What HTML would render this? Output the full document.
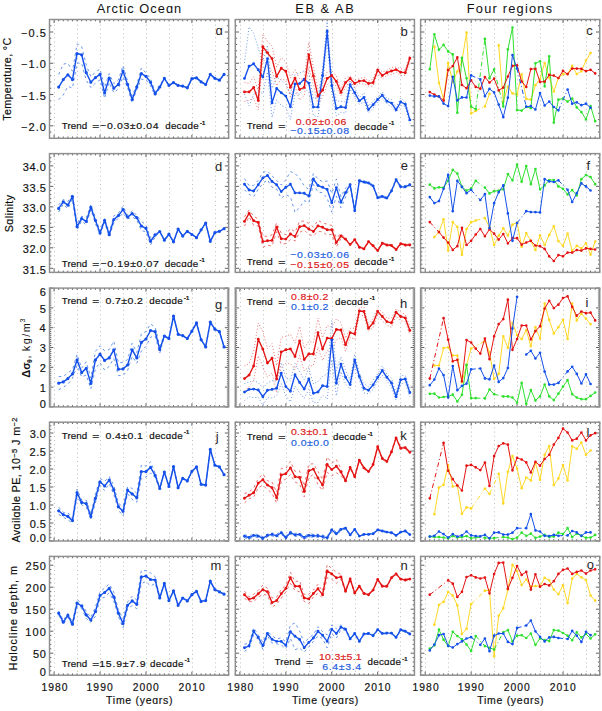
<!DOCTYPE html>
<html><head><meta charset="utf-8"><title>Figure</title>
<style>html,body{margin:0;padding:0;background:#fff;}svg{display:block;}text{font-family:"Liberation Sans",sans-serif;}.s{stroke:currentColor;stroke-width:0.18px;}</style>
</head><body>
<svg width="602" height="711" viewBox="0 0 602 711" font-family="Liberation Sans, sans-serif">
<rect width="602" height="711" fill="#fff"/>
<line x1="54.5" y1="20.5" x2="54.5" y2="137.3" stroke="#b4b4b4" stroke-width="0.9" stroke-dasharray="1 3.2"/>
<line x1="77.5" y1="20.5" x2="77.5" y2="137.3" stroke="#b4b4b4" stroke-width="0.9" stroke-dasharray="1 3.2"/>
<line x1="100.5" y1="20.5" x2="100.5" y2="137.3" stroke="#b4b4b4" stroke-width="0.9" stroke-dasharray="1 3.2"/>
<line x1="123.5" y1="20.5" x2="123.5" y2="137.3" stroke="#b4b4b4" stroke-width="0.9" stroke-dasharray="1 3.2"/>
<line x1="146.5" y1="20.5" x2="146.5" y2="137.3" stroke="#b4b4b4" stroke-width="0.9" stroke-dasharray="1 3.2"/>
<line x1="169.5" y1="20.5" x2="169.5" y2="137.3" stroke="#b4b4b4" stroke-width="0.9" stroke-dasharray="1 3.2"/>
<line x1="192.5" y1="20.5" x2="192.5" y2="137.3" stroke="#b4b4b4" stroke-width="0.9" stroke-dasharray="1 3.2"/>
<line x1="215.5" y1="20.5" x2="215.5" y2="137.3" stroke="#b4b4b4" stroke-width="0.9" stroke-dasharray="1 3.2"/>
<path d="M49.5 138.3v-1.8M49.5 19.5v1.8M54.09 138.3v-3.5M54.09 19.5v3.5M58.69 138.3v-1.8M58.69 19.5v1.8M63.28 138.3v-1.8M63.28 19.5v1.8M67.87 138.3v-1.8M67.87 19.5v1.8M72.47 138.3v-1.8M72.47 19.5v1.8M77.06 138.3v-1.8M77.06 19.5v1.8M81.66 138.3v-1.8M81.66 19.5v1.8M86.25 138.3v-1.8M86.25 19.5v1.8M90.84 138.3v-1.8M90.84 19.5v1.8M95.44 138.3v-1.8M95.44 19.5v1.8M100.03 138.3v-3.5M100.03 19.5v3.5M104.62 138.3v-1.8M104.62 19.5v1.8M109.22 138.3v-1.8M109.22 19.5v1.8M113.81 138.3v-1.8M113.81 19.5v1.8M118.4 138.3v-1.8M118.4 19.5v1.8M123 138.3v-1.8M123 19.5v1.8M127.59 138.3v-1.8M127.59 19.5v1.8M132.18 138.3v-1.8M132.18 19.5v1.8M136.78 138.3v-1.8M136.78 19.5v1.8M141.37 138.3v-1.8M141.37 19.5v1.8M145.97 138.3v-3.5M145.97 19.5v3.5M150.56 138.3v-1.8M150.56 19.5v1.8M155.15 138.3v-1.8M155.15 19.5v1.8M159.75 138.3v-1.8M159.75 19.5v1.8M164.34 138.3v-1.8M164.34 19.5v1.8M168.93 138.3v-1.8M168.93 19.5v1.8M173.53 138.3v-1.8M173.53 19.5v1.8M178.12 138.3v-1.8M178.12 19.5v1.8M182.71 138.3v-1.8M182.71 19.5v1.8M187.31 138.3v-1.8M187.31 19.5v1.8M191.9 138.3v-3.5M191.9 19.5v3.5M196.49 138.3v-1.8M196.49 19.5v1.8M201.09 138.3v-1.8M201.09 19.5v1.8M205.68 138.3v-1.8M205.68 19.5v1.8M210.28 138.3v-1.8M210.28 19.5v1.8M214.87 138.3v-1.8M214.87 19.5v1.8M219.46 138.3v-1.8M219.46 19.5v1.8M224.06 138.3v-1.8M224.06 19.5v1.8M228.65 138.3v-1.8M228.65 19.5v1.8M49.5 138.3h1.8M228.65 138.3h-1.8M49.5 132.05h1.8M228.65 132.05h-1.8M49.5 125.79h3.8M228.65 125.79h-3.8M49.5 119.54h1.8M228.65 119.54h-1.8M49.5 113.29h1.8M228.65 113.29h-1.8M49.5 107.04h1.8M228.65 107.04h-1.8M49.5 100.78h1.8M228.65 100.78h-1.8M49.5 94.53h3.8M228.65 94.53h-3.8M49.5 88.28h1.8M228.65 88.28h-1.8M49.5 82.03h1.8M228.65 82.03h-1.8M49.5 75.77h1.8M228.65 75.77h-1.8M49.5 69.52h1.8M228.65 69.52h-1.8M49.5 63.27h3.8M228.65 63.27h-3.8M49.5 57.02h1.8M228.65 57.02h-1.8M49.5 50.76h1.8M228.65 50.76h-1.8M49.5 44.51h1.8M228.65 44.51h-1.8M49.5 38.26h1.8M228.65 38.26h-1.8M49.5 32.01h3.8M228.65 32.01h-3.8M49.5 25.75h1.8M228.65 25.75h-1.8M49.5 19.5h1.8M228.65 19.5h-1.8" stroke="#505050" stroke-width="0.9" fill="none"/>
<rect x="49.5" y="19.5" width="179.15" height="118.8" fill="none" stroke="#8e8e8e" stroke-width="1.45"/>
<line x1="240.5" y1="20.5" x2="240.5" y2="137.3" stroke="#b4b4b4" stroke-width="0.9" stroke-dasharray="1 3.2"/>
<line x1="263.5" y1="20.5" x2="263.5" y2="137.3" stroke="#b4b4b4" stroke-width="0.9" stroke-dasharray="1 3.2"/>
<line x1="286.5" y1="20.5" x2="286.5" y2="137.3" stroke="#b4b4b4" stroke-width="0.9" stroke-dasharray="1 3.2"/>
<line x1="309.5" y1="20.5" x2="309.5" y2="137.3" stroke="#b4b4b4" stroke-width="0.9" stroke-dasharray="1 3.2"/>
<line x1="332.5" y1="20.5" x2="332.5" y2="137.3" stroke="#b4b4b4" stroke-width="0.9" stroke-dasharray="1 3.2"/>
<line x1="355.5" y1="20.5" x2="355.5" y2="137.3" stroke="#b4b4b4" stroke-width="0.9" stroke-dasharray="1 3.2"/>
<line x1="378.5" y1="20.5" x2="378.5" y2="137.3" stroke="#b4b4b4" stroke-width="0.9" stroke-dasharray="1 3.2"/>
<line x1="400.5" y1="20.5" x2="400.5" y2="137.3" stroke="#b4b4b4" stroke-width="0.9" stroke-dasharray="1 3.2"/>
<path d="M235.3 138.3v-1.8M235.3 19.5v1.8M239.89 138.3v-3.5M239.89 19.5v3.5M244.49 138.3v-1.8M244.49 19.5v1.8M249.08 138.3v-1.8M249.08 19.5v1.8M253.67 138.3v-1.8M253.67 19.5v1.8M258.27 138.3v-1.8M258.27 19.5v1.8M262.86 138.3v-1.8M262.86 19.5v1.8M267.46 138.3v-1.8M267.46 19.5v1.8M272.05 138.3v-1.8M272.05 19.5v1.8M276.64 138.3v-1.8M276.64 19.5v1.8M281.24 138.3v-1.8M281.24 19.5v1.8M285.83 138.3v-3.5M285.83 19.5v3.5M290.42 138.3v-1.8M290.42 19.5v1.8M295.02 138.3v-1.8M295.02 19.5v1.8M299.61 138.3v-1.8M299.61 19.5v1.8M304.2 138.3v-1.8M304.2 19.5v1.8M308.8 138.3v-1.8M308.8 19.5v1.8M313.39 138.3v-1.8M313.39 19.5v1.8M317.98 138.3v-1.8M317.98 19.5v1.8M322.58 138.3v-1.8M322.58 19.5v1.8M327.17 138.3v-1.8M327.17 19.5v1.8M331.77 138.3v-3.5M331.77 19.5v3.5M336.36 138.3v-1.8M336.36 19.5v1.8M340.95 138.3v-1.8M340.95 19.5v1.8M345.55 138.3v-1.8M345.55 19.5v1.8M350.14 138.3v-1.8M350.14 19.5v1.8M354.73 138.3v-1.8M354.73 19.5v1.8M359.33 138.3v-1.8M359.33 19.5v1.8M363.92 138.3v-1.8M363.92 19.5v1.8M368.51 138.3v-1.8M368.51 19.5v1.8M373.11 138.3v-1.8M373.11 19.5v1.8M377.7 138.3v-3.5M377.7 19.5v3.5M382.29 138.3v-1.8M382.29 19.5v1.8M386.89 138.3v-1.8M386.89 19.5v1.8M391.48 138.3v-1.8M391.48 19.5v1.8M396.08 138.3v-1.8M396.08 19.5v1.8M400.67 138.3v-1.8M400.67 19.5v1.8M405.26 138.3v-1.8M405.26 19.5v1.8M409.86 138.3v-1.8M409.86 19.5v1.8M414.45 138.3v-1.8M414.45 19.5v1.8M235.3 138.3h1.8M414.45 138.3h-1.8M235.3 132.05h1.8M414.45 132.05h-1.8M235.3 125.79h3.8M414.45 125.79h-3.8M235.3 119.54h1.8M414.45 119.54h-1.8M235.3 113.29h1.8M414.45 113.29h-1.8M235.3 107.04h1.8M414.45 107.04h-1.8M235.3 100.78h1.8M414.45 100.78h-1.8M235.3 94.53h3.8M414.45 94.53h-3.8M235.3 88.28h1.8M414.45 88.28h-1.8M235.3 82.03h1.8M414.45 82.03h-1.8M235.3 75.77h1.8M414.45 75.77h-1.8M235.3 69.52h1.8M414.45 69.52h-1.8M235.3 63.27h3.8M414.45 63.27h-3.8M235.3 57.02h1.8M414.45 57.02h-1.8M235.3 50.76h1.8M414.45 50.76h-1.8M235.3 44.51h1.8M414.45 44.51h-1.8M235.3 38.26h1.8M414.45 38.26h-1.8M235.3 32.01h3.8M414.45 32.01h-3.8M235.3 25.75h1.8M414.45 25.75h-1.8M235.3 19.5h1.8M414.45 19.5h-1.8" stroke="#505050" stroke-width="0.9" fill="none"/>
<rect x="235.3" y="19.5" width="179.15" height="118.8" fill="none" stroke="#8e8e8e" stroke-width="1.45"/>
<line x1="425.5" y1="20.5" x2="425.5" y2="137.3" stroke="#b4b4b4" stroke-width="0.9" stroke-dasharray="1 3.2"/>
<line x1="448.5" y1="20.5" x2="448.5" y2="137.3" stroke="#b4b4b4" stroke-width="0.9" stroke-dasharray="1 3.2"/>
<line x1="471.5" y1="20.5" x2="471.5" y2="137.3" stroke="#b4b4b4" stroke-width="0.9" stroke-dasharray="1 3.2"/>
<line x1="494.5" y1="20.5" x2="494.5" y2="137.3" stroke="#b4b4b4" stroke-width="0.9" stroke-dasharray="1 3.2"/>
<line x1="517.5" y1="20.5" x2="517.5" y2="137.3" stroke="#b4b4b4" stroke-width="0.9" stroke-dasharray="1 3.2"/>
<line x1="540.5" y1="20.5" x2="540.5" y2="137.3" stroke="#b4b4b4" stroke-width="0.9" stroke-dasharray="1 3.2"/>
<line x1="563.5" y1="20.5" x2="563.5" y2="137.3" stroke="#b4b4b4" stroke-width="0.9" stroke-dasharray="1 3.2"/>
<line x1="586.5" y1="20.5" x2="586.5" y2="137.3" stroke="#b4b4b4" stroke-width="0.9" stroke-dasharray="1 3.2"/>
<path d="M420.6 138.3v-1.8M420.6 19.5v1.8M425.19 138.3v-3.5M425.19 19.5v3.5M429.79 138.3v-1.8M429.79 19.5v1.8M434.38 138.3v-1.8M434.38 19.5v1.8M438.97 138.3v-1.8M438.97 19.5v1.8M443.57 138.3v-1.8M443.57 19.5v1.8M448.16 138.3v-1.8M448.16 19.5v1.8M452.76 138.3v-1.8M452.76 19.5v1.8M457.35 138.3v-1.8M457.35 19.5v1.8M461.94 138.3v-1.8M461.94 19.5v1.8M466.54 138.3v-1.8M466.54 19.5v1.8M471.13 138.3v-3.5M471.13 19.5v3.5M475.72 138.3v-1.8M475.72 19.5v1.8M480.32 138.3v-1.8M480.32 19.5v1.8M484.91 138.3v-1.8M484.91 19.5v1.8M489.5 138.3v-1.8M489.5 19.5v1.8M494.1 138.3v-1.8M494.1 19.5v1.8M498.69 138.3v-1.8M498.69 19.5v1.8M503.28 138.3v-1.8M503.28 19.5v1.8M507.88 138.3v-1.8M507.88 19.5v1.8M512.47 138.3v-1.8M512.47 19.5v1.8M517.07 138.3v-3.5M517.07 19.5v3.5M521.66 138.3v-1.8M521.66 19.5v1.8M526.25 138.3v-1.8M526.25 19.5v1.8M530.85 138.3v-1.8M530.85 19.5v1.8M535.44 138.3v-1.8M535.44 19.5v1.8M540.03 138.3v-1.8M540.03 19.5v1.8M544.63 138.3v-1.8M544.63 19.5v1.8M549.22 138.3v-1.8M549.22 19.5v1.8M553.81 138.3v-1.8M553.81 19.5v1.8M558.41 138.3v-1.8M558.41 19.5v1.8M563 138.3v-3.5M563 19.5v3.5M567.59 138.3v-1.8M567.59 19.5v1.8M572.19 138.3v-1.8M572.19 19.5v1.8M576.78 138.3v-1.8M576.78 19.5v1.8M581.38 138.3v-1.8M581.38 19.5v1.8M585.97 138.3v-1.8M585.97 19.5v1.8M590.56 138.3v-1.8M590.56 19.5v1.8M595.16 138.3v-1.8M595.16 19.5v1.8M599.75 138.3v-1.8M599.75 19.5v1.8M420.6 138.3h1.8M599.75 138.3h-1.8M420.6 132.05h1.8M599.75 132.05h-1.8M420.6 125.79h3.8M599.75 125.79h-3.8M420.6 119.54h1.8M599.75 119.54h-1.8M420.6 113.29h1.8M599.75 113.29h-1.8M420.6 107.04h1.8M599.75 107.04h-1.8M420.6 100.78h1.8M599.75 100.78h-1.8M420.6 94.53h3.8M599.75 94.53h-3.8M420.6 88.28h1.8M599.75 88.28h-1.8M420.6 82.03h1.8M599.75 82.03h-1.8M420.6 75.77h1.8M599.75 75.77h-1.8M420.6 69.52h1.8M599.75 69.52h-1.8M420.6 63.27h3.8M599.75 63.27h-3.8M420.6 57.02h1.8M599.75 57.02h-1.8M420.6 50.76h1.8M599.75 50.76h-1.8M420.6 44.51h1.8M599.75 44.51h-1.8M420.6 38.26h1.8M599.75 38.26h-1.8M420.6 32.01h3.8M599.75 32.01h-3.8M420.6 25.75h1.8M599.75 25.75h-1.8M420.6 19.5h1.8M599.75 19.5h-1.8" stroke="#505050" stroke-width="0.9" fill="none"/>
<rect x="420.6" y="19.5" width="179.15" height="118.8" fill="none" stroke="#8e8e8e" stroke-width="1.45"/>
<line x1="54.5" y1="154.6" x2="54.5" y2="271.4" stroke="#b4b4b4" stroke-width="0.9" stroke-dasharray="1 3.2"/>
<line x1="77.5" y1="154.6" x2="77.5" y2="271.4" stroke="#b4b4b4" stroke-width="0.9" stroke-dasharray="1 3.2"/>
<line x1="100.5" y1="154.6" x2="100.5" y2="271.4" stroke="#b4b4b4" stroke-width="0.9" stroke-dasharray="1 3.2"/>
<line x1="123.5" y1="154.6" x2="123.5" y2="271.4" stroke="#b4b4b4" stroke-width="0.9" stroke-dasharray="1 3.2"/>
<line x1="146.5" y1="154.6" x2="146.5" y2="271.4" stroke="#b4b4b4" stroke-width="0.9" stroke-dasharray="1 3.2"/>
<line x1="169.5" y1="154.6" x2="169.5" y2="271.4" stroke="#b4b4b4" stroke-width="0.9" stroke-dasharray="1 3.2"/>
<line x1="192.5" y1="154.6" x2="192.5" y2="271.4" stroke="#b4b4b4" stroke-width="0.9" stroke-dasharray="1 3.2"/>
<line x1="215.5" y1="154.6" x2="215.5" y2="271.4" stroke="#b4b4b4" stroke-width="0.9" stroke-dasharray="1 3.2"/>
<path d="M49.5 272.4v-1.8M49.5 153.6v1.8M54.09 272.4v-3.5M54.09 153.6v3.5M58.69 272.4v-1.8M58.69 153.6v1.8M63.28 272.4v-1.8M63.28 153.6v1.8M67.87 272.4v-1.8M67.87 153.6v1.8M72.47 272.4v-1.8M72.47 153.6v1.8M77.06 272.4v-1.8M77.06 153.6v1.8M81.66 272.4v-1.8M81.66 153.6v1.8M86.25 272.4v-1.8M86.25 153.6v1.8M90.84 272.4v-1.8M90.84 153.6v1.8M95.44 272.4v-1.8M95.44 153.6v1.8M100.03 272.4v-3.5M100.03 153.6v3.5M104.62 272.4v-1.8M104.62 153.6v1.8M109.22 272.4v-1.8M109.22 153.6v1.8M113.81 272.4v-1.8M113.81 153.6v1.8M118.4 272.4v-1.8M118.4 153.6v1.8M123 272.4v-1.8M123 153.6v1.8M127.59 272.4v-1.8M127.59 153.6v1.8M132.18 272.4v-1.8M132.18 153.6v1.8M136.78 272.4v-1.8M136.78 153.6v1.8M141.37 272.4v-1.8M141.37 153.6v1.8M145.97 272.4v-3.5M145.97 153.6v3.5M150.56 272.4v-1.8M150.56 153.6v1.8M155.15 272.4v-1.8M155.15 153.6v1.8M159.75 272.4v-1.8M159.75 153.6v1.8M164.34 272.4v-1.8M164.34 153.6v1.8M168.93 272.4v-1.8M168.93 153.6v1.8M173.53 272.4v-1.8M173.53 153.6v1.8M178.12 272.4v-1.8M178.12 153.6v1.8M182.71 272.4v-1.8M182.71 153.6v1.8M187.31 272.4v-1.8M187.31 153.6v1.8M191.9 272.4v-3.5M191.9 153.6v3.5M196.49 272.4v-1.8M196.49 153.6v1.8M201.09 272.4v-1.8M201.09 153.6v1.8M205.68 272.4v-1.8M205.68 153.6v1.8M210.28 272.4v-1.8M210.28 153.6v1.8M214.87 272.4v-1.8M214.87 153.6v1.8M219.46 272.4v-1.8M219.46 153.6v1.8M224.06 272.4v-1.8M224.06 153.6v1.8M228.65 272.4v-1.8M228.65 153.6v1.8M49.5 272.4h1.8M228.65 272.4h-1.8M49.5 268.3h3.8M228.65 268.3h-3.8M49.5 264.21h1.8M228.65 264.21h-1.8M49.5 260.11h1.8M228.65 260.11h-1.8M49.5 256.01h1.8M228.65 256.01h-1.8M49.5 251.92h1.8M228.65 251.92h-1.8M49.5 247.82h3.8M228.65 247.82h-3.8M49.5 243.72h1.8M228.65 243.72h-1.8M49.5 239.63h1.8M228.65 239.63h-1.8M49.5 235.53h1.8M228.65 235.53h-1.8M49.5 231.43h1.8M228.65 231.43h-1.8M49.5 227.34h3.8M228.65 227.34h-3.8M49.5 223.24h1.8M228.65 223.24h-1.8M49.5 219.14h1.8M228.65 219.14h-1.8M49.5 215.05h1.8M228.65 215.05h-1.8M49.5 210.95h1.8M228.65 210.95h-1.8M49.5 206.86h3.8M228.65 206.86h-3.8M49.5 202.76h1.8M228.65 202.76h-1.8M49.5 198.66h1.8M228.65 198.66h-1.8M49.5 194.57h1.8M228.65 194.57h-1.8M49.5 190.47h1.8M228.65 190.47h-1.8M49.5 186.37h3.8M228.65 186.37h-3.8M49.5 182.28h1.8M228.65 182.28h-1.8M49.5 178.18h1.8M228.65 178.18h-1.8M49.5 174.08h1.8M228.65 174.08h-1.8M49.5 169.99h1.8M228.65 169.99h-1.8M49.5 165.89h3.8M228.65 165.89h-3.8M49.5 161.79h1.8M228.65 161.79h-1.8M49.5 157.7h1.8M228.65 157.7h-1.8M49.5 153.6h1.8M228.65 153.6h-1.8" stroke="#505050" stroke-width="0.9" fill="none"/>
<rect x="49.5" y="153.6" width="179.15" height="118.8" fill="none" stroke="#8e8e8e" stroke-width="1.45"/>
<line x1="240.5" y1="154.6" x2="240.5" y2="271.4" stroke="#b4b4b4" stroke-width="0.9" stroke-dasharray="1 3.2"/>
<line x1="263.5" y1="154.6" x2="263.5" y2="271.4" stroke="#b4b4b4" stroke-width="0.9" stroke-dasharray="1 3.2"/>
<line x1="286.5" y1="154.6" x2="286.5" y2="271.4" stroke="#b4b4b4" stroke-width="0.9" stroke-dasharray="1 3.2"/>
<line x1="309.5" y1="154.6" x2="309.5" y2="271.4" stroke="#b4b4b4" stroke-width="0.9" stroke-dasharray="1 3.2"/>
<line x1="332.5" y1="154.6" x2="332.5" y2="271.4" stroke="#b4b4b4" stroke-width="0.9" stroke-dasharray="1 3.2"/>
<line x1="355.5" y1="154.6" x2="355.5" y2="271.4" stroke="#b4b4b4" stroke-width="0.9" stroke-dasharray="1 3.2"/>
<line x1="378.5" y1="154.6" x2="378.5" y2="271.4" stroke="#b4b4b4" stroke-width="0.9" stroke-dasharray="1 3.2"/>
<line x1="400.5" y1="154.6" x2="400.5" y2="271.4" stroke="#b4b4b4" stroke-width="0.9" stroke-dasharray="1 3.2"/>
<path d="M235.3 272.4v-1.8M235.3 153.6v1.8M239.89 272.4v-3.5M239.89 153.6v3.5M244.49 272.4v-1.8M244.49 153.6v1.8M249.08 272.4v-1.8M249.08 153.6v1.8M253.67 272.4v-1.8M253.67 153.6v1.8M258.27 272.4v-1.8M258.27 153.6v1.8M262.86 272.4v-1.8M262.86 153.6v1.8M267.46 272.4v-1.8M267.46 153.6v1.8M272.05 272.4v-1.8M272.05 153.6v1.8M276.64 272.4v-1.8M276.64 153.6v1.8M281.24 272.4v-1.8M281.24 153.6v1.8M285.83 272.4v-3.5M285.83 153.6v3.5M290.42 272.4v-1.8M290.42 153.6v1.8M295.02 272.4v-1.8M295.02 153.6v1.8M299.61 272.4v-1.8M299.61 153.6v1.8M304.2 272.4v-1.8M304.2 153.6v1.8M308.8 272.4v-1.8M308.8 153.6v1.8M313.39 272.4v-1.8M313.39 153.6v1.8M317.98 272.4v-1.8M317.98 153.6v1.8M322.58 272.4v-1.8M322.58 153.6v1.8M327.17 272.4v-1.8M327.17 153.6v1.8M331.77 272.4v-3.5M331.77 153.6v3.5M336.36 272.4v-1.8M336.36 153.6v1.8M340.95 272.4v-1.8M340.95 153.6v1.8M345.55 272.4v-1.8M345.55 153.6v1.8M350.14 272.4v-1.8M350.14 153.6v1.8M354.73 272.4v-1.8M354.73 153.6v1.8M359.33 272.4v-1.8M359.33 153.6v1.8M363.92 272.4v-1.8M363.92 153.6v1.8M368.51 272.4v-1.8M368.51 153.6v1.8M373.11 272.4v-1.8M373.11 153.6v1.8M377.7 272.4v-3.5M377.7 153.6v3.5M382.29 272.4v-1.8M382.29 153.6v1.8M386.89 272.4v-1.8M386.89 153.6v1.8M391.48 272.4v-1.8M391.48 153.6v1.8M396.08 272.4v-1.8M396.08 153.6v1.8M400.67 272.4v-1.8M400.67 153.6v1.8M405.26 272.4v-1.8M405.26 153.6v1.8M409.86 272.4v-1.8M409.86 153.6v1.8M414.45 272.4v-1.8M414.45 153.6v1.8M235.3 272.4h1.8M414.45 272.4h-1.8M235.3 268.3h3.8M414.45 268.3h-3.8M235.3 264.21h1.8M414.45 264.21h-1.8M235.3 260.11h1.8M414.45 260.11h-1.8M235.3 256.01h1.8M414.45 256.01h-1.8M235.3 251.92h1.8M414.45 251.92h-1.8M235.3 247.82h3.8M414.45 247.82h-3.8M235.3 243.72h1.8M414.45 243.72h-1.8M235.3 239.63h1.8M414.45 239.63h-1.8M235.3 235.53h1.8M414.45 235.53h-1.8M235.3 231.43h1.8M414.45 231.43h-1.8M235.3 227.34h3.8M414.45 227.34h-3.8M235.3 223.24h1.8M414.45 223.24h-1.8M235.3 219.14h1.8M414.45 219.14h-1.8M235.3 215.05h1.8M414.45 215.05h-1.8M235.3 210.95h1.8M414.45 210.95h-1.8M235.3 206.86h3.8M414.45 206.86h-3.8M235.3 202.76h1.8M414.45 202.76h-1.8M235.3 198.66h1.8M414.45 198.66h-1.8M235.3 194.57h1.8M414.45 194.57h-1.8M235.3 190.47h1.8M414.45 190.47h-1.8M235.3 186.37h3.8M414.45 186.37h-3.8M235.3 182.28h1.8M414.45 182.28h-1.8M235.3 178.18h1.8M414.45 178.18h-1.8M235.3 174.08h1.8M414.45 174.08h-1.8M235.3 169.99h1.8M414.45 169.99h-1.8M235.3 165.89h3.8M414.45 165.89h-3.8M235.3 161.79h1.8M414.45 161.79h-1.8M235.3 157.7h1.8M414.45 157.7h-1.8M235.3 153.6h1.8M414.45 153.6h-1.8" stroke="#505050" stroke-width="0.9" fill="none"/>
<rect x="235.3" y="153.6" width="179.15" height="118.8" fill="none" stroke="#8e8e8e" stroke-width="1.45"/>
<line x1="425.5" y1="154.6" x2="425.5" y2="271.4" stroke="#b4b4b4" stroke-width="0.9" stroke-dasharray="1 3.2"/>
<line x1="448.5" y1="154.6" x2="448.5" y2="271.4" stroke="#b4b4b4" stroke-width="0.9" stroke-dasharray="1 3.2"/>
<line x1="471.5" y1="154.6" x2="471.5" y2="271.4" stroke="#b4b4b4" stroke-width="0.9" stroke-dasharray="1 3.2"/>
<line x1="494.5" y1="154.6" x2="494.5" y2="271.4" stroke="#b4b4b4" stroke-width="0.9" stroke-dasharray="1 3.2"/>
<line x1="517.5" y1="154.6" x2="517.5" y2="271.4" stroke="#b4b4b4" stroke-width="0.9" stroke-dasharray="1 3.2"/>
<line x1="540.5" y1="154.6" x2="540.5" y2="271.4" stroke="#b4b4b4" stroke-width="0.9" stroke-dasharray="1 3.2"/>
<line x1="563.5" y1="154.6" x2="563.5" y2="271.4" stroke="#b4b4b4" stroke-width="0.9" stroke-dasharray="1 3.2"/>
<line x1="586.5" y1="154.6" x2="586.5" y2="271.4" stroke="#b4b4b4" stroke-width="0.9" stroke-dasharray="1 3.2"/>
<path d="M420.6 272.4v-1.8M420.6 153.6v1.8M425.19 272.4v-3.5M425.19 153.6v3.5M429.79 272.4v-1.8M429.79 153.6v1.8M434.38 272.4v-1.8M434.38 153.6v1.8M438.97 272.4v-1.8M438.97 153.6v1.8M443.57 272.4v-1.8M443.57 153.6v1.8M448.16 272.4v-1.8M448.16 153.6v1.8M452.76 272.4v-1.8M452.76 153.6v1.8M457.35 272.4v-1.8M457.35 153.6v1.8M461.94 272.4v-1.8M461.94 153.6v1.8M466.54 272.4v-1.8M466.54 153.6v1.8M471.13 272.4v-3.5M471.13 153.6v3.5M475.72 272.4v-1.8M475.72 153.6v1.8M480.32 272.4v-1.8M480.32 153.6v1.8M484.91 272.4v-1.8M484.91 153.6v1.8M489.5 272.4v-1.8M489.5 153.6v1.8M494.1 272.4v-1.8M494.1 153.6v1.8M498.69 272.4v-1.8M498.69 153.6v1.8M503.28 272.4v-1.8M503.28 153.6v1.8M507.88 272.4v-1.8M507.88 153.6v1.8M512.47 272.4v-1.8M512.47 153.6v1.8M517.07 272.4v-3.5M517.07 153.6v3.5M521.66 272.4v-1.8M521.66 153.6v1.8M526.25 272.4v-1.8M526.25 153.6v1.8M530.85 272.4v-1.8M530.85 153.6v1.8M535.44 272.4v-1.8M535.44 153.6v1.8M540.03 272.4v-1.8M540.03 153.6v1.8M544.63 272.4v-1.8M544.63 153.6v1.8M549.22 272.4v-1.8M549.22 153.6v1.8M553.81 272.4v-1.8M553.81 153.6v1.8M558.41 272.4v-1.8M558.41 153.6v1.8M563 272.4v-3.5M563 153.6v3.5M567.59 272.4v-1.8M567.59 153.6v1.8M572.19 272.4v-1.8M572.19 153.6v1.8M576.78 272.4v-1.8M576.78 153.6v1.8M581.38 272.4v-1.8M581.38 153.6v1.8M585.97 272.4v-1.8M585.97 153.6v1.8M590.56 272.4v-1.8M590.56 153.6v1.8M595.16 272.4v-1.8M595.16 153.6v1.8M599.75 272.4v-1.8M599.75 153.6v1.8M420.6 272.4h1.8M599.75 272.4h-1.8M420.6 268.3h3.8M599.75 268.3h-3.8M420.6 264.21h1.8M599.75 264.21h-1.8M420.6 260.11h1.8M599.75 260.11h-1.8M420.6 256.01h1.8M599.75 256.01h-1.8M420.6 251.92h1.8M599.75 251.92h-1.8M420.6 247.82h3.8M599.75 247.82h-3.8M420.6 243.72h1.8M599.75 243.72h-1.8M420.6 239.63h1.8M599.75 239.63h-1.8M420.6 235.53h1.8M599.75 235.53h-1.8M420.6 231.43h1.8M599.75 231.43h-1.8M420.6 227.34h3.8M599.75 227.34h-3.8M420.6 223.24h1.8M599.75 223.24h-1.8M420.6 219.14h1.8M599.75 219.14h-1.8M420.6 215.05h1.8M599.75 215.05h-1.8M420.6 210.95h1.8M599.75 210.95h-1.8M420.6 206.86h3.8M599.75 206.86h-3.8M420.6 202.76h1.8M599.75 202.76h-1.8M420.6 198.66h1.8M599.75 198.66h-1.8M420.6 194.57h1.8M599.75 194.57h-1.8M420.6 190.47h1.8M599.75 190.47h-1.8M420.6 186.37h3.8M599.75 186.37h-3.8M420.6 182.28h1.8M599.75 182.28h-1.8M420.6 178.18h1.8M599.75 178.18h-1.8M420.6 174.08h1.8M599.75 174.08h-1.8M420.6 169.99h1.8M599.75 169.99h-1.8M420.6 165.89h3.8M599.75 165.89h-3.8M420.6 161.79h1.8M599.75 161.79h-1.8M420.6 157.7h1.8M599.75 157.7h-1.8M420.6 153.6h1.8M599.75 153.6h-1.8" stroke="#505050" stroke-width="0.9" fill="none"/>
<rect x="420.6" y="153.6" width="179.15" height="118.8" fill="none" stroke="#8e8e8e" stroke-width="1.45"/>
<line x1="54.5" y1="289.1" x2="54.5" y2="405.9" stroke="#b4b4b4" stroke-width="0.9" stroke-dasharray="1 3.2"/>
<line x1="77.5" y1="289.1" x2="77.5" y2="405.9" stroke="#b4b4b4" stroke-width="0.9" stroke-dasharray="1 3.2"/>
<line x1="100.5" y1="289.1" x2="100.5" y2="405.9" stroke="#b4b4b4" stroke-width="0.9" stroke-dasharray="1 3.2"/>
<line x1="123.5" y1="289.1" x2="123.5" y2="405.9" stroke="#b4b4b4" stroke-width="0.9" stroke-dasharray="1 3.2"/>
<line x1="146.5" y1="289.1" x2="146.5" y2="405.9" stroke="#b4b4b4" stroke-width="0.9" stroke-dasharray="1 3.2"/>
<line x1="169.5" y1="289.1" x2="169.5" y2="405.9" stroke="#b4b4b4" stroke-width="0.9" stroke-dasharray="1 3.2"/>
<line x1="192.5" y1="289.1" x2="192.5" y2="405.9" stroke="#b4b4b4" stroke-width="0.9" stroke-dasharray="1 3.2"/>
<line x1="215.5" y1="289.1" x2="215.5" y2="405.9" stroke="#b4b4b4" stroke-width="0.9" stroke-dasharray="1 3.2"/>
<path d="M49.5 406.9v-1.8M49.5 288.1v1.8M54.09 406.9v-3.5M54.09 288.1v3.5M58.69 406.9v-1.8M58.69 288.1v1.8M63.28 406.9v-1.8M63.28 288.1v1.8M67.87 406.9v-1.8M67.87 288.1v1.8M72.47 406.9v-1.8M72.47 288.1v1.8M77.06 406.9v-1.8M77.06 288.1v1.8M81.66 406.9v-1.8M81.66 288.1v1.8M86.25 406.9v-1.8M86.25 288.1v1.8M90.84 406.9v-1.8M90.84 288.1v1.8M95.44 406.9v-1.8M95.44 288.1v1.8M100.03 406.9v-3.5M100.03 288.1v3.5M104.62 406.9v-1.8M104.62 288.1v1.8M109.22 406.9v-1.8M109.22 288.1v1.8M113.81 406.9v-1.8M113.81 288.1v1.8M118.4 406.9v-1.8M118.4 288.1v1.8M123 406.9v-1.8M123 288.1v1.8M127.59 406.9v-1.8M127.59 288.1v1.8M132.18 406.9v-1.8M132.18 288.1v1.8M136.78 406.9v-1.8M136.78 288.1v1.8M141.37 406.9v-1.8M141.37 288.1v1.8M145.97 406.9v-3.5M145.97 288.1v3.5M150.56 406.9v-1.8M150.56 288.1v1.8M155.15 406.9v-1.8M155.15 288.1v1.8M159.75 406.9v-1.8M159.75 288.1v1.8M164.34 406.9v-1.8M164.34 288.1v1.8M168.93 406.9v-1.8M168.93 288.1v1.8M173.53 406.9v-1.8M173.53 288.1v1.8M178.12 406.9v-1.8M178.12 288.1v1.8M182.71 406.9v-1.8M182.71 288.1v1.8M187.31 406.9v-1.8M187.31 288.1v1.8M191.9 406.9v-3.5M191.9 288.1v3.5M196.49 406.9v-1.8M196.49 288.1v1.8M201.09 406.9v-1.8M201.09 288.1v1.8M205.68 406.9v-1.8M205.68 288.1v1.8M210.28 406.9v-1.8M210.28 288.1v1.8M214.87 406.9v-1.8M214.87 288.1v1.8M219.46 406.9v-1.8M219.46 288.1v1.8M224.06 406.9v-1.8M224.06 288.1v1.8M228.65 406.9v-1.8M228.65 288.1v1.8M49.5 406.9h3.8M228.65 406.9h-3.8M49.5 404.92h1.8M228.65 404.92h-1.8M49.5 402.94h1.8M228.65 402.94h-1.8M49.5 400.96h1.8M228.65 400.96h-1.8M49.5 398.98h1.8M228.65 398.98h-1.8M49.5 397h1.8M228.65 397h-1.8M49.5 395.02h1.8M228.65 395.02h-1.8M49.5 393.04h1.8M228.65 393.04h-1.8M49.5 391.06h1.8M228.65 391.06h-1.8M49.5 389.08h1.8M228.65 389.08h-1.8M49.5 387.1h3.8M228.65 387.1h-3.8M49.5 385.12h1.8M228.65 385.12h-1.8M49.5 383.14h1.8M228.65 383.14h-1.8M49.5 381.16h1.8M228.65 381.16h-1.8M49.5 379.18h1.8M228.65 379.18h-1.8M49.5 377.2h1.8M228.65 377.2h-1.8M49.5 375.22h1.8M228.65 375.22h-1.8M49.5 373.24h1.8M228.65 373.24h-1.8M49.5 371.26h1.8M228.65 371.26h-1.8M49.5 369.28h1.8M228.65 369.28h-1.8M49.5 367.3h3.8M228.65 367.3h-3.8M49.5 365.32h1.8M228.65 365.32h-1.8M49.5 363.34h1.8M228.65 363.34h-1.8M49.5 361.36h1.8M228.65 361.36h-1.8M49.5 359.38h1.8M228.65 359.38h-1.8M49.5 357.4h1.8M228.65 357.4h-1.8M49.5 355.42h1.8M228.65 355.42h-1.8M49.5 353.44h1.8M228.65 353.44h-1.8M49.5 351.46h1.8M228.65 351.46h-1.8M49.5 349.48h1.8M228.65 349.48h-1.8M49.5 347.5h3.8M228.65 347.5h-3.8M49.5 345.52h1.8M228.65 345.52h-1.8M49.5 343.54h1.8M228.65 343.54h-1.8M49.5 341.56h1.8M228.65 341.56h-1.8M49.5 339.58h1.8M228.65 339.58h-1.8M49.5 337.6h1.8M228.65 337.6h-1.8M49.5 335.62h1.8M228.65 335.62h-1.8M49.5 333.64h1.8M228.65 333.64h-1.8M49.5 331.66h1.8M228.65 331.66h-1.8M49.5 329.68h1.8M228.65 329.68h-1.8M49.5 327.7h3.8M228.65 327.7h-3.8M49.5 325.72h1.8M228.65 325.72h-1.8M49.5 323.74h1.8M228.65 323.74h-1.8M49.5 321.76h1.8M228.65 321.76h-1.8M49.5 319.78h1.8M228.65 319.78h-1.8M49.5 317.8h1.8M228.65 317.8h-1.8M49.5 315.82h1.8M228.65 315.82h-1.8M49.5 313.84h1.8M228.65 313.84h-1.8M49.5 311.86h1.8M228.65 311.86h-1.8M49.5 309.88h1.8M228.65 309.88h-1.8M49.5 307.9h3.8M228.65 307.9h-3.8M49.5 305.92h1.8M228.65 305.92h-1.8M49.5 303.94h1.8M228.65 303.94h-1.8M49.5 301.96h1.8M228.65 301.96h-1.8M49.5 299.98h1.8M228.65 299.98h-1.8M49.5 298h1.8M228.65 298h-1.8M49.5 296.02h1.8M228.65 296.02h-1.8M49.5 294.04h1.8M228.65 294.04h-1.8M49.5 292.06h1.8M228.65 292.06h-1.8M49.5 290.08h1.8M228.65 290.08h-1.8M49.5 288.1h3.8M228.65 288.1h-3.8" stroke="#505050" stroke-width="0.9" fill="none"/>
<rect x="49.5" y="288.1" width="179.15" height="118.8" fill="none" stroke="#8e8e8e" stroke-width="1.45"/>
<line x1="240.5" y1="289.1" x2="240.5" y2="405.9" stroke="#b4b4b4" stroke-width="0.9" stroke-dasharray="1 3.2"/>
<line x1="263.5" y1="289.1" x2="263.5" y2="405.9" stroke="#b4b4b4" stroke-width="0.9" stroke-dasharray="1 3.2"/>
<line x1="286.5" y1="289.1" x2="286.5" y2="405.9" stroke="#b4b4b4" stroke-width="0.9" stroke-dasharray="1 3.2"/>
<line x1="309.5" y1="289.1" x2="309.5" y2="405.9" stroke="#b4b4b4" stroke-width="0.9" stroke-dasharray="1 3.2"/>
<line x1="332.5" y1="289.1" x2="332.5" y2="405.9" stroke="#b4b4b4" stroke-width="0.9" stroke-dasharray="1 3.2"/>
<line x1="355.5" y1="289.1" x2="355.5" y2="405.9" stroke="#b4b4b4" stroke-width="0.9" stroke-dasharray="1 3.2"/>
<line x1="378.5" y1="289.1" x2="378.5" y2="405.9" stroke="#b4b4b4" stroke-width="0.9" stroke-dasharray="1 3.2"/>
<line x1="400.5" y1="289.1" x2="400.5" y2="405.9" stroke="#b4b4b4" stroke-width="0.9" stroke-dasharray="1 3.2"/>
<path d="M235.3 406.9v-1.8M235.3 288.1v1.8M239.89 406.9v-3.5M239.89 288.1v3.5M244.49 406.9v-1.8M244.49 288.1v1.8M249.08 406.9v-1.8M249.08 288.1v1.8M253.67 406.9v-1.8M253.67 288.1v1.8M258.27 406.9v-1.8M258.27 288.1v1.8M262.86 406.9v-1.8M262.86 288.1v1.8M267.46 406.9v-1.8M267.46 288.1v1.8M272.05 406.9v-1.8M272.05 288.1v1.8M276.64 406.9v-1.8M276.64 288.1v1.8M281.24 406.9v-1.8M281.24 288.1v1.8M285.83 406.9v-3.5M285.83 288.1v3.5M290.42 406.9v-1.8M290.42 288.1v1.8M295.02 406.9v-1.8M295.02 288.1v1.8M299.61 406.9v-1.8M299.61 288.1v1.8M304.2 406.9v-1.8M304.2 288.1v1.8M308.8 406.9v-1.8M308.8 288.1v1.8M313.39 406.9v-1.8M313.39 288.1v1.8M317.98 406.9v-1.8M317.98 288.1v1.8M322.58 406.9v-1.8M322.58 288.1v1.8M327.17 406.9v-1.8M327.17 288.1v1.8M331.77 406.9v-3.5M331.77 288.1v3.5M336.36 406.9v-1.8M336.36 288.1v1.8M340.95 406.9v-1.8M340.95 288.1v1.8M345.55 406.9v-1.8M345.55 288.1v1.8M350.14 406.9v-1.8M350.14 288.1v1.8M354.73 406.9v-1.8M354.73 288.1v1.8M359.33 406.9v-1.8M359.33 288.1v1.8M363.92 406.9v-1.8M363.92 288.1v1.8M368.51 406.9v-1.8M368.51 288.1v1.8M373.11 406.9v-1.8M373.11 288.1v1.8M377.7 406.9v-3.5M377.7 288.1v3.5M382.29 406.9v-1.8M382.29 288.1v1.8M386.89 406.9v-1.8M386.89 288.1v1.8M391.48 406.9v-1.8M391.48 288.1v1.8M396.08 406.9v-1.8M396.08 288.1v1.8M400.67 406.9v-1.8M400.67 288.1v1.8M405.26 406.9v-1.8M405.26 288.1v1.8M409.86 406.9v-1.8M409.86 288.1v1.8M414.45 406.9v-1.8M414.45 288.1v1.8M235.3 406.9h3.8M414.45 406.9h-3.8M235.3 404.92h1.8M414.45 404.92h-1.8M235.3 402.94h1.8M414.45 402.94h-1.8M235.3 400.96h1.8M414.45 400.96h-1.8M235.3 398.98h1.8M414.45 398.98h-1.8M235.3 397h1.8M414.45 397h-1.8M235.3 395.02h1.8M414.45 395.02h-1.8M235.3 393.04h1.8M414.45 393.04h-1.8M235.3 391.06h1.8M414.45 391.06h-1.8M235.3 389.08h1.8M414.45 389.08h-1.8M235.3 387.1h3.8M414.45 387.1h-3.8M235.3 385.12h1.8M414.45 385.12h-1.8M235.3 383.14h1.8M414.45 383.14h-1.8M235.3 381.16h1.8M414.45 381.16h-1.8M235.3 379.18h1.8M414.45 379.18h-1.8M235.3 377.2h1.8M414.45 377.2h-1.8M235.3 375.22h1.8M414.45 375.22h-1.8M235.3 373.24h1.8M414.45 373.24h-1.8M235.3 371.26h1.8M414.45 371.26h-1.8M235.3 369.28h1.8M414.45 369.28h-1.8M235.3 367.3h3.8M414.45 367.3h-3.8M235.3 365.32h1.8M414.45 365.32h-1.8M235.3 363.34h1.8M414.45 363.34h-1.8M235.3 361.36h1.8M414.45 361.36h-1.8M235.3 359.38h1.8M414.45 359.38h-1.8M235.3 357.4h1.8M414.45 357.4h-1.8M235.3 355.42h1.8M414.45 355.42h-1.8M235.3 353.44h1.8M414.45 353.44h-1.8M235.3 351.46h1.8M414.45 351.46h-1.8M235.3 349.48h1.8M414.45 349.48h-1.8M235.3 347.5h3.8M414.45 347.5h-3.8M235.3 345.52h1.8M414.45 345.52h-1.8M235.3 343.54h1.8M414.45 343.54h-1.8M235.3 341.56h1.8M414.45 341.56h-1.8M235.3 339.58h1.8M414.45 339.58h-1.8M235.3 337.6h1.8M414.45 337.6h-1.8M235.3 335.62h1.8M414.45 335.62h-1.8M235.3 333.64h1.8M414.45 333.64h-1.8M235.3 331.66h1.8M414.45 331.66h-1.8M235.3 329.68h1.8M414.45 329.68h-1.8M235.3 327.7h3.8M414.45 327.7h-3.8M235.3 325.72h1.8M414.45 325.72h-1.8M235.3 323.74h1.8M414.45 323.74h-1.8M235.3 321.76h1.8M414.45 321.76h-1.8M235.3 319.78h1.8M414.45 319.78h-1.8M235.3 317.8h1.8M414.45 317.8h-1.8M235.3 315.82h1.8M414.45 315.82h-1.8M235.3 313.84h1.8M414.45 313.84h-1.8M235.3 311.86h1.8M414.45 311.86h-1.8M235.3 309.88h1.8M414.45 309.88h-1.8M235.3 307.9h3.8M414.45 307.9h-3.8M235.3 305.92h1.8M414.45 305.92h-1.8M235.3 303.94h1.8M414.45 303.94h-1.8M235.3 301.96h1.8M414.45 301.96h-1.8M235.3 299.98h1.8M414.45 299.98h-1.8M235.3 298h1.8M414.45 298h-1.8M235.3 296.02h1.8M414.45 296.02h-1.8M235.3 294.04h1.8M414.45 294.04h-1.8M235.3 292.06h1.8M414.45 292.06h-1.8M235.3 290.08h1.8M414.45 290.08h-1.8M235.3 288.1h3.8M414.45 288.1h-3.8" stroke="#505050" stroke-width="0.9" fill="none"/>
<rect x="235.3" y="288.1" width="179.15" height="118.8" fill="none" stroke="#8e8e8e" stroke-width="1.45"/>
<line x1="425.5" y1="289.1" x2="425.5" y2="405.9" stroke="#b4b4b4" stroke-width="0.9" stroke-dasharray="1 3.2"/>
<line x1="448.5" y1="289.1" x2="448.5" y2="405.9" stroke="#b4b4b4" stroke-width="0.9" stroke-dasharray="1 3.2"/>
<line x1="471.5" y1="289.1" x2="471.5" y2="405.9" stroke="#b4b4b4" stroke-width="0.9" stroke-dasharray="1 3.2"/>
<line x1="494.5" y1="289.1" x2="494.5" y2="405.9" stroke="#b4b4b4" stroke-width="0.9" stroke-dasharray="1 3.2"/>
<line x1="517.5" y1="289.1" x2="517.5" y2="405.9" stroke="#b4b4b4" stroke-width="0.9" stroke-dasharray="1 3.2"/>
<line x1="540.5" y1="289.1" x2="540.5" y2="405.9" stroke="#b4b4b4" stroke-width="0.9" stroke-dasharray="1 3.2"/>
<line x1="563.5" y1="289.1" x2="563.5" y2="405.9" stroke="#b4b4b4" stroke-width="0.9" stroke-dasharray="1 3.2"/>
<line x1="586.5" y1="289.1" x2="586.5" y2="405.9" stroke="#b4b4b4" stroke-width="0.9" stroke-dasharray="1 3.2"/>
<path d="M420.6 406.9v-1.8M420.6 288.1v1.8M425.19 406.9v-3.5M425.19 288.1v3.5M429.79 406.9v-1.8M429.79 288.1v1.8M434.38 406.9v-1.8M434.38 288.1v1.8M438.97 406.9v-1.8M438.97 288.1v1.8M443.57 406.9v-1.8M443.57 288.1v1.8M448.16 406.9v-1.8M448.16 288.1v1.8M452.76 406.9v-1.8M452.76 288.1v1.8M457.35 406.9v-1.8M457.35 288.1v1.8M461.94 406.9v-1.8M461.94 288.1v1.8M466.54 406.9v-1.8M466.54 288.1v1.8M471.13 406.9v-3.5M471.13 288.1v3.5M475.72 406.9v-1.8M475.72 288.1v1.8M480.32 406.9v-1.8M480.32 288.1v1.8M484.91 406.9v-1.8M484.91 288.1v1.8M489.5 406.9v-1.8M489.5 288.1v1.8M494.1 406.9v-1.8M494.1 288.1v1.8M498.69 406.9v-1.8M498.69 288.1v1.8M503.28 406.9v-1.8M503.28 288.1v1.8M507.88 406.9v-1.8M507.88 288.1v1.8M512.47 406.9v-1.8M512.47 288.1v1.8M517.07 406.9v-3.5M517.07 288.1v3.5M521.66 406.9v-1.8M521.66 288.1v1.8M526.25 406.9v-1.8M526.25 288.1v1.8M530.85 406.9v-1.8M530.85 288.1v1.8M535.44 406.9v-1.8M535.44 288.1v1.8M540.03 406.9v-1.8M540.03 288.1v1.8M544.63 406.9v-1.8M544.63 288.1v1.8M549.22 406.9v-1.8M549.22 288.1v1.8M553.81 406.9v-1.8M553.81 288.1v1.8M558.41 406.9v-1.8M558.41 288.1v1.8M563 406.9v-3.5M563 288.1v3.5M567.59 406.9v-1.8M567.59 288.1v1.8M572.19 406.9v-1.8M572.19 288.1v1.8M576.78 406.9v-1.8M576.78 288.1v1.8M581.38 406.9v-1.8M581.38 288.1v1.8M585.97 406.9v-1.8M585.97 288.1v1.8M590.56 406.9v-1.8M590.56 288.1v1.8M595.16 406.9v-1.8M595.16 288.1v1.8M599.75 406.9v-1.8M599.75 288.1v1.8M420.6 406.9h3.8M599.75 406.9h-3.8M420.6 404.92h1.8M599.75 404.92h-1.8M420.6 402.94h1.8M599.75 402.94h-1.8M420.6 400.96h1.8M599.75 400.96h-1.8M420.6 398.98h1.8M599.75 398.98h-1.8M420.6 397h1.8M599.75 397h-1.8M420.6 395.02h1.8M599.75 395.02h-1.8M420.6 393.04h1.8M599.75 393.04h-1.8M420.6 391.06h1.8M599.75 391.06h-1.8M420.6 389.08h1.8M599.75 389.08h-1.8M420.6 387.1h3.8M599.75 387.1h-3.8M420.6 385.12h1.8M599.75 385.12h-1.8M420.6 383.14h1.8M599.75 383.14h-1.8M420.6 381.16h1.8M599.75 381.16h-1.8M420.6 379.18h1.8M599.75 379.18h-1.8M420.6 377.2h1.8M599.75 377.2h-1.8M420.6 375.22h1.8M599.75 375.22h-1.8M420.6 373.24h1.8M599.75 373.24h-1.8M420.6 371.26h1.8M599.75 371.26h-1.8M420.6 369.28h1.8M599.75 369.28h-1.8M420.6 367.3h3.8M599.75 367.3h-3.8M420.6 365.32h1.8M599.75 365.32h-1.8M420.6 363.34h1.8M599.75 363.34h-1.8M420.6 361.36h1.8M599.75 361.36h-1.8M420.6 359.38h1.8M599.75 359.38h-1.8M420.6 357.4h1.8M599.75 357.4h-1.8M420.6 355.42h1.8M599.75 355.42h-1.8M420.6 353.44h1.8M599.75 353.44h-1.8M420.6 351.46h1.8M599.75 351.46h-1.8M420.6 349.48h1.8M599.75 349.48h-1.8M420.6 347.5h3.8M599.75 347.5h-3.8M420.6 345.52h1.8M599.75 345.52h-1.8M420.6 343.54h1.8M599.75 343.54h-1.8M420.6 341.56h1.8M599.75 341.56h-1.8M420.6 339.58h1.8M599.75 339.58h-1.8M420.6 337.6h1.8M599.75 337.6h-1.8M420.6 335.62h1.8M599.75 335.62h-1.8M420.6 333.64h1.8M599.75 333.64h-1.8M420.6 331.66h1.8M599.75 331.66h-1.8M420.6 329.68h1.8M599.75 329.68h-1.8M420.6 327.7h3.8M599.75 327.7h-3.8M420.6 325.72h1.8M599.75 325.72h-1.8M420.6 323.74h1.8M599.75 323.74h-1.8M420.6 321.76h1.8M599.75 321.76h-1.8M420.6 319.78h1.8M599.75 319.78h-1.8M420.6 317.8h1.8M599.75 317.8h-1.8M420.6 315.82h1.8M599.75 315.82h-1.8M420.6 313.84h1.8M599.75 313.84h-1.8M420.6 311.86h1.8M599.75 311.86h-1.8M420.6 309.88h1.8M599.75 309.88h-1.8M420.6 307.9h3.8M599.75 307.9h-3.8M420.6 305.92h1.8M599.75 305.92h-1.8M420.6 303.94h1.8M599.75 303.94h-1.8M420.6 301.96h1.8M599.75 301.96h-1.8M420.6 299.98h1.8M599.75 299.98h-1.8M420.6 298h1.8M599.75 298h-1.8M420.6 296.02h1.8M599.75 296.02h-1.8M420.6 294.04h1.8M599.75 294.04h-1.8M420.6 292.06h1.8M599.75 292.06h-1.8M420.6 290.08h1.8M599.75 290.08h-1.8M420.6 288.1h3.8M599.75 288.1h-3.8" stroke="#505050" stroke-width="0.9" fill="none"/>
<rect x="420.6" y="288.1" width="179.15" height="118.8" fill="none" stroke="#8e8e8e" stroke-width="1.45"/>
<line x1="54.5" y1="423.2" x2="54.5" y2="540" stroke="#b4b4b4" stroke-width="0.9" stroke-dasharray="1 3.2"/>
<line x1="77.5" y1="423.2" x2="77.5" y2="540" stroke="#b4b4b4" stroke-width="0.9" stroke-dasharray="1 3.2"/>
<line x1="100.5" y1="423.2" x2="100.5" y2="540" stroke="#b4b4b4" stroke-width="0.9" stroke-dasharray="1 3.2"/>
<line x1="123.5" y1="423.2" x2="123.5" y2="540" stroke="#b4b4b4" stroke-width="0.9" stroke-dasharray="1 3.2"/>
<line x1="146.5" y1="423.2" x2="146.5" y2="540" stroke="#b4b4b4" stroke-width="0.9" stroke-dasharray="1 3.2"/>
<line x1="169.5" y1="423.2" x2="169.5" y2="540" stroke="#b4b4b4" stroke-width="0.9" stroke-dasharray="1 3.2"/>
<line x1="192.5" y1="423.2" x2="192.5" y2="540" stroke="#b4b4b4" stroke-width="0.9" stroke-dasharray="1 3.2"/>
<line x1="215.5" y1="423.2" x2="215.5" y2="540" stroke="#b4b4b4" stroke-width="0.9" stroke-dasharray="1 3.2"/>
<path d="M49.5 541v-1.8M49.5 422.2v1.8M54.09 541v-3.5M54.09 422.2v3.5M58.69 541v-1.8M58.69 422.2v1.8M63.28 541v-1.8M63.28 422.2v1.8M67.87 541v-1.8M67.87 422.2v1.8M72.47 541v-1.8M72.47 422.2v1.8M77.06 541v-1.8M77.06 422.2v1.8M81.66 541v-1.8M81.66 422.2v1.8M86.25 541v-1.8M86.25 422.2v1.8M90.84 541v-1.8M90.84 422.2v1.8M95.44 541v-1.8M95.44 422.2v1.8M100.03 541v-3.5M100.03 422.2v3.5M104.62 541v-1.8M104.62 422.2v1.8M109.22 541v-1.8M109.22 422.2v1.8M113.81 541v-1.8M113.81 422.2v1.8M118.4 541v-1.8M118.4 422.2v1.8M123 541v-1.8M123 422.2v1.8M127.59 541v-1.8M127.59 422.2v1.8M132.18 541v-1.8M132.18 422.2v1.8M136.78 541v-1.8M136.78 422.2v1.8M141.37 541v-1.8M141.37 422.2v1.8M145.97 541v-3.5M145.97 422.2v3.5M150.56 541v-1.8M150.56 422.2v1.8M155.15 541v-1.8M155.15 422.2v1.8M159.75 541v-1.8M159.75 422.2v1.8M164.34 541v-1.8M164.34 422.2v1.8M168.93 541v-1.8M168.93 422.2v1.8M173.53 541v-1.8M173.53 422.2v1.8M178.12 541v-1.8M178.12 422.2v1.8M182.71 541v-1.8M182.71 422.2v1.8M187.31 541v-1.8M187.31 422.2v1.8M191.9 541v-3.5M191.9 422.2v3.5M196.49 541v-1.8M196.49 422.2v1.8M201.09 541v-1.8M201.09 422.2v1.8M205.68 541v-1.8M205.68 422.2v1.8M210.28 541v-1.8M210.28 422.2v1.8M214.87 541v-1.8M214.87 422.2v1.8M219.46 541v-1.8M219.46 422.2v1.8M224.06 541v-1.8M224.06 422.2v1.8M228.65 541v-1.8M228.65 422.2v1.8M49.5 541h3.8M228.65 541h-3.8M49.5 537.4h1.8M228.65 537.4h-1.8M49.5 533.8h1.8M228.65 533.8h-1.8M49.5 530.2h1.8M228.65 530.2h-1.8M49.5 526.6h1.8M228.65 526.6h-1.8M49.5 523h3.8M228.65 523h-3.8M49.5 519.4h1.8M228.65 519.4h-1.8M49.5 515.8h1.8M228.65 515.8h-1.8M49.5 512.2h1.8M228.65 512.2h-1.8M49.5 508.6h1.8M228.65 508.6h-1.8M49.5 505h3.8M228.65 505h-3.8M49.5 501.4h1.8M228.65 501.4h-1.8M49.5 497.8h1.8M228.65 497.8h-1.8M49.5 494.2h1.8M228.65 494.2h-1.8M49.5 490.6h1.8M228.65 490.6h-1.8M49.5 487h3.8M228.65 487h-3.8M49.5 483.4h1.8M228.65 483.4h-1.8M49.5 479.8h1.8M228.65 479.8h-1.8M49.5 476.2h1.8M228.65 476.2h-1.8M49.5 472.6h1.8M228.65 472.6h-1.8M49.5 469h3.8M228.65 469h-3.8M49.5 465.4h1.8M228.65 465.4h-1.8M49.5 461.8h1.8M228.65 461.8h-1.8M49.5 458.2h1.8M228.65 458.2h-1.8M49.5 454.6h1.8M228.65 454.6h-1.8M49.5 451h3.8M228.65 451h-3.8M49.5 447.4h1.8M228.65 447.4h-1.8M49.5 443.8h1.8M228.65 443.8h-1.8M49.5 440.2h1.8M228.65 440.2h-1.8M49.5 436.6h1.8M228.65 436.6h-1.8M49.5 433h3.8M228.65 433h-3.8M49.5 429.4h1.8M228.65 429.4h-1.8M49.5 425.8h1.8M228.65 425.8h-1.8M49.5 422.2h1.8M228.65 422.2h-1.8" stroke="#505050" stroke-width="0.9" fill="none"/>
<rect x="49.5" y="422.2" width="179.15" height="118.8" fill="none" stroke="#8e8e8e" stroke-width="1.45"/>
<line x1="240.5" y1="423.2" x2="240.5" y2="540" stroke="#b4b4b4" stroke-width="0.9" stroke-dasharray="1 3.2"/>
<line x1="263.5" y1="423.2" x2="263.5" y2="540" stroke="#b4b4b4" stroke-width="0.9" stroke-dasharray="1 3.2"/>
<line x1="286.5" y1="423.2" x2="286.5" y2="540" stroke="#b4b4b4" stroke-width="0.9" stroke-dasharray="1 3.2"/>
<line x1="309.5" y1="423.2" x2="309.5" y2="540" stroke="#b4b4b4" stroke-width="0.9" stroke-dasharray="1 3.2"/>
<line x1="332.5" y1="423.2" x2="332.5" y2="540" stroke="#b4b4b4" stroke-width="0.9" stroke-dasharray="1 3.2"/>
<line x1="355.5" y1="423.2" x2="355.5" y2="540" stroke="#b4b4b4" stroke-width="0.9" stroke-dasharray="1 3.2"/>
<line x1="378.5" y1="423.2" x2="378.5" y2="540" stroke="#b4b4b4" stroke-width="0.9" stroke-dasharray="1 3.2"/>
<line x1="400.5" y1="423.2" x2="400.5" y2="540" stroke="#b4b4b4" stroke-width="0.9" stroke-dasharray="1 3.2"/>
<path d="M235.3 541v-1.8M235.3 422.2v1.8M239.89 541v-3.5M239.89 422.2v3.5M244.49 541v-1.8M244.49 422.2v1.8M249.08 541v-1.8M249.08 422.2v1.8M253.67 541v-1.8M253.67 422.2v1.8M258.27 541v-1.8M258.27 422.2v1.8M262.86 541v-1.8M262.86 422.2v1.8M267.46 541v-1.8M267.46 422.2v1.8M272.05 541v-1.8M272.05 422.2v1.8M276.64 541v-1.8M276.64 422.2v1.8M281.24 541v-1.8M281.24 422.2v1.8M285.83 541v-3.5M285.83 422.2v3.5M290.42 541v-1.8M290.42 422.2v1.8M295.02 541v-1.8M295.02 422.2v1.8M299.61 541v-1.8M299.61 422.2v1.8M304.2 541v-1.8M304.2 422.2v1.8M308.8 541v-1.8M308.8 422.2v1.8M313.39 541v-1.8M313.39 422.2v1.8M317.98 541v-1.8M317.98 422.2v1.8M322.58 541v-1.8M322.58 422.2v1.8M327.17 541v-1.8M327.17 422.2v1.8M331.77 541v-3.5M331.77 422.2v3.5M336.36 541v-1.8M336.36 422.2v1.8M340.95 541v-1.8M340.95 422.2v1.8M345.55 541v-1.8M345.55 422.2v1.8M350.14 541v-1.8M350.14 422.2v1.8M354.73 541v-1.8M354.73 422.2v1.8M359.33 541v-1.8M359.33 422.2v1.8M363.92 541v-1.8M363.92 422.2v1.8M368.51 541v-1.8M368.51 422.2v1.8M373.11 541v-1.8M373.11 422.2v1.8M377.7 541v-3.5M377.7 422.2v3.5M382.29 541v-1.8M382.29 422.2v1.8M386.89 541v-1.8M386.89 422.2v1.8M391.48 541v-1.8M391.48 422.2v1.8M396.08 541v-1.8M396.08 422.2v1.8M400.67 541v-1.8M400.67 422.2v1.8M405.26 541v-1.8M405.26 422.2v1.8M409.86 541v-1.8M409.86 422.2v1.8M414.45 541v-1.8M414.45 422.2v1.8M235.3 541h3.8M414.45 541h-3.8M235.3 537.4h1.8M414.45 537.4h-1.8M235.3 533.8h1.8M414.45 533.8h-1.8M235.3 530.2h1.8M414.45 530.2h-1.8M235.3 526.6h1.8M414.45 526.6h-1.8M235.3 523h3.8M414.45 523h-3.8M235.3 519.4h1.8M414.45 519.4h-1.8M235.3 515.8h1.8M414.45 515.8h-1.8M235.3 512.2h1.8M414.45 512.2h-1.8M235.3 508.6h1.8M414.45 508.6h-1.8M235.3 505h3.8M414.45 505h-3.8M235.3 501.4h1.8M414.45 501.4h-1.8M235.3 497.8h1.8M414.45 497.8h-1.8M235.3 494.2h1.8M414.45 494.2h-1.8M235.3 490.6h1.8M414.45 490.6h-1.8M235.3 487h3.8M414.45 487h-3.8M235.3 483.4h1.8M414.45 483.4h-1.8M235.3 479.8h1.8M414.45 479.8h-1.8M235.3 476.2h1.8M414.45 476.2h-1.8M235.3 472.6h1.8M414.45 472.6h-1.8M235.3 469h3.8M414.45 469h-3.8M235.3 465.4h1.8M414.45 465.4h-1.8M235.3 461.8h1.8M414.45 461.8h-1.8M235.3 458.2h1.8M414.45 458.2h-1.8M235.3 454.6h1.8M414.45 454.6h-1.8M235.3 451h3.8M414.45 451h-3.8M235.3 447.4h1.8M414.45 447.4h-1.8M235.3 443.8h1.8M414.45 443.8h-1.8M235.3 440.2h1.8M414.45 440.2h-1.8M235.3 436.6h1.8M414.45 436.6h-1.8M235.3 433h3.8M414.45 433h-3.8M235.3 429.4h1.8M414.45 429.4h-1.8M235.3 425.8h1.8M414.45 425.8h-1.8M235.3 422.2h1.8M414.45 422.2h-1.8" stroke="#505050" stroke-width="0.9" fill="none"/>
<rect x="235.3" y="422.2" width="179.15" height="118.8" fill="none" stroke="#8e8e8e" stroke-width="1.45"/>
<line x1="425.5" y1="423.2" x2="425.5" y2="540" stroke="#b4b4b4" stroke-width="0.9" stroke-dasharray="1 3.2"/>
<line x1="448.5" y1="423.2" x2="448.5" y2="540" stroke="#b4b4b4" stroke-width="0.9" stroke-dasharray="1 3.2"/>
<line x1="471.5" y1="423.2" x2="471.5" y2="540" stroke="#b4b4b4" stroke-width="0.9" stroke-dasharray="1 3.2"/>
<line x1="494.5" y1="423.2" x2="494.5" y2="540" stroke="#b4b4b4" stroke-width="0.9" stroke-dasharray="1 3.2"/>
<line x1="517.5" y1="423.2" x2="517.5" y2="540" stroke="#b4b4b4" stroke-width="0.9" stroke-dasharray="1 3.2"/>
<line x1="540.5" y1="423.2" x2="540.5" y2="540" stroke="#b4b4b4" stroke-width="0.9" stroke-dasharray="1 3.2"/>
<line x1="563.5" y1="423.2" x2="563.5" y2="540" stroke="#b4b4b4" stroke-width="0.9" stroke-dasharray="1 3.2"/>
<line x1="586.5" y1="423.2" x2="586.5" y2="540" stroke="#b4b4b4" stroke-width="0.9" stroke-dasharray="1 3.2"/>
<path d="M420.6 541v-1.8M420.6 422.2v1.8M425.19 541v-3.5M425.19 422.2v3.5M429.79 541v-1.8M429.79 422.2v1.8M434.38 541v-1.8M434.38 422.2v1.8M438.97 541v-1.8M438.97 422.2v1.8M443.57 541v-1.8M443.57 422.2v1.8M448.16 541v-1.8M448.16 422.2v1.8M452.76 541v-1.8M452.76 422.2v1.8M457.35 541v-1.8M457.35 422.2v1.8M461.94 541v-1.8M461.94 422.2v1.8M466.54 541v-1.8M466.54 422.2v1.8M471.13 541v-3.5M471.13 422.2v3.5M475.72 541v-1.8M475.72 422.2v1.8M480.32 541v-1.8M480.32 422.2v1.8M484.91 541v-1.8M484.91 422.2v1.8M489.5 541v-1.8M489.5 422.2v1.8M494.1 541v-1.8M494.1 422.2v1.8M498.69 541v-1.8M498.69 422.2v1.8M503.28 541v-1.8M503.28 422.2v1.8M507.88 541v-1.8M507.88 422.2v1.8M512.47 541v-1.8M512.47 422.2v1.8M517.07 541v-3.5M517.07 422.2v3.5M521.66 541v-1.8M521.66 422.2v1.8M526.25 541v-1.8M526.25 422.2v1.8M530.85 541v-1.8M530.85 422.2v1.8M535.44 541v-1.8M535.44 422.2v1.8M540.03 541v-1.8M540.03 422.2v1.8M544.63 541v-1.8M544.63 422.2v1.8M549.22 541v-1.8M549.22 422.2v1.8M553.81 541v-1.8M553.81 422.2v1.8M558.41 541v-1.8M558.41 422.2v1.8M563 541v-3.5M563 422.2v3.5M567.59 541v-1.8M567.59 422.2v1.8M572.19 541v-1.8M572.19 422.2v1.8M576.78 541v-1.8M576.78 422.2v1.8M581.38 541v-1.8M581.38 422.2v1.8M585.97 541v-1.8M585.97 422.2v1.8M590.56 541v-1.8M590.56 422.2v1.8M595.16 541v-1.8M595.16 422.2v1.8M599.75 541v-1.8M599.75 422.2v1.8M420.6 541h3.8M599.75 541h-3.8M420.6 537.4h1.8M599.75 537.4h-1.8M420.6 533.8h1.8M599.75 533.8h-1.8M420.6 530.2h1.8M599.75 530.2h-1.8M420.6 526.6h1.8M599.75 526.6h-1.8M420.6 523h3.8M599.75 523h-3.8M420.6 519.4h1.8M599.75 519.4h-1.8M420.6 515.8h1.8M599.75 515.8h-1.8M420.6 512.2h1.8M599.75 512.2h-1.8M420.6 508.6h1.8M599.75 508.6h-1.8M420.6 505h3.8M599.75 505h-3.8M420.6 501.4h1.8M599.75 501.4h-1.8M420.6 497.8h1.8M599.75 497.8h-1.8M420.6 494.2h1.8M599.75 494.2h-1.8M420.6 490.6h1.8M599.75 490.6h-1.8M420.6 487h3.8M599.75 487h-3.8M420.6 483.4h1.8M599.75 483.4h-1.8M420.6 479.8h1.8M599.75 479.8h-1.8M420.6 476.2h1.8M599.75 476.2h-1.8M420.6 472.6h1.8M599.75 472.6h-1.8M420.6 469h3.8M599.75 469h-3.8M420.6 465.4h1.8M599.75 465.4h-1.8M420.6 461.8h1.8M599.75 461.8h-1.8M420.6 458.2h1.8M599.75 458.2h-1.8M420.6 454.6h1.8M599.75 454.6h-1.8M420.6 451h3.8M599.75 451h-3.8M420.6 447.4h1.8M599.75 447.4h-1.8M420.6 443.8h1.8M599.75 443.8h-1.8M420.6 440.2h1.8M599.75 440.2h-1.8M420.6 436.6h1.8M599.75 436.6h-1.8M420.6 433h3.8M599.75 433h-3.8M420.6 429.4h1.8M599.75 429.4h-1.8M420.6 425.8h1.8M599.75 425.8h-1.8M420.6 422.2h1.8M599.75 422.2h-1.8" stroke="#505050" stroke-width="0.9" fill="none"/>
<rect x="420.6" y="422.2" width="179.15" height="118.8" fill="none" stroke="#8e8e8e" stroke-width="1.45"/>
<line x1="54.5" y1="557.4" x2="54.5" y2="674.2" stroke="#b4b4b4" stroke-width="0.9" stroke-dasharray="1 3.2"/>
<line x1="77.5" y1="557.4" x2="77.5" y2="674.2" stroke="#b4b4b4" stroke-width="0.9" stroke-dasharray="1 3.2"/>
<line x1="100.5" y1="557.4" x2="100.5" y2="674.2" stroke="#b4b4b4" stroke-width="0.9" stroke-dasharray="1 3.2"/>
<line x1="123.5" y1="557.4" x2="123.5" y2="674.2" stroke="#b4b4b4" stroke-width="0.9" stroke-dasharray="1 3.2"/>
<line x1="146.5" y1="557.4" x2="146.5" y2="674.2" stroke="#b4b4b4" stroke-width="0.9" stroke-dasharray="1 3.2"/>
<line x1="169.5" y1="557.4" x2="169.5" y2="674.2" stroke="#b4b4b4" stroke-width="0.9" stroke-dasharray="1 3.2"/>
<line x1="192.5" y1="557.4" x2="192.5" y2="674.2" stroke="#b4b4b4" stroke-width="0.9" stroke-dasharray="1 3.2"/>
<line x1="215.5" y1="557.4" x2="215.5" y2="674.2" stroke="#b4b4b4" stroke-width="0.9" stroke-dasharray="1 3.2"/>
<path d="M49.5 675.2v-1.8M49.5 556.4v1.8M54.09 675.2v-3.5M54.09 556.4v3.5M58.69 675.2v-1.8M58.69 556.4v1.8M63.28 675.2v-1.8M63.28 556.4v1.8M67.87 675.2v-1.8M67.87 556.4v1.8M72.47 675.2v-1.8M72.47 556.4v1.8M77.06 675.2v-1.8M77.06 556.4v1.8M81.66 675.2v-1.8M81.66 556.4v1.8M86.25 675.2v-1.8M86.25 556.4v1.8M90.84 675.2v-1.8M90.84 556.4v1.8M95.44 675.2v-1.8M95.44 556.4v1.8M100.03 675.2v-3.5M100.03 556.4v3.5M104.62 675.2v-1.8M104.62 556.4v1.8M109.22 675.2v-1.8M109.22 556.4v1.8M113.81 675.2v-1.8M113.81 556.4v1.8M118.4 675.2v-1.8M118.4 556.4v1.8M123 675.2v-1.8M123 556.4v1.8M127.59 675.2v-1.8M127.59 556.4v1.8M132.18 675.2v-1.8M132.18 556.4v1.8M136.78 675.2v-1.8M136.78 556.4v1.8M141.37 675.2v-1.8M141.37 556.4v1.8M145.97 675.2v-3.5M145.97 556.4v3.5M150.56 675.2v-1.8M150.56 556.4v1.8M155.15 675.2v-1.8M155.15 556.4v1.8M159.75 675.2v-1.8M159.75 556.4v1.8M164.34 675.2v-1.8M164.34 556.4v1.8M168.93 675.2v-1.8M168.93 556.4v1.8M173.53 675.2v-1.8M173.53 556.4v1.8M178.12 675.2v-1.8M178.12 556.4v1.8M182.71 675.2v-1.8M182.71 556.4v1.8M187.31 675.2v-1.8M187.31 556.4v1.8M191.9 675.2v-3.5M191.9 556.4v3.5M196.49 675.2v-1.8M196.49 556.4v1.8M201.09 675.2v-1.8M201.09 556.4v1.8M205.68 675.2v-1.8M205.68 556.4v1.8M210.28 675.2v-1.8M210.28 556.4v1.8M214.87 675.2v-1.8M214.87 556.4v1.8M219.46 675.2v-1.8M219.46 556.4v1.8M224.06 675.2v-1.8M224.06 556.4v1.8M228.65 675.2v-1.8M228.65 556.4v1.8M49.5 675.2h3.8M228.65 675.2h-3.8M49.5 670.8h1.8M228.65 670.8h-1.8M49.5 666.4h1.8M228.65 666.4h-1.8M49.5 662h1.8M228.65 662h-1.8M49.5 657.6h1.8M228.65 657.6h-1.8M49.5 653.2h3.8M228.65 653.2h-3.8M49.5 648.8h1.8M228.65 648.8h-1.8M49.5 644.4h1.8M228.65 644.4h-1.8M49.5 640h1.8M228.65 640h-1.8M49.5 635.6h1.8M228.65 635.6h-1.8M49.5 631.2h3.8M228.65 631.2h-3.8M49.5 626.8h1.8M228.65 626.8h-1.8M49.5 622.4h1.8M228.65 622.4h-1.8M49.5 618h1.8M228.65 618h-1.8M49.5 613.6h1.8M228.65 613.6h-1.8M49.5 609.2h3.8M228.65 609.2h-3.8M49.5 604.8h1.8M228.65 604.8h-1.8M49.5 600.4h1.8M228.65 600.4h-1.8M49.5 596h1.8M228.65 596h-1.8M49.5 591.6h1.8M228.65 591.6h-1.8M49.5 587.2h3.8M228.65 587.2h-3.8M49.5 582.8h1.8M228.65 582.8h-1.8M49.5 578.4h1.8M228.65 578.4h-1.8M49.5 574h1.8M228.65 574h-1.8M49.5 569.6h1.8M228.65 569.6h-1.8M49.5 565.2h3.8M228.65 565.2h-3.8M49.5 560.8h1.8M228.65 560.8h-1.8M49.5 556.4h1.8M228.65 556.4h-1.8" stroke="#505050" stroke-width="0.9" fill="none"/>
<rect x="49.5" y="556.4" width="179.15" height="118.8" fill="none" stroke="#8e8e8e" stroke-width="1.45"/>
<line x1="240.5" y1="557.4" x2="240.5" y2="674.2" stroke="#b4b4b4" stroke-width="0.9" stroke-dasharray="1 3.2"/>
<line x1="263.5" y1="557.4" x2="263.5" y2="674.2" stroke="#b4b4b4" stroke-width="0.9" stroke-dasharray="1 3.2"/>
<line x1="286.5" y1="557.4" x2="286.5" y2="674.2" stroke="#b4b4b4" stroke-width="0.9" stroke-dasharray="1 3.2"/>
<line x1="309.5" y1="557.4" x2="309.5" y2="674.2" stroke="#b4b4b4" stroke-width="0.9" stroke-dasharray="1 3.2"/>
<line x1="332.5" y1="557.4" x2="332.5" y2="674.2" stroke="#b4b4b4" stroke-width="0.9" stroke-dasharray="1 3.2"/>
<line x1="355.5" y1="557.4" x2="355.5" y2="674.2" stroke="#b4b4b4" stroke-width="0.9" stroke-dasharray="1 3.2"/>
<line x1="378.5" y1="557.4" x2="378.5" y2="674.2" stroke="#b4b4b4" stroke-width="0.9" stroke-dasharray="1 3.2"/>
<line x1="400.5" y1="557.4" x2="400.5" y2="674.2" stroke="#b4b4b4" stroke-width="0.9" stroke-dasharray="1 3.2"/>
<path d="M235.3 675.2v-1.8M235.3 556.4v1.8M239.89 675.2v-3.5M239.89 556.4v3.5M244.49 675.2v-1.8M244.49 556.4v1.8M249.08 675.2v-1.8M249.08 556.4v1.8M253.67 675.2v-1.8M253.67 556.4v1.8M258.27 675.2v-1.8M258.27 556.4v1.8M262.86 675.2v-1.8M262.86 556.4v1.8M267.46 675.2v-1.8M267.46 556.4v1.8M272.05 675.2v-1.8M272.05 556.4v1.8M276.64 675.2v-1.8M276.64 556.4v1.8M281.24 675.2v-1.8M281.24 556.4v1.8M285.83 675.2v-3.5M285.83 556.4v3.5M290.42 675.2v-1.8M290.42 556.4v1.8M295.02 675.2v-1.8M295.02 556.4v1.8M299.61 675.2v-1.8M299.61 556.4v1.8M304.2 675.2v-1.8M304.2 556.4v1.8M308.8 675.2v-1.8M308.8 556.4v1.8M313.39 675.2v-1.8M313.39 556.4v1.8M317.98 675.2v-1.8M317.98 556.4v1.8M322.58 675.2v-1.8M322.58 556.4v1.8M327.17 675.2v-1.8M327.17 556.4v1.8M331.77 675.2v-3.5M331.77 556.4v3.5M336.36 675.2v-1.8M336.36 556.4v1.8M340.95 675.2v-1.8M340.95 556.4v1.8M345.55 675.2v-1.8M345.55 556.4v1.8M350.14 675.2v-1.8M350.14 556.4v1.8M354.73 675.2v-1.8M354.73 556.4v1.8M359.33 675.2v-1.8M359.33 556.4v1.8M363.92 675.2v-1.8M363.92 556.4v1.8M368.51 675.2v-1.8M368.51 556.4v1.8M373.11 675.2v-1.8M373.11 556.4v1.8M377.7 675.2v-3.5M377.7 556.4v3.5M382.29 675.2v-1.8M382.29 556.4v1.8M386.89 675.2v-1.8M386.89 556.4v1.8M391.48 675.2v-1.8M391.48 556.4v1.8M396.08 675.2v-1.8M396.08 556.4v1.8M400.67 675.2v-1.8M400.67 556.4v1.8M405.26 675.2v-1.8M405.26 556.4v1.8M409.86 675.2v-1.8M409.86 556.4v1.8M414.45 675.2v-1.8M414.45 556.4v1.8M235.3 675.2h3.8M414.45 675.2h-3.8M235.3 670.8h1.8M414.45 670.8h-1.8M235.3 666.4h1.8M414.45 666.4h-1.8M235.3 662h1.8M414.45 662h-1.8M235.3 657.6h1.8M414.45 657.6h-1.8M235.3 653.2h3.8M414.45 653.2h-3.8M235.3 648.8h1.8M414.45 648.8h-1.8M235.3 644.4h1.8M414.45 644.4h-1.8M235.3 640h1.8M414.45 640h-1.8M235.3 635.6h1.8M414.45 635.6h-1.8M235.3 631.2h3.8M414.45 631.2h-3.8M235.3 626.8h1.8M414.45 626.8h-1.8M235.3 622.4h1.8M414.45 622.4h-1.8M235.3 618h1.8M414.45 618h-1.8M235.3 613.6h1.8M414.45 613.6h-1.8M235.3 609.2h3.8M414.45 609.2h-3.8M235.3 604.8h1.8M414.45 604.8h-1.8M235.3 600.4h1.8M414.45 600.4h-1.8M235.3 596h1.8M414.45 596h-1.8M235.3 591.6h1.8M414.45 591.6h-1.8M235.3 587.2h3.8M414.45 587.2h-3.8M235.3 582.8h1.8M414.45 582.8h-1.8M235.3 578.4h1.8M414.45 578.4h-1.8M235.3 574h1.8M414.45 574h-1.8M235.3 569.6h1.8M414.45 569.6h-1.8M235.3 565.2h3.8M414.45 565.2h-3.8M235.3 560.8h1.8M414.45 560.8h-1.8M235.3 556.4h1.8M414.45 556.4h-1.8" stroke="#505050" stroke-width="0.9" fill="none"/>
<rect x="235.3" y="556.4" width="179.15" height="118.8" fill="none" stroke="#8e8e8e" stroke-width="1.45"/>
<line x1="425.5" y1="557.4" x2="425.5" y2="674.2" stroke="#b4b4b4" stroke-width="0.9" stroke-dasharray="1 3.2"/>
<line x1="448.5" y1="557.4" x2="448.5" y2="674.2" stroke="#b4b4b4" stroke-width="0.9" stroke-dasharray="1 3.2"/>
<line x1="471.5" y1="557.4" x2="471.5" y2="674.2" stroke="#b4b4b4" stroke-width="0.9" stroke-dasharray="1 3.2"/>
<line x1="494.5" y1="557.4" x2="494.5" y2="674.2" stroke="#b4b4b4" stroke-width="0.9" stroke-dasharray="1 3.2"/>
<line x1="517.5" y1="557.4" x2="517.5" y2="674.2" stroke="#b4b4b4" stroke-width="0.9" stroke-dasharray="1 3.2"/>
<line x1="540.5" y1="557.4" x2="540.5" y2="674.2" stroke="#b4b4b4" stroke-width="0.9" stroke-dasharray="1 3.2"/>
<line x1="563.5" y1="557.4" x2="563.5" y2="674.2" stroke="#b4b4b4" stroke-width="0.9" stroke-dasharray="1 3.2"/>
<line x1="586.5" y1="557.4" x2="586.5" y2="674.2" stroke="#b4b4b4" stroke-width="0.9" stroke-dasharray="1 3.2"/>
<path d="M420.6 675.2v-1.8M420.6 556.4v1.8M425.19 675.2v-3.5M425.19 556.4v3.5M429.79 675.2v-1.8M429.79 556.4v1.8M434.38 675.2v-1.8M434.38 556.4v1.8M438.97 675.2v-1.8M438.97 556.4v1.8M443.57 675.2v-1.8M443.57 556.4v1.8M448.16 675.2v-1.8M448.16 556.4v1.8M452.76 675.2v-1.8M452.76 556.4v1.8M457.35 675.2v-1.8M457.35 556.4v1.8M461.94 675.2v-1.8M461.94 556.4v1.8M466.54 675.2v-1.8M466.54 556.4v1.8M471.13 675.2v-3.5M471.13 556.4v3.5M475.72 675.2v-1.8M475.72 556.4v1.8M480.32 675.2v-1.8M480.32 556.4v1.8M484.91 675.2v-1.8M484.91 556.4v1.8M489.5 675.2v-1.8M489.5 556.4v1.8M494.1 675.2v-1.8M494.1 556.4v1.8M498.69 675.2v-1.8M498.69 556.4v1.8M503.28 675.2v-1.8M503.28 556.4v1.8M507.88 675.2v-1.8M507.88 556.4v1.8M512.47 675.2v-1.8M512.47 556.4v1.8M517.07 675.2v-3.5M517.07 556.4v3.5M521.66 675.2v-1.8M521.66 556.4v1.8M526.25 675.2v-1.8M526.25 556.4v1.8M530.85 675.2v-1.8M530.85 556.4v1.8M535.44 675.2v-1.8M535.44 556.4v1.8M540.03 675.2v-1.8M540.03 556.4v1.8M544.63 675.2v-1.8M544.63 556.4v1.8M549.22 675.2v-1.8M549.22 556.4v1.8M553.81 675.2v-1.8M553.81 556.4v1.8M558.41 675.2v-1.8M558.41 556.4v1.8M563 675.2v-3.5M563 556.4v3.5M567.59 675.2v-1.8M567.59 556.4v1.8M572.19 675.2v-1.8M572.19 556.4v1.8M576.78 675.2v-1.8M576.78 556.4v1.8M581.38 675.2v-1.8M581.38 556.4v1.8M585.97 675.2v-1.8M585.97 556.4v1.8M590.56 675.2v-1.8M590.56 556.4v1.8M595.16 675.2v-1.8M595.16 556.4v1.8M599.75 675.2v-1.8M599.75 556.4v1.8M420.6 675.2h3.8M599.75 675.2h-3.8M420.6 670.8h1.8M599.75 670.8h-1.8M420.6 666.4h1.8M599.75 666.4h-1.8M420.6 662h1.8M599.75 662h-1.8M420.6 657.6h1.8M599.75 657.6h-1.8M420.6 653.2h3.8M599.75 653.2h-3.8M420.6 648.8h1.8M599.75 648.8h-1.8M420.6 644.4h1.8M599.75 644.4h-1.8M420.6 640h1.8M599.75 640h-1.8M420.6 635.6h1.8M599.75 635.6h-1.8M420.6 631.2h3.8M599.75 631.2h-3.8M420.6 626.8h1.8M599.75 626.8h-1.8M420.6 622.4h1.8M599.75 622.4h-1.8M420.6 618h1.8M599.75 618h-1.8M420.6 613.6h1.8M599.75 613.6h-1.8M420.6 609.2h3.8M599.75 609.2h-3.8M420.6 604.8h1.8M599.75 604.8h-1.8M420.6 600.4h1.8M599.75 600.4h-1.8M420.6 596h1.8M599.75 596h-1.8M420.6 591.6h1.8M599.75 591.6h-1.8M420.6 587.2h3.8M599.75 587.2h-3.8M420.6 582.8h1.8M599.75 582.8h-1.8M420.6 578.4h1.8M599.75 578.4h-1.8M420.6 574h1.8M599.75 574h-1.8M420.6 569.6h1.8M599.75 569.6h-1.8M420.6 565.2h3.8M599.75 565.2h-3.8M420.6 560.8h1.8M599.75 560.8h-1.8M420.6 556.4h1.8M599.75 556.4h-1.8" stroke="#505050" stroke-width="0.9" fill="none"/>
<rect x="420.6" y="556.4" width="179.15" height="118.8" fill="none" stroke="#8e8e8e" stroke-width="1.45"/>
<polyline points="58.69,74.5 63.28,64.2 67.87,63.2 72.47,71.2 77.06,43.9 81.66,46.4 86.25,65.1 90.84,76.8 95.44,72 100.03,69 104.62,87.2 109.22,73.6 113.81,83.6 118.4,80 123,65.5 127.59,81.1 132.18,95.9 136.78,84.7 141.37,68 145.97,72.9 150.56,78.7 155.15,91.8 159.75,85.5 164.34,77.7 168.93,84.7 173.53,82 178.12,84.8 182.71,85.5 187.31,87.2 191.9,78.1 196.49,77.3 201.09,81.2 205.68,83.9 210.28,73.8 214.87,77.7 219.46,79.6 224.06,73.8" fill="none" stroke="#5f8fe6" stroke-width="0.95" stroke-dasharray="2.6 3.2"/>
<polyline points="58.69,99.7 63.28,95 67.87,86.4 72.47,88 77.06,63.1 81.66,63.2 86.25,80.3 90.84,87.6 95.44,83.2 100.03,79.8 104.62,98.4 109.22,82.4 113.81,92.8 118.4,88.8 123,76.7 127.59,87.9 132.18,103.1 136.78,89.5 141.37,79.2 145.97,79.7 150.56,85.9 155.15,95.6 159.75,88.5 164.34,78.9 168.93,85.9 173.53,83.2 178.12,86 182.71,86.7 187.31,88.4 191.9,79.3 196.49,78.5 201.09,82.4 205.68,85.1 210.28,75 214.87,78.9 219.46,80.8 224.06,75" fill="none" stroke="#5f8fe6" stroke-width="0.95" stroke-dasharray="2.6 3.2"/>
<polyline points="244.49,62.8 249.08,26.9 253.67,33.2 258.27,48.4 262.86,60.5 267.46,45.2 272.05,88.3 276.64,77.1 281.24,80.2 285.83,84.7 290.42,94.2 295.02,74.6 299.61,73 304.2,70.9 308.8,73.5 313.39,98.7 317.98,97.5 322.58,68.1 327.17,21.7 331.77,78.3 336.36,100.9 340.95,101.4 345.55,102 350.14,80.4 354.73,88.2 359.33,97.5 363.92,92.9 368.51,106.2 373.11,101.1 377.7,97.1 382.29,91.7 386.89,98.8 391.48,99.5 396.08,107.4 400.67,98.4 405.26,101.8 409.86,116.3" fill="none" stroke="#5f8fe6" stroke-width="1.0" stroke-dasharray="0.9 2.2"/>
<polyline points="244.49,94 249.08,105.7 253.67,94.4 258.27,91.2 262.86,93.7 267.46,72 272.05,117.5 276.64,99.9 281.24,105.4 285.83,107.5 290.42,119.4 295.02,93.4 299.61,94.2 304.2,87.7 308.8,92.7 313.39,115.5 317.98,116.7 322.58,82.9 327.17,40.9 331.77,93.1 336.36,116.1 340.95,112.2 345.55,113.2 350.14,89.2 354.73,97.4 359.33,104.3 363.92,102.1 368.51,113 373.11,108.3 377.7,101.9 382.29,98.9 386.89,103.6 391.48,106.7 396.08,112.2 400.67,105.6 405.26,106.6 409.86,123.5" fill="none" stroke="#5f8fe6" stroke-width="1.0" stroke-dasharray="0.9 2.2"/>
<polyline points="244.49,82.3 249.08,83.5 253.67,76.8 258.27,91.1 262.86,34 267.46,41.4 272.05,46 276.64,67 281.24,57.6 285.83,61.9 290.42,77.8 295.02,69.7 299.61,78.9 304.2,79 308.8,42.2 313.39,67.5 317.98,88.5 322.58,83.8 327.17,71.8 331.77,71.1 336.36,75.8 340.95,89 345.55,78 350.14,76 354.73,79.9 359.33,78.7 363.92,77 368.51,81.1 373.11,79 377.7,67.7 382.29,71.9 386.89,70.3 391.48,67.4 396.08,67.2 400.67,68.6 405.26,70.3 409.86,54.6" fill="none" stroke="#ea6a6a" stroke-width="1.0" stroke-dasharray="0.9 2.2"/>
<polyline points="244.49,101.5 249.08,100.3 253.67,98 258.27,109.9 262.86,59.2 267.46,64.2 272.05,71.2 276.64,85.8 281.24,78.8 285.83,80.7 290.42,97 295.02,86.5 299.61,100.1 304.2,95.8 308.8,67.4 313.39,84.3 317.98,103.7 322.58,96.6 327.17,85 331.77,79.9 336.36,87 340.95,95.8 345.55,87.2 350.14,80.8 354.73,87.1 359.33,83.5 363.92,84.2 368.51,85.9 373.11,86.2 377.7,72.5 382.29,79.1 386.89,75.1 391.48,74.6 396.08,72 400.67,75.8 405.26,75.1 409.86,61.8" fill="none" stroke="#ea6a6a" stroke-width="1.0" stroke-dasharray="0.9 2.2"/>
<polyline points="58.69,204.8 63.28,199.4 67.87,201.5 72.47,194.2 77.06,223.6 81.66,216.2 86.25,217.8 90.84,204.9 95.44,217.4 100.03,231 104.62,218.3 109.22,232.8 113.81,215.9 118.4,213.2 123,206 127.59,215.2 132.18,210.6 136.78,215.3 141.37,221.4 145.97,224.9 150.56,237.7 155.15,233 159.75,231 164.34,239.7 168.93,233.7 173.53,241.3 178.12,228.5 182.71,235.6 187.31,230.8 191.9,234 196.49,237.2 201.09,229.3 205.68,222.6 210.28,240.8 214.87,232.1 219.46,230.8 224.06,228.2" fill="none" stroke="#5f8fe6" stroke-width="0.95" stroke-dasharray="2.6 3.2"/>
<polyline points="58.69,212 63.28,204.2 67.87,208.7 72.47,199 77.06,229.8 81.66,221 86.25,225 90.84,209.7 95.44,223.6 100.03,234.8 104.62,222.3 109.22,236.6 113.81,223.1 118.4,218 123,213.2 127.59,219 132.18,216.8 136.78,220.1 141.37,230.6 145.97,231.7 150.56,244.9 155.15,237 159.75,232 164.34,240.7 168.93,234.7 173.53,242.3 178.12,229.5 182.71,236.6 187.31,231.8 191.9,235 196.49,238.2 201.09,230.3 205.68,223.6 210.28,241.8 214.87,233.1 219.46,231.8 224.06,229.2" fill="none" stroke="#5f8fe6" stroke-width="0.95" stroke-dasharray="2.6 3.2"/>
<polyline points="244.49,178.6 249.08,185.6 253.67,185.4 258.27,180.3 262.86,172.3 267.46,171.1 272.05,175.9 276.64,180.3 281.24,185 285.83,179.9 290.42,171.6 295.02,173.5 299.61,178.3 304.2,185.9 308.8,189.4 313.39,173.6 317.98,178.9 322.58,181.9 327.17,180.9 331.77,193.4 336.36,179 340.95,196.9 345.55,188.1 350.14,183.7 354.73,209.7 359.33,179.8 363.92,181 368.51,182 373.11,184.9 377.7,196.7 382.29,195.5 386.89,197.1 391.48,190 396.08,178.7 400.67,185.8 405.26,185.8 409.86,183.7" fill="none" stroke="#5f8fe6" stroke-width="0.95" stroke-dasharray="2.6 3.2"/>
<polyline points="244.49,189.8 249.08,194.4 253.67,196.6 258.27,189.1 262.86,183.5 267.46,179.9 272.05,187.1 276.64,189.1 281.24,198.2 285.83,194.7 290.42,196.8 295.02,212.3 299.61,207.5 304.2,200.7 308.8,202.6 313.39,184.4 317.98,192.1 322.58,192.7 327.17,198.1 331.77,212.2 336.36,196.2 340.95,207.7 345.55,197.3 350.14,185.7 354.73,211.7 359.33,181.8 363.92,183 368.51,184 373.11,186.9 377.7,198.7 382.29,197.5 386.89,199.1 391.48,192 396.08,180.7 400.67,187.8 405.26,187.8 409.86,185.7" fill="none" stroke="#5f8fe6" stroke-width="0.95" stroke-dasharray="2.6 3.2"/>
<polyline points="244.49,216.8 249.08,210 253.67,216.2 258.27,219.1 262.86,236 267.46,236.4 272.05,234.8 276.64,222.9 281.24,233.1 285.83,234.7 290.42,228.4 295.02,232.1 299.61,221.2 304.2,221.2 308.8,223.4 313.39,227.1 317.98,220.3 322.58,222.9 327.17,224.2 331.77,225.4 336.36,237.9 340.95,233.6 345.55,238.3 350.14,243.8 354.73,238.8 359.33,246.4 363.92,248.1 368.51,240.8 373.11,245 377.7,249.8 382.29,242.5 386.89,244.2 391.48,244.7 396.08,248.7 400.67,243 405.26,244.2 409.86,244.2" fill="none" stroke="#ea6a6a" stroke-width="0.95" stroke-dasharray="2.6 3.2"/>
<polyline points="244.49,226 249.08,216.8 253.67,225.4 258.27,225.9 262.86,247.2 267.46,245.2 272.05,246 276.64,231.7 281.24,244.3 285.83,243.5 290.42,239.6 295.02,240.9 299.61,232.4 304.2,230 308.8,234.6 313.39,235.9 317.98,231.5 322.58,231.7 327.17,235.4 331.77,234.2 336.36,247.1 340.95,238.4 345.55,239.9 350.14,245.4 354.73,240.4 359.33,248 363.92,249.7 368.51,242.4 373.11,246.6 377.7,251.4 382.29,244.1 386.89,245.8 391.48,246.3 396.08,250.3 400.67,244.6 405.26,245.8 409.86,245.8" fill="none" stroke="#ea6a6a" stroke-width="0.95" stroke-dasharray="2.6 3.2"/>
<polyline points="58.69,376.6 63.28,376.5 67.87,373 72.47,369.5 77.06,354.3 81.66,368.2 86.25,361.8 90.84,378.1 95.44,351.3 100.03,345.8 104.62,350.8 109.22,349.5 113.81,341.2 118.4,362.8 123,362.3 127.59,359.6 132.18,343.2 136.78,352.5 141.37,333.8 145.97,331.6 150.56,323.9 155.15,327.3 159.75,345.8 164.34,335.4 168.93,337.9 173.53,315.4 178.12,333.7 182.71,335 187.31,337.9 191.9,330.6 196.49,322.2 201.09,339.1 205.68,346.3 210.28,321.5 214.87,328.6 219.46,331.1 224.06,346.3" fill="none" stroke="#5f8fe6" stroke-width="0.95" stroke-dasharray="2.6 3.2"/>
<polyline points="58.69,389.8 63.28,387.3 67.87,384.2 72.47,378.3 77.06,365.5 81.66,377 86.25,375 90.84,388.9 95.44,368.5 100.03,362.6 104.62,370 109.22,366.3 113.81,358.4 118.4,375.6 123,375.5 127.59,370.4 132.18,356.4 136.78,363.3 141.37,351 145.97,346.4 150.56,337.1 155.15,336.1 159.75,353 164.34,336.6 168.93,339.1 173.53,316.6 178.12,334.9 182.71,336.2 187.31,339.1 191.9,331.8 196.49,323.4 201.09,340.3 205.68,347.5 210.28,322.7 214.87,329.8 219.46,332.3 224.06,347.5" fill="none" stroke="#5f8fe6" stroke-width="0.95" stroke-dasharray="2.6 3.2"/>
<polyline points="244.49,366 249.08,363.7 253.67,351.4 258.27,322.9 262.86,331.5 267.46,348.6 272.05,343.6 276.64,365.6 281.24,337.4 285.83,336.4 290.42,334.3 295.02,343.1 299.61,326.4 304.2,348.2 308.8,341.4 313.39,342.6 317.98,318 322.58,337.7 327.17,325.5 331.77,327.1 336.36,318.9 340.95,322.6 345.55,338.1 350.14,328.2 354.73,328.3 359.33,307.6 363.92,306.9 368.51,324.9 373.11,318.4 377.7,308.1 382.29,311.9 386.89,318.2 391.48,318.2 396.08,308.9 400.67,311.9 405.26,314.5 409.86,325.9" fill="none" stroke="#ea6a6a" stroke-width="1.0" stroke-dasharray="0.9 2.2"/>
<polyline points="244.49,391.2 249.08,386.5 253.67,380.6 258.27,355.7 262.86,366.7 267.46,377.4 272.05,372.8 276.64,392.4 281.24,366.6 285.83,363.2 290.42,363.5 295.02,369.9 299.61,355.6 304.2,371 308.8,366.6 313.39,365.4 317.98,347.2 322.58,360.5 327.17,350.7 331.77,349.9 336.36,340.1 340.95,337.4 345.55,351.3 350.14,337 354.73,339.5 359.33,314.4 363.92,316.1 368.51,331.7 373.11,327.6 377.7,314.9 382.29,321.1 386.89,325 391.48,327.4 396.08,315.7 400.67,321.1 405.26,321.3 409.86,335.1" fill="none" stroke="#ea6a6a" stroke-width="1.0" stroke-dasharray="0.9 2.2"/>
<polyline points="244.49,383.5 249.08,382 253.67,380.5 258.27,382.6 262.86,388.1 267.46,382.9 272.05,380.8 276.64,380.9 281.24,362.5 285.83,377.2 290.42,380.7 295.02,363.4 299.61,371.8 304.2,379.7 308.8,368.4 313.39,383.9 317.98,381.4 322.58,376.3 327.17,374 331.77,320.8 336.36,370.6 340.95,356.9 345.55,370.7 350.14,380.2 354.73,354.3 359.33,373.1 363.92,383.7 368.51,386.9 373.11,380.3 377.7,373.9 382.29,365.9 386.89,373.9 391.48,378.3 396.08,393.3 400.67,375.2 405.26,375.6 409.86,387.9" fill="none" stroke="#5f8fe6" stroke-width="1.0" stroke-dasharray="0.9 2.2"/>
<polyline points="244.49,400.7 249.08,396.8 253.67,397.7 258.27,397.4 262.86,405.3 267.46,397.7 272.05,398 276.64,395.7 281.24,383.7 285.83,396 290.42,401.9 295.02,386.2 299.61,393 304.2,398.5 308.8,389.6 313.39,402.7 317.98,402.6 322.58,395.1 327.17,399.2 331.77,359.6 336.36,395.8 340.95,371.7 345.55,383.9 350.14,389 354.73,365.5 359.33,379.9 363.92,392.9 368.51,393.7 373.11,389.5 377.7,380.7 382.29,375.1 386.89,380.7 391.48,387.5 396.08,400.1 400.67,384.4 405.26,382.4 409.86,397.1" fill="none" stroke="#5f8fe6" stroke-width="1.0" stroke-dasharray="0.9 2.2"/>
<polyline points="58.69,507.2 63.28,512.3 67.87,512.8 72.47,518.2 77.06,489.1 81.66,500 86.25,500.1 90.84,514 95.44,493.7 100.03,478.4 104.62,481.4 109.22,476.7 113.81,485.3 118.4,503.3 123,506.7 127.59,486.8 132.18,488.3 136.78,493.4 141.37,465 145.97,466.2 150.56,461.8 155.15,472.9 159.75,488 164.34,471.5 168.93,486 173.53,466.1 178.12,487.2 182.71,477.9 187.31,480.4 191.9,470.8 196.49,466.4 201.09,483.8 205.68,484.6 210.28,448.9 214.87,464.7 219.46,466.4 224.06,474.2" fill="none" stroke="#5f8fe6" stroke-width="0.95" stroke-dasharray="2.6 3.2"/>
<polyline points="58.69,514.4 63.28,517.1 67.87,520 72.47,523 77.06,496.3 81.66,504.8 86.25,507.3 90.84,518.8 95.44,502.9 100.03,485.2 104.62,490.6 109.22,483.5 113.81,494.5 118.4,510.1 123,515.9 127.59,493.6 132.18,499.5 136.78,502.2 141.37,478.2 145.97,477 150.56,473 155.15,477.7 159.75,489 164.34,472.5 168.93,487 173.53,467.1 178.12,488.2 182.71,478.9 187.31,481.4 191.9,471.8 196.49,467.4 201.09,484.8 205.68,485.6 210.28,449.9 214.87,465.7 219.46,467.4 224.06,475.2" fill="none" stroke="#5f8fe6" stroke-width="0.95" stroke-dasharray="2.6 3.2"/>
<polyline points="244.49,493.7 249.08,491.9 253.67,488.1 258.27,478.7 262.86,474.1 267.46,480.7 272.05,482.1 276.64,492.4 281.24,468.4 285.83,468.3 290.42,461.3 295.02,471.3 299.61,470.9 304.2,486.1 308.8,464.2 313.39,463.7 317.98,471.4 322.58,479.7 327.17,456.9 331.77,463.2 336.36,459.6 340.95,468.6 345.55,480.1 350.14,466.6 354.73,475.9 359.33,459.4 363.92,467.1 368.51,470.8 373.11,463.7 377.7,445.9 382.29,457.7 386.89,460.7 391.48,451.1 396.08,437.1 400.67,447.5 405.26,446.9 409.86,451.4" fill="none" stroke="#ea6a6a" stroke-width="0.95" stroke-dasharray="2.6 3.2"/>
<polyline points="244.49,502.9 249.08,498.7 253.67,497.3 258.27,487.5 262.86,485.3 267.46,489.5 272.05,493.3 276.64,503.2 281.24,481.6 285.83,479.1 290.42,474.5 295.02,482.1 299.61,484.1 304.2,496.9 308.8,477.4 313.39,474.5 317.98,484.6 322.58,490.5 327.17,472.1 331.77,476 336.36,472.8 340.95,475.4 345.55,481.7 350.14,468.2 354.73,477.5 359.33,461 363.92,468.7 368.51,472.4 373.11,465.3 377.7,447.5 382.29,459.3 386.89,462.3 391.48,452.7 396.08,438.7 400.67,449.1 405.26,448.5 409.86,453" fill="none" stroke="#ea6a6a" stroke-width="0.95" stroke-dasharray="2.6 3.2"/>
<polyline points="244.49,534.8 249.08,536 253.67,533.9 258.27,534.6 262.86,536.8 267.46,533.9 272.05,532.9 276.64,534.3 281.24,531.2 285.83,536 290.42,531.2 295.02,533.4 299.61,532.9 304.2,536 308.8,533.9 313.39,534.3 317.98,534.3 322.58,535.1 327.17,536.3 331.77,528.4 336.36,532.2 340.95,527.9 345.55,527.7 350.14,534.4 354.73,528.9 359.33,535.6 363.92,533.9 368.51,533.9 373.11,533.2 377.7,529.4 382.29,530.5 386.89,531.6 391.48,532.2 396.08,534.9 400.67,531.6 405.26,530.5 409.86,534.1" fill="none" stroke="#5f8fe6" stroke-width="0.95" stroke-dasharray="2.6 3.2"/>
<polyline points="244.49,537.8 249.08,539 253.67,536.9 258.27,537.6 262.86,539.8 267.46,536.9 272.05,535.9 276.64,537.3 281.24,534.2 285.83,539 290.42,534.2 295.02,536.4 299.61,535.9 304.2,539 308.8,536.9 313.39,537.3 317.98,537.3 322.58,538.1 327.17,539.3 331.77,531.4 336.36,535.2 340.95,530.9 345.55,528.7 350.14,535.4 354.73,529.9 359.33,536.6 363.92,534.9 368.51,534.9 373.11,534.2 377.7,530.4 382.29,531.5 386.89,532.6 391.48,533.2 396.08,535.9 400.67,532.6 405.26,531.5 409.86,535.1" fill="none" stroke="#5f8fe6" stroke-width="0.95" stroke-dasharray="2.6 3.2"/>
<polyline points="58.69,611.2 63.28,620.2 67.87,613.4 72.47,622.2 77.06,599.5 81.66,603.6 86.25,611.3 90.84,617.6 95.44,606.9 100.03,592.1 104.62,587.9 109.22,584 113.81,592.3 118.4,609.8 123,618.8 127.59,601.9 132.18,596.3 136.78,599.9 141.37,570.3 145.97,570.7 150.56,572.9 155.15,576.6 159.75,597.5 164.34,582.9 168.93,600.1 173.53,590.3 178.12,604.8 182.71,597.5 187.31,600.4 191.9,594.2 196.49,590.8 201.09,600.9 205.68,600.1 210.28,580.7 214.87,589.1 219.46,591.3 224.06,593.7" fill="none" stroke="#5f8fe6" stroke-width="0.95" stroke-dasharray="2.6 3.2"/>
<polyline points="58.69,615.2 63.28,624.2 67.87,617.4 72.47,626.2 77.06,606.7 81.66,608.4 86.25,618.5 90.84,622.4 95.44,616.1 100.03,598.9 104.62,597.1 109.22,592.8 113.81,601.5 118.4,616.6 123,628 127.59,608.7 132.18,605.5 136.78,608.7 141.37,583.5 145.97,581.5 150.56,586.1 155.15,583.4 159.75,598.5 164.34,583.9 168.93,601.1 173.53,591.3 178.12,605.8 182.71,598.5 187.31,601.4 191.9,595.2 196.49,591.8 201.09,601.9 205.68,601.1 210.28,581.7 214.87,590.1 219.46,592.3 224.06,594.7" fill="none" stroke="#5f8fe6" stroke-width="0.95" stroke-dasharray="2.6 3.2"/>
<polyline points="244.49,591.1 249.08,596.8 253.67,594.4 258.27,590.4 262.86,585 267.46,588.4 272.05,598 276.64,597.2 281.24,589.2 285.83,585 290.42,572.2 295.02,581.8 299.61,580.6 304.2,594.6 308.8,594.3 313.39,590.1 317.98,584.2 322.58,591.3 327.17,564.4 331.77,568.5 336.36,572.2 340.95,574.5 345.55,590.5 350.14,578.2 354.73,592.2 359.33,585.4 363.92,592.7 368.51,593.9 373.11,589.3 377.7,578.7 382.29,585.4 386.89,585.4 391.48,577 396.08,573.1 400.67,578.3 405.26,579.2 409.86,578.3" fill="none" stroke="#ea6a6a" stroke-width="0.95" stroke-dasharray="2.6 3.2"/>
<polyline points="244.49,598.3 249.08,601.6 253.67,601.6 258.27,597.2 262.86,594.2 267.46,595.2 272.05,607.2 276.64,604 281.24,598.4 285.83,591.8 290.42,583.4 295.02,590.6 299.61,591.8 304.2,601.4 308.8,603.5 313.39,596.9 317.98,593.4 322.58,598.1 327.17,577.6 331.77,579.3 336.36,583.4 340.95,579.3 345.55,592.1 350.14,579.8 354.73,593.8 359.33,587 363.92,594.3 368.51,595.5 373.11,590.9 377.7,580.3 382.29,587 386.89,587 391.48,578.6 396.08,574.7 400.67,579.9 405.26,580.8 409.86,579.9" fill="none" stroke="#ea6a6a" stroke-width="0.95" stroke-dasharray="2.6 3.2"/>
<polyline points="244.49,644.2 249.08,643.4 253.67,627.7 258.27,635 262.86,642.2 267.46,631.1 272.05,635.8 276.64,639 281.24,637.8 285.83,641.9 290.42,625.2 295.02,622.9 299.61,630.8 304.2,643.4 308.8,637.8 313.39,634.6 317.98,626.7 322.58,631.8 327.17,634.8 331.77,624.9 336.36,628.9 340.95,624.8 345.55,628.5 350.14,638.1 354.73,632.7 359.33,640.6 363.92,633.2 368.51,632.7 373.11,634.9 377.7,628.8 382.29,632.7 386.89,632.3 391.48,632.3 396.08,636.6 400.67,629 405.26,630.5 409.86,633.2" fill="none" stroke="#5f8fe6" stroke-width="0.95" stroke-dasharray="2.6 3.2"/>
<polyline points="244.49,651.4 249.08,648.2 253.67,634.9 258.27,639.8 262.86,649.4 267.46,635.9 272.05,643 276.64,643.8 281.24,645 285.83,648.7 290.42,638.4 295.02,649.7 299.61,648 304.2,652.2 308.8,647 313.39,641.4 317.98,635.9 322.58,638.6 327.17,648 331.77,633.7 336.36,638.1 340.95,629.6 345.55,630.1 350.14,639.7 354.73,634.3 359.33,642.2 363.92,634.8 368.51,634.3 373.11,636.5 377.7,630.4 382.29,634.3 386.89,633.9 391.48,633.9 396.08,638.2 400.67,630.6 405.26,632.1 409.86,634.8" fill="none" stroke="#5f8fe6" stroke-width="0.95" stroke-dasharray="2.6 3.2"/>
<polyline points="58.69,87.1 63.28,79.6 67.87,74.8 72.47,79.6 77.06,53.5 81.66,54.8 86.25,72.7 90.84,82.2 95.44,77.6 100.03,74.4 104.62,92.8 109.22,78 113.81,88.2 118.4,84.4 123,71.1 127.59,84.5 132.18,99.5 136.78,87.1 141.37,73.6 145.97,76.3 150.56,82.3 155.15,93.7 159.75,87 164.34,78.3 168.93,85.3 173.53,82.6 178.12,85.4 182.71,86.1 187.31,87.8 191.9,78.7 196.49,77.9 201.09,81.8 205.68,84.5 210.28,74.4 214.87,78.3 219.46,80.2 224.06,74.4" fill="none" stroke="#1450ea" stroke-width="1.45" stroke-linejoin="round" stroke-linecap="round"/>
<path d="M57.09 87.1a1.6 1.6 0 1 0 3.2 0a1.6 1.6 0 1 0 -3.2 0M61.68 79.6a1.6 1.6 0 1 0 3.2 0a1.6 1.6 0 1 0 -3.2 0M66.27 74.8a1.6 1.6 0 1 0 3.2 0a1.6 1.6 0 1 0 -3.2 0M70.87 79.6a1.6 1.6 0 1 0 3.2 0a1.6 1.6 0 1 0 -3.2 0M75.46 53.5a1.6 1.6 0 1 0 3.2 0a1.6 1.6 0 1 0 -3.2 0M80.06 54.8a1.6 1.6 0 1 0 3.2 0a1.6 1.6 0 1 0 -3.2 0M84.65 72.7a1.6 1.6 0 1 0 3.2 0a1.6 1.6 0 1 0 -3.2 0M89.24 82.2a1.6 1.6 0 1 0 3.2 0a1.6 1.6 0 1 0 -3.2 0M93.84 77.6a1.6 1.6 0 1 0 3.2 0a1.6 1.6 0 1 0 -3.2 0M98.43 74.4a1.6 1.6 0 1 0 3.2 0a1.6 1.6 0 1 0 -3.2 0M103.02 92.8a1.6 1.6 0 1 0 3.2 0a1.6 1.6 0 1 0 -3.2 0M107.62 78a1.6 1.6 0 1 0 3.2 0a1.6 1.6 0 1 0 -3.2 0M112.21 88.2a1.6 1.6 0 1 0 3.2 0a1.6 1.6 0 1 0 -3.2 0M116.8 84.4a1.6 1.6 0 1 0 3.2 0a1.6 1.6 0 1 0 -3.2 0M121.4 71.1a1.6 1.6 0 1 0 3.2 0a1.6 1.6 0 1 0 -3.2 0M125.99 84.5a1.6 1.6 0 1 0 3.2 0a1.6 1.6 0 1 0 -3.2 0M130.58 99.5a1.6 1.6 0 1 0 3.2 0a1.6 1.6 0 1 0 -3.2 0M135.18 87.1a1.6 1.6 0 1 0 3.2 0a1.6 1.6 0 1 0 -3.2 0M139.77 73.6a1.6 1.6 0 1 0 3.2 0a1.6 1.6 0 1 0 -3.2 0M144.37 76.3a1.6 1.6 0 1 0 3.2 0a1.6 1.6 0 1 0 -3.2 0M148.96 82.3a1.6 1.6 0 1 0 3.2 0a1.6 1.6 0 1 0 -3.2 0M153.55 93.7a1.6 1.6 0 1 0 3.2 0a1.6 1.6 0 1 0 -3.2 0M158.15 87a1.6 1.6 0 1 0 3.2 0a1.6 1.6 0 1 0 -3.2 0M162.74 78.3a1.6 1.6 0 1 0 3.2 0a1.6 1.6 0 1 0 -3.2 0M167.33 85.3a1.6 1.6 0 1 0 3.2 0a1.6 1.6 0 1 0 -3.2 0M171.93 82.6a1.6 1.6 0 1 0 3.2 0a1.6 1.6 0 1 0 -3.2 0M176.52 85.4a1.6 1.6 0 1 0 3.2 0a1.6 1.6 0 1 0 -3.2 0M181.11 86.1a1.6 1.6 0 1 0 3.2 0a1.6 1.6 0 1 0 -3.2 0M185.71 87.8a1.6 1.6 0 1 0 3.2 0a1.6 1.6 0 1 0 -3.2 0M190.3 78.7a1.6 1.6 0 1 0 3.2 0a1.6 1.6 0 1 0 -3.2 0M194.89 77.9a1.6 1.6 0 1 0 3.2 0a1.6 1.6 0 1 0 -3.2 0M199.49 81.8a1.6 1.6 0 1 0 3.2 0a1.6 1.6 0 1 0 -3.2 0M204.08 84.5a1.6 1.6 0 1 0 3.2 0a1.6 1.6 0 1 0 -3.2 0M208.68 74.4a1.6 1.6 0 1 0 3.2 0a1.6 1.6 0 1 0 -3.2 0M213.27 78.3a1.6 1.6 0 1 0 3.2 0a1.6 1.6 0 1 0 -3.2 0M217.86 80.2a1.6 1.6 0 1 0 3.2 0a1.6 1.6 0 1 0 -3.2 0M222.46 74.4a1.6 1.6 0 1 0 3.2 0a1.6 1.6 0 1 0 -3.2 0" fill="#1450ea"/>
<polyline points="244.49,78.4 249.08,66.3 253.67,63.8 258.27,69.8 262.86,77.1 267.46,58.6 272.05,102.9 276.64,88.5 281.24,92.8 285.83,96.1 290.42,106.8 295.02,84 299.61,83.6 304.2,79.3 308.8,83.1 313.39,107.1 317.98,107.1 322.58,75.5 327.17,31.3 331.77,85.7 336.36,108.5 340.95,106.8 345.55,107.6 350.14,84.8 354.73,92.8 359.33,100.9 363.92,97.5 368.51,109.6 373.11,104.7 377.7,99.5 382.29,95.3 386.89,101.2 391.48,103.1 396.08,109.8 400.67,102 405.26,104.2 409.86,119.9" fill="none" stroke="#1450ea" stroke-width="1.35" stroke-linejoin="round" stroke-linecap="round"/>
<path d="M243.04 78.4a1.45 1.45 0 1 0 2.9 0a1.45 1.45 0 1 0 -2.9 0M247.63 66.3a1.45 1.45 0 1 0 2.9 0a1.45 1.45 0 1 0 -2.9 0M252.22 63.8a1.45 1.45 0 1 0 2.9 0a1.45 1.45 0 1 0 -2.9 0M256.82 69.8a1.45 1.45 0 1 0 2.9 0a1.45 1.45 0 1 0 -2.9 0M261.41 77.1a1.45 1.45 0 1 0 2.9 0a1.45 1.45 0 1 0 -2.9 0M266.01 58.6a1.45 1.45 0 1 0 2.9 0a1.45 1.45 0 1 0 -2.9 0M270.6 102.9a1.45 1.45 0 1 0 2.9 0a1.45 1.45 0 1 0 -2.9 0M275.19 88.5a1.45 1.45 0 1 0 2.9 0a1.45 1.45 0 1 0 -2.9 0M279.79 92.8a1.45 1.45 0 1 0 2.9 0a1.45 1.45 0 1 0 -2.9 0M284.38 96.1a1.45 1.45 0 1 0 2.9 0a1.45 1.45 0 1 0 -2.9 0M288.97 106.8a1.45 1.45 0 1 0 2.9 0a1.45 1.45 0 1 0 -2.9 0M293.57 84a1.45 1.45 0 1 0 2.9 0a1.45 1.45 0 1 0 -2.9 0M298.16 83.6a1.45 1.45 0 1 0 2.9 0a1.45 1.45 0 1 0 -2.9 0M302.75 79.3a1.45 1.45 0 1 0 2.9 0a1.45 1.45 0 1 0 -2.9 0M307.35 83.1a1.45 1.45 0 1 0 2.9 0a1.45 1.45 0 1 0 -2.9 0M311.94 107.1a1.45 1.45 0 1 0 2.9 0a1.45 1.45 0 1 0 -2.9 0M316.53 107.1a1.45 1.45 0 1 0 2.9 0a1.45 1.45 0 1 0 -2.9 0M321.13 75.5a1.45 1.45 0 1 0 2.9 0a1.45 1.45 0 1 0 -2.9 0M325.72 31.3a1.45 1.45 0 1 0 2.9 0a1.45 1.45 0 1 0 -2.9 0M330.32 85.7a1.45 1.45 0 1 0 2.9 0a1.45 1.45 0 1 0 -2.9 0M334.91 108.5a1.45 1.45 0 1 0 2.9 0a1.45 1.45 0 1 0 -2.9 0M339.5 106.8a1.45 1.45 0 1 0 2.9 0a1.45 1.45 0 1 0 -2.9 0M344.1 107.6a1.45 1.45 0 1 0 2.9 0a1.45 1.45 0 1 0 -2.9 0M348.69 84.8a1.45 1.45 0 1 0 2.9 0a1.45 1.45 0 1 0 -2.9 0M353.28 92.8a1.45 1.45 0 1 0 2.9 0a1.45 1.45 0 1 0 -2.9 0M357.88 100.9a1.45 1.45 0 1 0 2.9 0a1.45 1.45 0 1 0 -2.9 0M362.47 97.5a1.45 1.45 0 1 0 2.9 0a1.45 1.45 0 1 0 -2.9 0M367.06 109.6a1.45 1.45 0 1 0 2.9 0a1.45 1.45 0 1 0 -2.9 0M371.66 104.7a1.45 1.45 0 1 0 2.9 0a1.45 1.45 0 1 0 -2.9 0M376.25 99.5a1.45 1.45 0 1 0 2.9 0a1.45 1.45 0 1 0 -2.9 0M380.84 95.3a1.45 1.45 0 1 0 2.9 0a1.45 1.45 0 1 0 -2.9 0M385.44 101.2a1.45 1.45 0 1 0 2.9 0a1.45 1.45 0 1 0 -2.9 0M390.03 103.1a1.45 1.45 0 1 0 2.9 0a1.45 1.45 0 1 0 -2.9 0M394.63 109.8a1.45 1.45 0 1 0 2.9 0a1.45 1.45 0 1 0 -2.9 0M399.22 102a1.45 1.45 0 1 0 2.9 0a1.45 1.45 0 1 0 -2.9 0M403.81 104.2a1.45 1.45 0 1 0 2.9 0a1.45 1.45 0 1 0 -2.9 0M408.41 119.9a1.45 1.45 0 1 0 2.9 0a1.45 1.45 0 1 0 -2.9 0" fill="#1450ea"/>
<polyline points="244.49,91.9 249.08,91.9 253.67,87.4 258.27,100.5 262.86,46.6 267.46,52.8 272.05,58.6 276.64,76.4 281.24,68.2 285.83,71.3 290.42,87.4 295.02,78.1 299.61,89.5 304.2,87.4 308.8,54.8 313.39,75.9 317.98,96.1 322.58,90.2 327.17,78.4 331.77,75.5 336.36,81.4 340.95,92.4 345.55,82.6 350.14,78.4 354.73,83.5 359.33,81.1 363.92,80.6 368.51,83.5 373.11,82.6 377.7,70.1 382.29,75.5 386.89,72.7 391.48,71 396.08,69.6 400.67,72.2 405.26,72.7 409.86,58.2" fill="none" stroke="#e41212" stroke-width="1.35" stroke-linejoin="round" stroke-linecap="round"/>
<path d="M243.04 91.9a1.45 1.45 0 1 0 2.9 0a1.45 1.45 0 1 0 -2.9 0M247.63 91.9a1.45 1.45 0 1 0 2.9 0a1.45 1.45 0 1 0 -2.9 0M252.22 87.4a1.45 1.45 0 1 0 2.9 0a1.45 1.45 0 1 0 -2.9 0M256.82 100.5a1.45 1.45 0 1 0 2.9 0a1.45 1.45 0 1 0 -2.9 0M261.41 46.6a1.45 1.45 0 1 0 2.9 0a1.45 1.45 0 1 0 -2.9 0M266.01 52.8a1.45 1.45 0 1 0 2.9 0a1.45 1.45 0 1 0 -2.9 0M270.6 58.6a1.45 1.45 0 1 0 2.9 0a1.45 1.45 0 1 0 -2.9 0M275.19 76.4a1.45 1.45 0 1 0 2.9 0a1.45 1.45 0 1 0 -2.9 0M279.79 68.2a1.45 1.45 0 1 0 2.9 0a1.45 1.45 0 1 0 -2.9 0M284.38 71.3a1.45 1.45 0 1 0 2.9 0a1.45 1.45 0 1 0 -2.9 0M288.97 87.4a1.45 1.45 0 1 0 2.9 0a1.45 1.45 0 1 0 -2.9 0M293.57 78.1a1.45 1.45 0 1 0 2.9 0a1.45 1.45 0 1 0 -2.9 0M298.16 89.5a1.45 1.45 0 1 0 2.9 0a1.45 1.45 0 1 0 -2.9 0M302.75 87.4a1.45 1.45 0 1 0 2.9 0a1.45 1.45 0 1 0 -2.9 0M307.35 54.8a1.45 1.45 0 1 0 2.9 0a1.45 1.45 0 1 0 -2.9 0M311.94 75.9a1.45 1.45 0 1 0 2.9 0a1.45 1.45 0 1 0 -2.9 0M316.53 96.1a1.45 1.45 0 1 0 2.9 0a1.45 1.45 0 1 0 -2.9 0M321.13 90.2a1.45 1.45 0 1 0 2.9 0a1.45 1.45 0 1 0 -2.9 0M325.72 78.4a1.45 1.45 0 1 0 2.9 0a1.45 1.45 0 1 0 -2.9 0M330.32 75.5a1.45 1.45 0 1 0 2.9 0a1.45 1.45 0 1 0 -2.9 0M334.91 81.4a1.45 1.45 0 1 0 2.9 0a1.45 1.45 0 1 0 -2.9 0M339.5 92.4a1.45 1.45 0 1 0 2.9 0a1.45 1.45 0 1 0 -2.9 0M344.1 82.6a1.45 1.45 0 1 0 2.9 0a1.45 1.45 0 1 0 -2.9 0M348.69 78.4a1.45 1.45 0 1 0 2.9 0a1.45 1.45 0 1 0 -2.9 0M353.28 83.5a1.45 1.45 0 1 0 2.9 0a1.45 1.45 0 1 0 -2.9 0M357.88 81.1a1.45 1.45 0 1 0 2.9 0a1.45 1.45 0 1 0 -2.9 0M362.47 80.6a1.45 1.45 0 1 0 2.9 0a1.45 1.45 0 1 0 -2.9 0M367.06 83.5a1.45 1.45 0 1 0 2.9 0a1.45 1.45 0 1 0 -2.9 0M371.66 82.6a1.45 1.45 0 1 0 2.9 0a1.45 1.45 0 1 0 -2.9 0M376.25 70.1a1.45 1.45 0 1 0 2.9 0a1.45 1.45 0 1 0 -2.9 0M380.84 75.5a1.45 1.45 0 1 0 2.9 0a1.45 1.45 0 1 0 -2.9 0M385.44 72.7a1.45 1.45 0 1 0 2.9 0a1.45 1.45 0 1 0 -2.9 0M390.03 71a1.45 1.45 0 1 0 2.9 0a1.45 1.45 0 1 0 -2.9 0M394.63 69.6a1.45 1.45 0 1 0 2.9 0a1.45 1.45 0 1 0 -2.9 0M399.22 72.2a1.45 1.45 0 1 0 2.9 0a1.45 1.45 0 1 0 -2.9 0M403.81 72.7a1.45 1.45 0 1 0 2.9 0a1.45 1.45 0 1 0 -2.9 0M408.41 58.2a1.45 1.45 0 1 0 2.9 0a1.45 1.45 0 1 0 -2.9 0" fill="#e41212"/>
<line x1="475.72" y1="110.9" x2="484.91" y2="106.4" stroke="#ffd826" stroke-width="1.0" stroke-dasharray="4.6 2.6 1 2.6"/>
<polyline points="434.38,46.7 438.97,82.8 443.57,99.4 448.16,62.9 452.76,82 457.35,71.6 461.94,60.9 466.54,32.7 471.13,113.4 475.72,110.9" fill="none" stroke="#ffd826" stroke-width="1.0" stroke-linejoin="round" stroke-linecap="round"/>
<polyline points="484.91,106.4 489.5,93.9" fill="none" stroke="#ffd826" stroke-width="1.0" stroke-linejoin="round" stroke-linecap="round"/>
<polyline points="498.69,45.4 503.28,101.7 507.88,86.5 512.47,93.4 517.07,94.4 521.66,74.3 526.25,98.9 530.85,99.7 535.44,85.1 540.03,79 544.63,63 549.22,77.6 553.81,91.5 558.41,78 563,74.1 567.59,74 572.19,65.9 576.78,74.1 581.38,71.2 585.97,60.5 590.56,53.1" fill="none" stroke="#ffd826" stroke-width="1.0" stroke-linejoin="round" stroke-linecap="round"/>
<path d="M433.03 46.7a1.35 1.35 0 1 0 2.7 0a1.35 1.35 0 1 0 -2.7 0M437.62 82.8a1.35 1.35 0 1 0 2.7 0a1.35 1.35 0 1 0 -2.7 0M442.22 99.4a1.35 1.35 0 1 0 2.7 0a1.35 1.35 0 1 0 -2.7 0M446.81 62.9a1.35 1.35 0 1 0 2.7 0a1.35 1.35 0 1 0 -2.7 0M451.41 82a1.35 1.35 0 1 0 2.7 0a1.35 1.35 0 1 0 -2.7 0M456 71.6a1.35 1.35 0 1 0 2.7 0a1.35 1.35 0 1 0 -2.7 0M460.59 60.9a1.35 1.35 0 1 0 2.7 0a1.35 1.35 0 1 0 -2.7 0M465.19 32.7a1.35 1.35 0 1 0 2.7 0a1.35 1.35 0 1 0 -2.7 0M469.78 113.4a1.35 1.35 0 1 0 2.7 0a1.35 1.35 0 1 0 -2.7 0M474.37 110.9a1.35 1.35 0 1 0 2.7 0a1.35 1.35 0 1 0 -2.7 0M483.56 106.4a1.35 1.35 0 1 0 2.7 0a1.35 1.35 0 1 0 -2.7 0M488.15 93.9a1.35 1.35 0 1 0 2.7 0a1.35 1.35 0 1 0 -2.7 0M497.34 45.4a1.35 1.35 0 1 0 2.7 0a1.35 1.35 0 1 0 -2.7 0M501.93 101.7a1.35 1.35 0 1 0 2.7 0a1.35 1.35 0 1 0 -2.7 0M506.53 86.5a1.35 1.35 0 1 0 2.7 0a1.35 1.35 0 1 0 -2.7 0M511.12 93.4a1.35 1.35 0 1 0 2.7 0a1.35 1.35 0 1 0 -2.7 0M515.72 94.4a1.35 1.35 0 1 0 2.7 0a1.35 1.35 0 1 0 -2.7 0M520.31 74.3a1.35 1.35 0 1 0 2.7 0a1.35 1.35 0 1 0 -2.7 0M524.9 98.9a1.35 1.35 0 1 0 2.7 0a1.35 1.35 0 1 0 -2.7 0M529.5 99.7a1.35 1.35 0 1 0 2.7 0a1.35 1.35 0 1 0 -2.7 0M534.09 85.1a1.35 1.35 0 1 0 2.7 0a1.35 1.35 0 1 0 -2.7 0M538.68 79a1.35 1.35 0 1 0 2.7 0a1.35 1.35 0 1 0 -2.7 0M543.28 63a1.35 1.35 0 1 0 2.7 0a1.35 1.35 0 1 0 -2.7 0M547.87 77.6a1.35 1.35 0 1 0 2.7 0a1.35 1.35 0 1 0 -2.7 0M552.46 91.5a1.35 1.35 0 1 0 2.7 0a1.35 1.35 0 1 0 -2.7 0M557.06 78a1.35 1.35 0 1 0 2.7 0a1.35 1.35 0 1 0 -2.7 0M561.65 74.1a1.35 1.35 0 1 0 2.7 0a1.35 1.35 0 1 0 -2.7 0M566.24 74a1.35 1.35 0 1 0 2.7 0a1.35 1.35 0 1 0 -2.7 0M570.84 65.9a1.35 1.35 0 1 0 2.7 0a1.35 1.35 0 1 0 -2.7 0M575.43 74.1a1.35 1.35 0 1 0 2.7 0a1.35 1.35 0 1 0 -2.7 0M580.03 71.2a1.35 1.35 0 1 0 2.7 0a1.35 1.35 0 1 0 -2.7 0M584.62 60.5a1.35 1.35 0 1 0 2.7 0a1.35 1.35 0 1 0 -2.7 0M589.21 53.1a1.35 1.35 0 1 0 2.7 0a1.35 1.35 0 1 0 -2.7 0" fill="#ffd826"/>
<line x1="475.72" y1="109.2" x2="484.91" y2="38.9" stroke="#2fe02f" stroke-width="1.0" stroke-dasharray="4.6 2.6 1 2.6"/>
<line x1="494.1" y1="69.3" x2="503.28" y2="106.4" stroke="#2fe02f" stroke-width="1.0" stroke-dasharray="4.6 2.6 1 2.6"/>
<polyline points="429.79,69.2 434.38,34.3 438.97,49.7 443.57,44.9 448.16,51.4 452.76,54.4 457.35,112.7 461.94,57.9 466.54,78.3 471.13,106.7 475.72,109.2" fill="none" stroke="#2fe02f" stroke-width="1.0" stroke-linejoin="round" stroke-linecap="round"/>
<polyline points="484.91,38.9 489.5,78.2 494.1,69.3" fill="none" stroke="#2fe02f" stroke-width="1.0" stroke-linejoin="round" stroke-linecap="round"/>
<polyline points="503.28,106.4 507.88,49.4 512.47,27.5 517.07,110.1 521.66,110.6 526.25,106.9 530.85,108.1 535.44,63.3 540.03,61.3 544.63,86.3 549.22,56.4 553.81,122.6 558.41,99.7 563,98.5 567.59,101.6 572.19,98.5 576.78,107.4 581.38,112.1 585.97,119.4 590.56,106 595.16,121.2" fill="none" stroke="#2fe02f" stroke-width="1.0" stroke-linejoin="round" stroke-linecap="round"/>
<path d="M428.44 69.2a1.35 1.35 0 1 0 2.7 0a1.35 1.35 0 1 0 -2.7 0M433.03 34.3a1.35 1.35 0 1 0 2.7 0a1.35 1.35 0 1 0 -2.7 0M437.62 49.7a1.35 1.35 0 1 0 2.7 0a1.35 1.35 0 1 0 -2.7 0M442.22 44.9a1.35 1.35 0 1 0 2.7 0a1.35 1.35 0 1 0 -2.7 0M446.81 51.4a1.35 1.35 0 1 0 2.7 0a1.35 1.35 0 1 0 -2.7 0M451.41 54.4a1.35 1.35 0 1 0 2.7 0a1.35 1.35 0 1 0 -2.7 0M456 112.7a1.35 1.35 0 1 0 2.7 0a1.35 1.35 0 1 0 -2.7 0M460.59 57.9a1.35 1.35 0 1 0 2.7 0a1.35 1.35 0 1 0 -2.7 0M465.19 78.3a1.35 1.35 0 1 0 2.7 0a1.35 1.35 0 1 0 -2.7 0M469.78 106.7a1.35 1.35 0 1 0 2.7 0a1.35 1.35 0 1 0 -2.7 0M474.37 109.2a1.35 1.35 0 1 0 2.7 0a1.35 1.35 0 1 0 -2.7 0M483.56 38.9a1.35 1.35 0 1 0 2.7 0a1.35 1.35 0 1 0 -2.7 0M488.15 78.2a1.35 1.35 0 1 0 2.7 0a1.35 1.35 0 1 0 -2.7 0M492.75 69.3a1.35 1.35 0 1 0 2.7 0a1.35 1.35 0 1 0 -2.7 0M501.93 106.4a1.35 1.35 0 1 0 2.7 0a1.35 1.35 0 1 0 -2.7 0M506.53 49.4a1.35 1.35 0 1 0 2.7 0a1.35 1.35 0 1 0 -2.7 0M511.12 27.5a1.35 1.35 0 1 0 2.7 0a1.35 1.35 0 1 0 -2.7 0M515.72 110.1a1.35 1.35 0 1 0 2.7 0a1.35 1.35 0 1 0 -2.7 0M520.31 110.6a1.35 1.35 0 1 0 2.7 0a1.35 1.35 0 1 0 -2.7 0M524.9 106.9a1.35 1.35 0 1 0 2.7 0a1.35 1.35 0 1 0 -2.7 0M529.5 108.1a1.35 1.35 0 1 0 2.7 0a1.35 1.35 0 1 0 -2.7 0M534.09 63.3a1.35 1.35 0 1 0 2.7 0a1.35 1.35 0 1 0 -2.7 0M538.68 61.3a1.35 1.35 0 1 0 2.7 0a1.35 1.35 0 1 0 -2.7 0M543.28 86.3a1.35 1.35 0 1 0 2.7 0a1.35 1.35 0 1 0 -2.7 0M547.87 56.4a1.35 1.35 0 1 0 2.7 0a1.35 1.35 0 1 0 -2.7 0M552.46 122.6a1.35 1.35 0 1 0 2.7 0a1.35 1.35 0 1 0 -2.7 0M557.06 99.7a1.35 1.35 0 1 0 2.7 0a1.35 1.35 0 1 0 -2.7 0M561.65 98.5a1.35 1.35 0 1 0 2.7 0a1.35 1.35 0 1 0 -2.7 0M566.24 101.6a1.35 1.35 0 1 0 2.7 0a1.35 1.35 0 1 0 -2.7 0M570.84 98.5a1.35 1.35 0 1 0 2.7 0a1.35 1.35 0 1 0 -2.7 0M575.43 107.4a1.35 1.35 0 1 0 2.7 0a1.35 1.35 0 1 0 -2.7 0M580.03 112.1a1.35 1.35 0 1 0 2.7 0a1.35 1.35 0 1 0 -2.7 0M584.62 119.4a1.35 1.35 0 1 0 2.7 0a1.35 1.35 0 1 0 -2.7 0M589.21 106a1.35 1.35 0 1 0 2.7 0a1.35 1.35 0 1 0 -2.7 0M593.81 121.2a1.35 1.35 0 1 0 2.7 0a1.35 1.35 0 1 0 -2.7 0" fill="#2fe02f"/>
<polyline points="429.79,92.1 434.38,94.7 438.97,96.7 443.57,100.7 448.16,69.9 452.76,66.1 457.35,57.4 461.94,85 466.54,88.2 471.13,80.3 475.72,86.9 480.32,88.7 484.91,77.1 489.5,82.6 494.1,78.6 498.69,90.4 503.28,87.6 507.88,76.5 512.47,65.9 517.07,65.4 521.66,81.5 526.25,87 530.85,69.1 535.44,68.8 540.03,81.9 544.63,81.6 549.22,74.9 553.81,75.6 558.41,78 563,70.9 567.59,74.1 572.19,68.6 576.78,68.6 581.38,68.8 585.97,71.2 590.56,69.8 595.16,73.4" fill="none" stroke="#e41212" stroke-width="1.0" stroke-linejoin="round" stroke-linecap="round"/>
<path d="M428.44 92.1a1.35 1.35 0 1 0 2.7 0a1.35 1.35 0 1 0 -2.7 0M433.03 94.7a1.35 1.35 0 1 0 2.7 0a1.35 1.35 0 1 0 -2.7 0M437.62 96.7a1.35 1.35 0 1 0 2.7 0a1.35 1.35 0 1 0 -2.7 0M442.22 100.7a1.35 1.35 0 1 0 2.7 0a1.35 1.35 0 1 0 -2.7 0M446.81 69.9a1.35 1.35 0 1 0 2.7 0a1.35 1.35 0 1 0 -2.7 0M451.41 66.1a1.35 1.35 0 1 0 2.7 0a1.35 1.35 0 1 0 -2.7 0M456 57.4a1.35 1.35 0 1 0 2.7 0a1.35 1.35 0 1 0 -2.7 0M460.59 85a1.35 1.35 0 1 0 2.7 0a1.35 1.35 0 1 0 -2.7 0M465.19 88.2a1.35 1.35 0 1 0 2.7 0a1.35 1.35 0 1 0 -2.7 0M469.78 80.3a1.35 1.35 0 1 0 2.7 0a1.35 1.35 0 1 0 -2.7 0M474.37 86.9a1.35 1.35 0 1 0 2.7 0a1.35 1.35 0 1 0 -2.7 0M478.97 88.7a1.35 1.35 0 1 0 2.7 0a1.35 1.35 0 1 0 -2.7 0M483.56 77.1a1.35 1.35 0 1 0 2.7 0a1.35 1.35 0 1 0 -2.7 0M488.15 82.6a1.35 1.35 0 1 0 2.7 0a1.35 1.35 0 1 0 -2.7 0M492.75 78.6a1.35 1.35 0 1 0 2.7 0a1.35 1.35 0 1 0 -2.7 0M497.34 90.4a1.35 1.35 0 1 0 2.7 0a1.35 1.35 0 1 0 -2.7 0M501.93 87.6a1.35 1.35 0 1 0 2.7 0a1.35 1.35 0 1 0 -2.7 0M506.53 76.5a1.35 1.35 0 1 0 2.7 0a1.35 1.35 0 1 0 -2.7 0M511.12 65.9a1.35 1.35 0 1 0 2.7 0a1.35 1.35 0 1 0 -2.7 0M515.72 65.4a1.35 1.35 0 1 0 2.7 0a1.35 1.35 0 1 0 -2.7 0M520.31 81.5a1.35 1.35 0 1 0 2.7 0a1.35 1.35 0 1 0 -2.7 0M524.9 87a1.35 1.35 0 1 0 2.7 0a1.35 1.35 0 1 0 -2.7 0M529.5 69.1a1.35 1.35 0 1 0 2.7 0a1.35 1.35 0 1 0 -2.7 0M534.09 68.8a1.35 1.35 0 1 0 2.7 0a1.35 1.35 0 1 0 -2.7 0M538.68 81.9a1.35 1.35 0 1 0 2.7 0a1.35 1.35 0 1 0 -2.7 0M543.28 81.6a1.35 1.35 0 1 0 2.7 0a1.35 1.35 0 1 0 -2.7 0M547.87 74.9a1.35 1.35 0 1 0 2.7 0a1.35 1.35 0 1 0 -2.7 0M552.46 75.6a1.35 1.35 0 1 0 2.7 0a1.35 1.35 0 1 0 -2.7 0M557.06 78a1.35 1.35 0 1 0 2.7 0a1.35 1.35 0 1 0 -2.7 0M561.65 70.9a1.35 1.35 0 1 0 2.7 0a1.35 1.35 0 1 0 -2.7 0M566.24 74.1a1.35 1.35 0 1 0 2.7 0a1.35 1.35 0 1 0 -2.7 0M570.84 68.6a1.35 1.35 0 1 0 2.7 0a1.35 1.35 0 1 0 -2.7 0M575.43 68.6a1.35 1.35 0 1 0 2.7 0a1.35 1.35 0 1 0 -2.7 0M580.03 68.8a1.35 1.35 0 1 0 2.7 0a1.35 1.35 0 1 0 -2.7 0M584.62 71.2a1.35 1.35 0 1 0 2.7 0a1.35 1.35 0 1 0 -2.7 0M589.21 69.8a1.35 1.35 0 1 0 2.7 0a1.35 1.35 0 1 0 -2.7 0M593.81 73.4a1.35 1.35 0 1 0 2.7 0a1.35 1.35 0 1 0 -2.7 0" fill="#e41212"/>
<line x1="471.13" y1="75.4" x2="480.32" y2="79.3" stroke="#1450ea" stroke-width="1.0" stroke-dasharray="4.6 2.6 1 2.6"/>
<line x1="517.07" y1="68.6" x2="526.25" y2="106.7" stroke="#1450ea" stroke-width="1.0" stroke-dasharray="4.6 2.6 1 2.6"/>
<line x1="558.41" y1="110.3" x2="567.59" y2="89.5" stroke="#1450ea" stroke-width="1.0" stroke-dasharray="4.6 2.6 1 2.6"/>
<polyline points="429.79,95.6 434.38,96.4 438.97,96.4 443.57,103.6 448.16,106.1 452.76,76.8 457.35,100.4 461.94,97.4 466.54,97.5 471.13,75.4" fill="none" stroke="#1450ea" stroke-width="1.0" stroke-linejoin="round" stroke-linecap="round"/>
<polyline points="480.32,79.3 484.91,96.2 489.5,88.9 494.1,92.4 498.69,104.6 503.28,117.2 507.88,97.7 512.47,55.1 517.07,68.6" fill="none" stroke="#1450ea" stroke-width="1.0" stroke-linejoin="round" stroke-linecap="round"/>
<polyline points="526.25,106.7 530.85,106.2 535.44,109.5 540.03,93 544.63,105.5 549.22,101.6 553.81,107 558.41,110.3" fill="none" stroke="#1450ea" stroke-width="1.0" stroke-linejoin="round" stroke-linecap="round"/>
<polyline points="567.59,89.5 572.19,103.7 576.78,102.3 581.38,105.2 585.97,103.7 590.56,107.8" fill="none" stroke="#1450ea" stroke-width="1.0" stroke-linejoin="round" stroke-linecap="round"/>
<path d="M428.44 95.6a1.35 1.35 0 1 0 2.7 0a1.35 1.35 0 1 0 -2.7 0M433.03 96.4a1.35 1.35 0 1 0 2.7 0a1.35 1.35 0 1 0 -2.7 0M437.62 96.4a1.35 1.35 0 1 0 2.7 0a1.35 1.35 0 1 0 -2.7 0M442.22 103.6a1.35 1.35 0 1 0 2.7 0a1.35 1.35 0 1 0 -2.7 0M446.81 106.1a1.35 1.35 0 1 0 2.7 0a1.35 1.35 0 1 0 -2.7 0M451.41 76.8a1.35 1.35 0 1 0 2.7 0a1.35 1.35 0 1 0 -2.7 0M456 100.4a1.35 1.35 0 1 0 2.7 0a1.35 1.35 0 1 0 -2.7 0M460.59 97.4a1.35 1.35 0 1 0 2.7 0a1.35 1.35 0 1 0 -2.7 0M465.19 97.5a1.35 1.35 0 1 0 2.7 0a1.35 1.35 0 1 0 -2.7 0M469.78 75.4a1.35 1.35 0 1 0 2.7 0a1.35 1.35 0 1 0 -2.7 0M478.97 79.3a1.35 1.35 0 1 0 2.7 0a1.35 1.35 0 1 0 -2.7 0M483.56 96.2a1.35 1.35 0 1 0 2.7 0a1.35 1.35 0 1 0 -2.7 0M488.15 88.9a1.35 1.35 0 1 0 2.7 0a1.35 1.35 0 1 0 -2.7 0M492.75 92.4a1.35 1.35 0 1 0 2.7 0a1.35 1.35 0 1 0 -2.7 0M497.34 104.6a1.35 1.35 0 1 0 2.7 0a1.35 1.35 0 1 0 -2.7 0M501.93 117.2a1.35 1.35 0 1 0 2.7 0a1.35 1.35 0 1 0 -2.7 0M506.53 97.7a1.35 1.35 0 1 0 2.7 0a1.35 1.35 0 1 0 -2.7 0M511.12 55.1a1.35 1.35 0 1 0 2.7 0a1.35 1.35 0 1 0 -2.7 0M515.72 68.6a1.35 1.35 0 1 0 2.7 0a1.35 1.35 0 1 0 -2.7 0M524.9 106.7a1.35 1.35 0 1 0 2.7 0a1.35 1.35 0 1 0 -2.7 0M529.5 106.2a1.35 1.35 0 1 0 2.7 0a1.35 1.35 0 1 0 -2.7 0M534.09 109.5a1.35 1.35 0 1 0 2.7 0a1.35 1.35 0 1 0 -2.7 0M538.68 93a1.35 1.35 0 1 0 2.7 0a1.35 1.35 0 1 0 -2.7 0M543.28 105.5a1.35 1.35 0 1 0 2.7 0a1.35 1.35 0 1 0 -2.7 0M547.87 101.6a1.35 1.35 0 1 0 2.7 0a1.35 1.35 0 1 0 -2.7 0M552.46 107a1.35 1.35 0 1 0 2.7 0a1.35 1.35 0 1 0 -2.7 0M557.06 110.3a1.35 1.35 0 1 0 2.7 0a1.35 1.35 0 1 0 -2.7 0M566.24 89.5a1.35 1.35 0 1 0 2.7 0a1.35 1.35 0 1 0 -2.7 0M570.84 103.7a1.35 1.35 0 1 0 2.7 0a1.35 1.35 0 1 0 -2.7 0M575.43 102.3a1.35 1.35 0 1 0 2.7 0a1.35 1.35 0 1 0 -2.7 0M580.03 105.2a1.35 1.35 0 1 0 2.7 0a1.35 1.35 0 1 0 -2.7 0M584.62 103.7a1.35 1.35 0 1 0 2.7 0a1.35 1.35 0 1 0 -2.7 0M589.21 107.8a1.35 1.35 0 1 0 2.7 0a1.35 1.35 0 1 0 -2.7 0" fill="#1450ea"/>
<polyline points="58.69,208.4 63.28,201.8 67.87,205.1 72.47,196.6 77.06,226.7 81.66,218.6 86.25,221.4 90.84,207.3 95.44,220.5 100.03,232.9 104.62,220.3 109.22,234.7 113.81,219.5 118.4,215.6 123,209.6 127.59,217.1 132.18,213.7 136.78,217.7 141.37,226 145.97,228.3 150.56,241.3 155.15,235 159.75,231.5 164.34,240.2 168.93,234.2 173.53,241.8 178.12,229 182.71,236.1 187.31,231.3 191.9,234.5 196.49,237.7 201.09,229.8 205.68,223.1 210.28,241.3 214.87,232.6 219.46,231.3 224.06,228.7" fill="none" stroke="#1450ea" stroke-width="1.45" stroke-linejoin="round" stroke-linecap="round"/>
<path d="M57.09 208.4a1.6 1.6 0 1 0 3.2 0a1.6 1.6 0 1 0 -3.2 0M61.68 201.8a1.6 1.6 0 1 0 3.2 0a1.6 1.6 0 1 0 -3.2 0M66.27 205.1a1.6 1.6 0 1 0 3.2 0a1.6 1.6 0 1 0 -3.2 0M70.87 196.6a1.6 1.6 0 1 0 3.2 0a1.6 1.6 0 1 0 -3.2 0M75.46 226.7a1.6 1.6 0 1 0 3.2 0a1.6 1.6 0 1 0 -3.2 0M80.06 218.6a1.6 1.6 0 1 0 3.2 0a1.6 1.6 0 1 0 -3.2 0M84.65 221.4a1.6 1.6 0 1 0 3.2 0a1.6 1.6 0 1 0 -3.2 0M89.24 207.3a1.6 1.6 0 1 0 3.2 0a1.6 1.6 0 1 0 -3.2 0M93.84 220.5a1.6 1.6 0 1 0 3.2 0a1.6 1.6 0 1 0 -3.2 0M98.43 232.9a1.6 1.6 0 1 0 3.2 0a1.6 1.6 0 1 0 -3.2 0M103.02 220.3a1.6 1.6 0 1 0 3.2 0a1.6 1.6 0 1 0 -3.2 0M107.62 234.7a1.6 1.6 0 1 0 3.2 0a1.6 1.6 0 1 0 -3.2 0M112.21 219.5a1.6 1.6 0 1 0 3.2 0a1.6 1.6 0 1 0 -3.2 0M116.8 215.6a1.6 1.6 0 1 0 3.2 0a1.6 1.6 0 1 0 -3.2 0M121.4 209.6a1.6 1.6 0 1 0 3.2 0a1.6 1.6 0 1 0 -3.2 0M125.99 217.1a1.6 1.6 0 1 0 3.2 0a1.6 1.6 0 1 0 -3.2 0M130.58 213.7a1.6 1.6 0 1 0 3.2 0a1.6 1.6 0 1 0 -3.2 0M135.18 217.7a1.6 1.6 0 1 0 3.2 0a1.6 1.6 0 1 0 -3.2 0M139.77 226a1.6 1.6 0 1 0 3.2 0a1.6 1.6 0 1 0 -3.2 0M144.37 228.3a1.6 1.6 0 1 0 3.2 0a1.6 1.6 0 1 0 -3.2 0M148.96 241.3a1.6 1.6 0 1 0 3.2 0a1.6 1.6 0 1 0 -3.2 0M153.55 235a1.6 1.6 0 1 0 3.2 0a1.6 1.6 0 1 0 -3.2 0M158.15 231.5a1.6 1.6 0 1 0 3.2 0a1.6 1.6 0 1 0 -3.2 0M162.74 240.2a1.6 1.6 0 1 0 3.2 0a1.6 1.6 0 1 0 -3.2 0M167.33 234.2a1.6 1.6 0 1 0 3.2 0a1.6 1.6 0 1 0 -3.2 0M171.93 241.8a1.6 1.6 0 1 0 3.2 0a1.6 1.6 0 1 0 -3.2 0M176.52 229a1.6 1.6 0 1 0 3.2 0a1.6 1.6 0 1 0 -3.2 0M181.11 236.1a1.6 1.6 0 1 0 3.2 0a1.6 1.6 0 1 0 -3.2 0M185.71 231.3a1.6 1.6 0 1 0 3.2 0a1.6 1.6 0 1 0 -3.2 0M190.3 234.5a1.6 1.6 0 1 0 3.2 0a1.6 1.6 0 1 0 -3.2 0M194.89 237.7a1.6 1.6 0 1 0 3.2 0a1.6 1.6 0 1 0 -3.2 0M199.49 229.8a1.6 1.6 0 1 0 3.2 0a1.6 1.6 0 1 0 -3.2 0M204.08 223.1a1.6 1.6 0 1 0 3.2 0a1.6 1.6 0 1 0 -3.2 0M208.68 241.3a1.6 1.6 0 1 0 3.2 0a1.6 1.6 0 1 0 -3.2 0M213.27 232.6a1.6 1.6 0 1 0 3.2 0a1.6 1.6 0 1 0 -3.2 0M217.86 231.3a1.6 1.6 0 1 0 3.2 0a1.6 1.6 0 1 0 -3.2 0M222.46 228.7a1.6 1.6 0 1 0 3.2 0a1.6 1.6 0 1 0 -3.2 0" fill="#1450ea"/>
<polyline points="244.49,184.2 249.08,190 253.67,191 258.27,184.7 262.86,177.9 267.46,175.5 272.05,181.5 276.64,184.7 281.24,191.6 285.83,187.3 290.42,184.2 295.02,192.9 299.61,192.9 304.2,193.3 308.8,196 313.39,179 317.98,185.5 322.58,187.3 327.17,189.5 331.77,202.8 336.36,187.6 340.95,202.3 345.55,192.7 350.14,184.7 354.73,210.7 359.33,180.8 363.92,182 368.51,183 373.11,185.9 377.7,197.7 382.29,196.5 386.89,198.1 391.48,191 396.08,179.7 400.67,186.8 405.26,186.8 409.86,184.7" fill="none" stroke="#1450ea" stroke-width="1.35" stroke-linejoin="round" stroke-linecap="round"/>
<path d="M243.04 184.2a1.45 1.45 0 1 0 2.9 0a1.45 1.45 0 1 0 -2.9 0M247.63 190a1.45 1.45 0 1 0 2.9 0a1.45 1.45 0 1 0 -2.9 0M252.22 191a1.45 1.45 0 1 0 2.9 0a1.45 1.45 0 1 0 -2.9 0M256.82 184.7a1.45 1.45 0 1 0 2.9 0a1.45 1.45 0 1 0 -2.9 0M261.41 177.9a1.45 1.45 0 1 0 2.9 0a1.45 1.45 0 1 0 -2.9 0M266.01 175.5a1.45 1.45 0 1 0 2.9 0a1.45 1.45 0 1 0 -2.9 0M270.6 181.5a1.45 1.45 0 1 0 2.9 0a1.45 1.45 0 1 0 -2.9 0M275.19 184.7a1.45 1.45 0 1 0 2.9 0a1.45 1.45 0 1 0 -2.9 0M279.79 191.6a1.45 1.45 0 1 0 2.9 0a1.45 1.45 0 1 0 -2.9 0M284.38 187.3a1.45 1.45 0 1 0 2.9 0a1.45 1.45 0 1 0 -2.9 0M288.97 184.2a1.45 1.45 0 1 0 2.9 0a1.45 1.45 0 1 0 -2.9 0M293.57 192.9a1.45 1.45 0 1 0 2.9 0a1.45 1.45 0 1 0 -2.9 0M298.16 192.9a1.45 1.45 0 1 0 2.9 0a1.45 1.45 0 1 0 -2.9 0M302.75 193.3a1.45 1.45 0 1 0 2.9 0a1.45 1.45 0 1 0 -2.9 0M307.35 196a1.45 1.45 0 1 0 2.9 0a1.45 1.45 0 1 0 -2.9 0M311.94 179a1.45 1.45 0 1 0 2.9 0a1.45 1.45 0 1 0 -2.9 0M316.53 185.5a1.45 1.45 0 1 0 2.9 0a1.45 1.45 0 1 0 -2.9 0M321.13 187.3a1.45 1.45 0 1 0 2.9 0a1.45 1.45 0 1 0 -2.9 0M325.72 189.5a1.45 1.45 0 1 0 2.9 0a1.45 1.45 0 1 0 -2.9 0M330.32 202.8a1.45 1.45 0 1 0 2.9 0a1.45 1.45 0 1 0 -2.9 0M334.91 187.6a1.45 1.45 0 1 0 2.9 0a1.45 1.45 0 1 0 -2.9 0M339.5 202.3a1.45 1.45 0 1 0 2.9 0a1.45 1.45 0 1 0 -2.9 0M344.1 192.7a1.45 1.45 0 1 0 2.9 0a1.45 1.45 0 1 0 -2.9 0M348.69 184.7a1.45 1.45 0 1 0 2.9 0a1.45 1.45 0 1 0 -2.9 0M353.28 210.7a1.45 1.45 0 1 0 2.9 0a1.45 1.45 0 1 0 -2.9 0M357.88 180.8a1.45 1.45 0 1 0 2.9 0a1.45 1.45 0 1 0 -2.9 0M362.47 182a1.45 1.45 0 1 0 2.9 0a1.45 1.45 0 1 0 -2.9 0M367.06 183a1.45 1.45 0 1 0 2.9 0a1.45 1.45 0 1 0 -2.9 0M371.66 185.9a1.45 1.45 0 1 0 2.9 0a1.45 1.45 0 1 0 -2.9 0M376.25 197.7a1.45 1.45 0 1 0 2.9 0a1.45 1.45 0 1 0 -2.9 0M380.84 196.5a1.45 1.45 0 1 0 2.9 0a1.45 1.45 0 1 0 -2.9 0M385.44 198.1a1.45 1.45 0 1 0 2.9 0a1.45 1.45 0 1 0 -2.9 0M390.03 191a1.45 1.45 0 1 0 2.9 0a1.45 1.45 0 1 0 -2.9 0M394.63 179.7a1.45 1.45 0 1 0 2.9 0a1.45 1.45 0 1 0 -2.9 0M399.22 186.8a1.45 1.45 0 1 0 2.9 0a1.45 1.45 0 1 0 -2.9 0M403.81 186.8a1.45 1.45 0 1 0 2.9 0a1.45 1.45 0 1 0 -2.9 0M408.41 184.7a1.45 1.45 0 1 0 2.9 0a1.45 1.45 0 1 0 -2.9 0" fill="#1450ea"/>
<polyline points="244.49,221.4 249.08,213.4 253.67,220.8 258.27,222.5 262.86,241.6 267.46,240.8 272.05,240.4 276.64,227.3 281.24,238.7 285.83,239.1 290.42,234 295.02,236.5 299.61,226.8 304.2,225.6 308.8,229 313.39,231.5 317.98,225.9 322.58,227.3 327.17,229.8 331.77,229.8 336.36,242.5 340.95,236 345.55,239.1 350.14,244.6 354.73,239.6 359.33,247.2 363.92,248.9 368.51,241.6 373.11,245.8 377.7,250.6 382.29,243.3 386.89,245 391.48,245.5 396.08,249.5 400.67,243.8 405.26,245 409.86,245" fill="none" stroke="#e41212" stroke-width="1.35" stroke-linejoin="round" stroke-linecap="round"/>
<path d="M243.04 221.4a1.45 1.45 0 1 0 2.9 0a1.45 1.45 0 1 0 -2.9 0M247.63 213.4a1.45 1.45 0 1 0 2.9 0a1.45 1.45 0 1 0 -2.9 0M252.22 220.8a1.45 1.45 0 1 0 2.9 0a1.45 1.45 0 1 0 -2.9 0M256.82 222.5a1.45 1.45 0 1 0 2.9 0a1.45 1.45 0 1 0 -2.9 0M261.41 241.6a1.45 1.45 0 1 0 2.9 0a1.45 1.45 0 1 0 -2.9 0M266.01 240.8a1.45 1.45 0 1 0 2.9 0a1.45 1.45 0 1 0 -2.9 0M270.6 240.4a1.45 1.45 0 1 0 2.9 0a1.45 1.45 0 1 0 -2.9 0M275.19 227.3a1.45 1.45 0 1 0 2.9 0a1.45 1.45 0 1 0 -2.9 0M279.79 238.7a1.45 1.45 0 1 0 2.9 0a1.45 1.45 0 1 0 -2.9 0M284.38 239.1a1.45 1.45 0 1 0 2.9 0a1.45 1.45 0 1 0 -2.9 0M288.97 234a1.45 1.45 0 1 0 2.9 0a1.45 1.45 0 1 0 -2.9 0M293.57 236.5a1.45 1.45 0 1 0 2.9 0a1.45 1.45 0 1 0 -2.9 0M298.16 226.8a1.45 1.45 0 1 0 2.9 0a1.45 1.45 0 1 0 -2.9 0M302.75 225.6a1.45 1.45 0 1 0 2.9 0a1.45 1.45 0 1 0 -2.9 0M307.35 229a1.45 1.45 0 1 0 2.9 0a1.45 1.45 0 1 0 -2.9 0M311.94 231.5a1.45 1.45 0 1 0 2.9 0a1.45 1.45 0 1 0 -2.9 0M316.53 225.9a1.45 1.45 0 1 0 2.9 0a1.45 1.45 0 1 0 -2.9 0M321.13 227.3a1.45 1.45 0 1 0 2.9 0a1.45 1.45 0 1 0 -2.9 0M325.72 229.8a1.45 1.45 0 1 0 2.9 0a1.45 1.45 0 1 0 -2.9 0M330.32 229.8a1.45 1.45 0 1 0 2.9 0a1.45 1.45 0 1 0 -2.9 0M334.91 242.5a1.45 1.45 0 1 0 2.9 0a1.45 1.45 0 1 0 -2.9 0M339.5 236a1.45 1.45 0 1 0 2.9 0a1.45 1.45 0 1 0 -2.9 0M344.1 239.1a1.45 1.45 0 1 0 2.9 0a1.45 1.45 0 1 0 -2.9 0M348.69 244.6a1.45 1.45 0 1 0 2.9 0a1.45 1.45 0 1 0 -2.9 0M353.28 239.6a1.45 1.45 0 1 0 2.9 0a1.45 1.45 0 1 0 -2.9 0M357.88 247.2a1.45 1.45 0 1 0 2.9 0a1.45 1.45 0 1 0 -2.9 0M362.47 248.9a1.45 1.45 0 1 0 2.9 0a1.45 1.45 0 1 0 -2.9 0M367.06 241.6a1.45 1.45 0 1 0 2.9 0a1.45 1.45 0 1 0 -2.9 0M371.66 245.8a1.45 1.45 0 1 0 2.9 0a1.45 1.45 0 1 0 -2.9 0M376.25 250.6a1.45 1.45 0 1 0 2.9 0a1.45 1.45 0 1 0 -2.9 0M380.84 243.3a1.45 1.45 0 1 0 2.9 0a1.45 1.45 0 1 0 -2.9 0M385.44 245a1.45 1.45 0 1 0 2.9 0a1.45 1.45 0 1 0 -2.9 0M390.03 245.5a1.45 1.45 0 1 0 2.9 0a1.45 1.45 0 1 0 -2.9 0M394.63 249.5a1.45 1.45 0 1 0 2.9 0a1.45 1.45 0 1 0 -2.9 0M399.22 243.8a1.45 1.45 0 1 0 2.9 0a1.45 1.45 0 1 0 -2.9 0M403.81 245a1.45 1.45 0 1 0 2.9 0a1.45 1.45 0 1 0 -2.9 0M408.41 245a1.45 1.45 0 1 0 2.9 0a1.45 1.45 0 1 0 -2.9 0" fill="#e41212"/>
<line x1="475.72" y1="220.5" x2="484.91" y2="218" stroke="#ffd826" stroke-width="1.0" stroke-dasharray="4.6 2.6 1 2.6"/>
<polyline points="434.38,237.1 438.97,231.9 443.57,219.3 448.16,250.5 452.76,222.1 457.35,226.9 461.94,254.8 466.54,229 471.13,222.2 475.72,220.5" fill="none" stroke="#ffd826" stroke-width="1.0" stroke-linejoin="round" stroke-linecap="round"/>
<polyline points="484.91,218 489.5,227.3 494.1,245 498.69,235.7 503.28,228.4 507.88,235.4 512.47,224.7 517.07,222.5 521.66,246.7 526.25,233.2 530.85,240.8 535.44,250 540.03,235.4 544.63,245 549.22,234.9 553.81,226.4 558.41,241.1 563,245.8 567.59,233.7 572.19,250.9 576.78,245.8 581.38,248.4 585.97,243.3 590.56,254.6 595.16,241.6" fill="none" stroke="#ffd826" stroke-width="1.0" stroke-linejoin="round" stroke-linecap="round"/>
<path d="M433.03 237.1a1.35 1.35 0 1 0 2.7 0a1.35 1.35 0 1 0 -2.7 0M437.62 231.9a1.35 1.35 0 1 0 2.7 0a1.35 1.35 0 1 0 -2.7 0M442.22 219.3a1.35 1.35 0 1 0 2.7 0a1.35 1.35 0 1 0 -2.7 0M446.81 250.5a1.35 1.35 0 1 0 2.7 0a1.35 1.35 0 1 0 -2.7 0M451.41 222.1a1.35 1.35 0 1 0 2.7 0a1.35 1.35 0 1 0 -2.7 0M456 226.9a1.35 1.35 0 1 0 2.7 0a1.35 1.35 0 1 0 -2.7 0M460.59 254.8a1.35 1.35 0 1 0 2.7 0a1.35 1.35 0 1 0 -2.7 0M465.19 229a1.35 1.35 0 1 0 2.7 0a1.35 1.35 0 1 0 -2.7 0M469.78 222.2a1.35 1.35 0 1 0 2.7 0a1.35 1.35 0 1 0 -2.7 0M474.37 220.5a1.35 1.35 0 1 0 2.7 0a1.35 1.35 0 1 0 -2.7 0M483.56 218a1.35 1.35 0 1 0 2.7 0a1.35 1.35 0 1 0 -2.7 0M488.15 227.3a1.35 1.35 0 1 0 2.7 0a1.35 1.35 0 1 0 -2.7 0M492.75 245a1.35 1.35 0 1 0 2.7 0a1.35 1.35 0 1 0 -2.7 0M497.34 235.7a1.35 1.35 0 1 0 2.7 0a1.35 1.35 0 1 0 -2.7 0M501.93 228.4a1.35 1.35 0 1 0 2.7 0a1.35 1.35 0 1 0 -2.7 0M506.53 235.4a1.35 1.35 0 1 0 2.7 0a1.35 1.35 0 1 0 -2.7 0M511.12 224.7a1.35 1.35 0 1 0 2.7 0a1.35 1.35 0 1 0 -2.7 0M515.72 222.5a1.35 1.35 0 1 0 2.7 0a1.35 1.35 0 1 0 -2.7 0M520.31 246.7a1.35 1.35 0 1 0 2.7 0a1.35 1.35 0 1 0 -2.7 0M524.9 233.2a1.35 1.35 0 1 0 2.7 0a1.35 1.35 0 1 0 -2.7 0M529.5 240.8a1.35 1.35 0 1 0 2.7 0a1.35 1.35 0 1 0 -2.7 0M534.09 250a1.35 1.35 0 1 0 2.7 0a1.35 1.35 0 1 0 -2.7 0M538.68 235.4a1.35 1.35 0 1 0 2.7 0a1.35 1.35 0 1 0 -2.7 0M543.28 245a1.35 1.35 0 1 0 2.7 0a1.35 1.35 0 1 0 -2.7 0M547.87 234.9a1.35 1.35 0 1 0 2.7 0a1.35 1.35 0 1 0 -2.7 0M552.46 226.4a1.35 1.35 0 1 0 2.7 0a1.35 1.35 0 1 0 -2.7 0M557.06 241.1a1.35 1.35 0 1 0 2.7 0a1.35 1.35 0 1 0 -2.7 0M561.65 245.8a1.35 1.35 0 1 0 2.7 0a1.35 1.35 0 1 0 -2.7 0M566.24 233.7a1.35 1.35 0 1 0 2.7 0a1.35 1.35 0 1 0 -2.7 0M570.84 250.9a1.35 1.35 0 1 0 2.7 0a1.35 1.35 0 1 0 -2.7 0M575.43 245.8a1.35 1.35 0 1 0 2.7 0a1.35 1.35 0 1 0 -2.7 0M580.03 248.4a1.35 1.35 0 1 0 2.7 0a1.35 1.35 0 1 0 -2.7 0M584.62 243.3a1.35 1.35 0 1 0 2.7 0a1.35 1.35 0 1 0 -2.7 0M589.21 254.6a1.35 1.35 0 1 0 2.7 0a1.35 1.35 0 1 0 -2.7 0M593.81 241.6a1.35 1.35 0 1 0 2.7 0a1.35 1.35 0 1 0 -2.7 0" fill="#ffd826"/>
<line x1="475.72" y1="180.8" x2="484.91" y2="187.6" stroke="#2fe02f" stroke-width="1.0" stroke-dasharray="4.6 2.6 1 2.6"/>
<polyline points="429.79,184.7 434.38,188.4 438.97,187.3 443.57,187.6 448.16,180.8 452.76,169.9 457.35,173.6 461.94,186.9 466.54,190.6 471.13,188.4 475.72,180.8" fill="none" stroke="#2fe02f" stroke-width="1.0" stroke-linejoin="round" stroke-linecap="round"/>
<polyline points="484.91,187.6 489.5,193.4 494.1,191.2 498.69,190.6 503.28,189.3 507.88,174.1 512.47,180.3 517.07,164.5 521.66,181.7 526.25,166 530.85,184.2 535.44,169 540.03,189.3 544.63,185.4 549.22,180 553.81,180 558.41,186.4 563,188.8 567.59,194.4 572.19,190.1 576.78,195.5 581.38,179.2 585.97,175 590.56,177 595.16,184.2" fill="none" stroke="#2fe02f" stroke-width="1.0" stroke-linejoin="round" stroke-linecap="round"/>
<path d="M428.44 184.7a1.35 1.35 0 1 0 2.7 0a1.35 1.35 0 1 0 -2.7 0M433.03 188.4a1.35 1.35 0 1 0 2.7 0a1.35 1.35 0 1 0 -2.7 0M437.62 187.3a1.35 1.35 0 1 0 2.7 0a1.35 1.35 0 1 0 -2.7 0M442.22 187.6a1.35 1.35 0 1 0 2.7 0a1.35 1.35 0 1 0 -2.7 0M446.81 180.8a1.35 1.35 0 1 0 2.7 0a1.35 1.35 0 1 0 -2.7 0M451.41 169.9a1.35 1.35 0 1 0 2.7 0a1.35 1.35 0 1 0 -2.7 0M456 173.6a1.35 1.35 0 1 0 2.7 0a1.35 1.35 0 1 0 -2.7 0M460.59 186.9a1.35 1.35 0 1 0 2.7 0a1.35 1.35 0 1 0 -2.7 0M465.19 190.6a1.35 1.35 0 1 0 2.7 0a1.35 1.35 0 1 0 -2.7 0M469.78 188.4a1.35 1.35 0 1 0 2.7 0a1.35 1.35 0 1 0 -2.7 0M474.37 180.8a1.35 1.35 0 1 0 2.7 0a1.35 1.35 0 1 0 -2.7 0M483.56 187.6a1.35 1.35 0 1 0 2.7 0a1.35 1.35 0 1 0 -2.7 0M488.15 193.4a1.35 1.35 0 1 0 2.7 0a1.35 1.35 0 1 0 -2.7 0M492.75 191.2a1.35 1.35 0 1 0 2.7 0a1.35 1.35 0 1 0 -2.7 0M497.34 190.6a1.35 1.35 0 1 0 2.7 0a1.35 1.35 0 1 0 -2.7 0M501.93 189.3a1.35 1.35 0 1 0 2.7 0a1.35 1.35 0 1 0 -2.7 0M506.53 174.1a1.35 1.35 0 1 0 2.7 0a1.35 1.35 0 1 0 -2.7 0M511.12 180.3a1.35 1.35 0 1 0 2.7 0a1.35 1.35 0 1 0 -2.7 0M515.72 164.5a1.35 1.35 0 1 0 2.7 0a1.35 1.35 0 1 0 -2.7 0M520.31 181.7a1.35 1.35 0 1 0 2.7 0a1.35 1.35 0 1 0 -2.7 0M524.9 166a1.35 1.35 0 1 0 2.7 0a1.35 1.35 0 1 0 -2.7 0M529.5 184.2a1.35 1.35 0 1 0 2.7 0a1.35 1.35 0 1 0 -2.7 0M534.09 169a1.35 1.35 0 1 0 2.7 0a1.35 1.35 0 1 0 -2.7 0M538.68 189.3a1.35 1.35 0 1 0 2.7 0a1.35 1.35 0 1 0 -2.7 0M543.28 185.4a1.35 1.35 0 1 0 2.7 0a1.35 1.35 0 1 0 -2.7 0M547.87 180a1.35 1.35 0 1 0 2.7 0a1.35 1.35 0 1 0 -2.7 0M552.46 180a1.35 1.35 0 1 0 2.7 0a1.35 1.35 0 1 0 -2.7 0M557.06 186.4a1.35 1.35 0 1 0 2.7 0a1.35 1.35 0 1 0 -2.7 0M561.65 188.8a1.35 1.35 0 1 0 2.7 0a1.35 1.35 0 1 0 -2.7 0M566.24 194.4a1.35 1.35 0 1 0 2.7 0a1.35 1.35 0 1 0 -2.7 0M570.84 190.1a1.35 1.35 0 1 0 2.7 0a1.35 1.35 0 1 0 -2.7 0M575.43 195.5a1.35 1.35 0 1 0 2.7 0a1.35 1.35 0 1 0 -2.7 0M580.03 179.2a1.35 1.35 0 1 0 2.7 0a1.35 1.35 0 1 0 -2.7 0M584.62 175a1.35 1.35 0 1 0 2.7 0a1.35 1.35 0 1 0 -2.7 0M589.21 177a1.35 1.35 0 1 0 2.7 0a1.35 1.35 0 1 0 -2.7 0M593.81 184.2a1.35 1.35 0 1 0 2.7 0a1.35 1.35 0 1 0 -2.7 0" fill="#2fe02f"/>
<line x1="429.79" y1="222.1" x2="438.97" y2="232.1" stroke="#e41212" stroke-width="1.0" stroke-dasharray="4.6 2.6 1 2.6"/>
<polyline points="438.97,232.1 443.57,237.6 448.16,242.6 452.76,249.9 457.35,246.2 461.94,227.8 466.54,245 471.13,240.8 475.72,234.5 480.32,229 484.91,236.2 489.5,229.3 494.1,233.7 498.69,239.6 503.28,234 507.88,243.3 512.47,238.2 517.07,238.2 521.66,244.6 526.25,242.5 530.85,240.8 535.44,245.5 540.03,246.2 544.63,248.9 549.22,256.3 553.81,261 558.41,255.1 563,256.3 567.59,252.6 572.19,252.6 576.78,250 581.38,250.6 585.97,248.4 590.56,248.9 595.16,249.5" fill="none" stroke="#e41212" stroke-width="1.0" stroke-linejoin="round" stroke-linecap="round"/>
<path d="M428.44 222.1a1.35 1.35 0 1 0 2.7 0a1.35 1.35 0 1 0 -2.7 0M437.62 232.1a1.35 1.35 0 1 0 2.7 0a1.35 1.35 0 1 0 -2.7 0M442.22 237.6a1.35 1.35 0 1 0 2.7 0a1.35 1.35 0 1 0 -2.7 0M446.81 242.6a1.35 1.35 0 1 0 2.7 0a1.35 1.35 0 1 0 -2.7 0M451.41 249.9a1.35 1.35 0 1 0 2.7 0a1.35 1.35 0 1 0 -2.7 0M456 246.2a1.35 1.35 0 1 0 2.7 0a1.35 1.35 0 1 0 -2.7 0M460.59 227.8a1.35 1.35 0 1 0 2.7 0a1.35 1.35 0 1 0 -2.7 0M465.19 245a1.35 1.35 0 1 0 2.7 0a1.35 1.35 0 1 0 -2.7 0M469.78 240.8a1.35 1.35 0 1 0 2.7 0a1.35 1.35 0 1 0 -2.7 0M474.37 234.5a1.35 1.35 0 1 0 2.7 0a1.35 1.35 0 1 0 -2.7 0M478.97 229a1.35 1.35 0 1 0 2.7 0a1.35 1.35 0 1 0 -2.7 0M483.56 236.2a1.35 1.35 0 1 0 2.7 0a1.35 1.35 0 1 0 -2.7 0M488.15 229.3a1.35 1.35 0 1 0 2.7 0a1.35 1.35 0 1 0 -2.7 0M492.75 233.7a1.35 1.35 0 1 0 2.7 0a1.35 1.35 0 1 0 -2.7 0M497.34 239.6a1.35 1.35 0 1 0 2.7 0a1.35 1.35 0 1 0 -2.7 0M501.93 234a1.35 1.35 0 1 0 2.7 0a1.35 1.35 0 1 0 -2.7 0M506.53 243.3a1.35 1.35 0 1 0 2.7 0a1.35 1.35 0 1 0 -2.7 0M511.12 238.2a1.35 1.35 0 1 0 2.7 0a1.35 1.35 0 1 0 -2.7 0M515.72 238.2a1.35 1.35 0 1 0 2.7 0a1.35 1.35 0 1 0 -2.7 0M520.31 244.6a1.35 1.35 0 1 0 2.7 0a1.35 1.35 0 1 0 -2.7 0M524.9 242.5a1.35 1.35 0 1 0 2.7 0a1.35 1.35 0 1 0 -2.7 0M529.5 240.8a1.35 1.35 0 1 0 2.7 0a1.35 1.35 0 1 0 -2.7 0M534.09 245.5a1.35 1.35 0 1 0 2.7 0a1.35 1.35 0 1 0 -2.7 0M538.68 246.2a1.35 1.35 0 1 0 2.7 0a1.35 1.35 0 1 0 -2.7 0M543.28 248.9a1.35 1.35 0 1 0 2.7 0a1.35 1.35 0 1 0 -2.7 0M547.87 256.3a1.35 1.35 0 1 0 2.7 0a1.35 1.35 0 1 0 -2.7 0M552.46 261a1.35 1.35 0 1 0 2.7 0a1.35 1.35 0 1 0 -2.7 0M557.06 255.1a1.35 1.35 0 1 0 2.7 0a1.35 1.35 0 1 0 -2.7 0M561.65 256.3a1.35 1.35 0 1 0 2.7 0a1.35 1.35 0 1 0 -2.7 0M566.24 252.6a1.35 1.35 0 1 0 2.7 0a1.35 1.35 0 1 0 -2.7 0M570.84 252.6a1.35 1.35 0 1 0 2.7 0a1.35 1.35 0 1 0 -2.7 0M575.43 250a1.35 1.35 0 1 0 2.7 0a1.35 1.35 0 1 0 -2.7 0M580.03 250.6a1.35 1.35 0 1 0 2.7 0a1.35 1.35 0 1 0 -2.7 0M584.62 248.4a1.35 1.35 0 1 0 2.7 0a1.35 1.35 0 1 0 -2.7 0M589.21 248.9a1.35 1.35 0 1 0 2.7 0a1.35 1.35 0 1 0 -2.7 0M593.81 249.5a1.35 1.35 0 1 0 2.7 0a1.35 1.35 0 1 0 -2.7 0" fill="#e41212"/>
<line x1="471.13" y1="189.9" x2="480.32" y2="200" stroke="#1450ea" stroke-width="1.0" stroke-dasharray="4.6 2.6 1 2.6"/>
<line x1="517.07" y1="223" x2="526.25" y2="211.2" stroke="#1450ea" stroke-width="1.0" stroke-dasharray="4.6 2.6 1 2.6"/>
<line x1="558.41" y1="180.3" x2="567.59" y2="189.8" stroke="#1450ea" stroke-width="1.0" stroke-dasharray="4.6 2.6 1 2.6"/>
<polyline points="429.79,197.2 434.38,203.1 438.97,201.1 443.57,188.8 448.16,174.9 452.76,211.2 457.35,180.8 461.94,186.8 466.54,193.2 471.13,189.9" fill="none" stroke="#1450ea" stroke-width="1.0" stroke-linejoin="round" stroke-linecap="round"/>
<polyline points="480.32,200 484.91,194.2 489.5,228.1 494.1,203.2 498.69,192.2 503.28,185.4 507.88,213.4 512.47,240.8 517.07,223" fill="none" stroke="#1450ea" stroke-width="1.0" stroke-linejoin="round" stroke-linecap="round"/>
<polyline points="526.25,211.2 530.85,212.1 535.44,212.1 540.03,212.4 544.63,179.2 549.22,181.4 553.81,182 558.41,180.3" fill="none" stroke="#1450ea" stroke-width="1.0" stroke-linejoin="round" stroke-linecap="round"/>
<polyline points="567.59,189.8 572.19,202 576.78,193.2 581.38,183.4 585.97,186.4 590.56,190.5" fill="none" stroke="#1450ea" stroke-width="1.0" stroke-linejoin="round" stroke-linecap="round"/>
<path d="M428.44 197.2a1.35 1.35 0 1 0 2.7 0a1.35 1.35 0 1 0 -2.7 0M433.03 203.1a1.35 1.35 0 1 0 2.7 0a1.35 1.35 0 1 0 -2.7 0M437.62 201.1a1.35 1.35 0 1 0 2.7 0a1.35 1.35 0 1 0 -2.7 0M442.22 188.8a1.35 1.35 0 1 0 2.7 0a1.35 1.35 0 1 0 -2.7 0M446.81 174.9a1.35 1.35 0 1 0 2.7 0a1.35 1.35 0 1 0 -2.7 0M451.41 211.2a1.35 1.35 0 1 0 2.7 0a1.35 1.35 0 1 0 -2.7 0M456 180.8a1.35 1.35 0 1 0 2.7 0a1.35 1.35 0 1 0 -2.7 0M460.59 186.8a1.35 1.35 0 1 0 2.7 0a1.35 1.35 0 1 0 -2.7 0M465.19 193.2a1.35 1.35 0 1 0 2.7 0a1.35 1.35 0 1 0 -2.7 0M469.78 189.9a1.35 1.35 0 1 0 2.7 0a1.35 1.35 0 1 0 -2.7 0M478.97 200a1.35 1.35 0 1 0 2.7 0a1.35 1.35 0 1 0 -2.7 0M483.56 194.2a1.35 1.35 0 1 0 2.7 0a1.35 1.35 0 1 0 -2.7 0M488.15 228.1a1.35 1.35 0 1 0 2.7 0a1.35 1.35 0 1 0 -2.7 0M492.75 203.2a1.35 1.35 0 1 0 2.7 0a1.35 1.35 0 1 0 -2.7 0M497.34 192.2a1.35 1.35 0 1 0 2.7 0a1.35 1.35 0 1 0 -2.7 0M501.93 185.4a1.35 1.35 0 1 0 2.7 0a1.35 1.35 0 1 0 -2.7 0M506.53 213.4a1.35 1.35 0 1 0 2.7 0a1.35 1.35 0 1 0 -2.7 0M511.12 240.8a1.35 1.35 0 1 0 2.7 0a1.35 1.35 0 1 0 -2.7 0M515.72 223a1.35 1.35 0 1 0 2.7 0a1.35 1.35 0 1 0 -2.7 0M524.9 211.2a1.35 1.35 0 1 0 2.7 0a1.35 1.35 0 1 0 -2.7 0M529.5 212.1a1.35 1.35 0 1 0 2.7 0a1.35 1.35 0 1 0 -2.7 0M534.09 212.1a1.35 1.35 0 1 0 2.7 0a1.35 1.35 0 1 0 -2.7 0M538.68 212.4a1.35 1.35 0 1 0 2.7 0a1.35 1.35 0 1 0 -2.7 0M543.28 179.2a1.35 1.35 0 1 0 2.7 0a1.35 1.35 0 1 0 -2.7 0M547.87 181.4a1.35 1.35 0 1 0 2.7 0a1.35 1.35 0 1 0 -2.7 0M552.46 182a1.35 1.35 0 1 0 2.7 0a1.35 1.35 0 1 0 -2.7 0M557.06 180.3a1.35 1.35 0 1 0 2.7 0a1.35 1.35 0 1 0 -2.7 0M566.24 189.8a1.35 1.35 0 1 0 2.7 0a1.35 1.35 0 1 0 -2.7 0M570.84 202a1.35 1.35 0 1 0 2.7 0a1.35 1.35 0 1 0 -2.7 0M575.43 193.2a1.35 1.35 0 1 0 2.7 0a1.35 1.35 0 1 0 -2.7 0M580.03 183.4a1.35 1.35 0 1 0 2.7 0a1.35 1.35 0 1 0 -2.7 0M584.62 186.4a1.35 1.35 0 1 0 2.7 0a1.35 1.35 0 1 0 -2.7 0M589.21 190.5a1.35 1.35 0 1 0 2.7 0a1.35 1.35 0 1 0 -2.7 0" fill="#1450ea"/>
<polyline points="58.69,383.2 63.28,381.9 67.87,378.6 72.47,373.9 77.06,359.9 81.66,372.6 86.25,368.4 90.84,383.5 95.44,359.9 100.03,354.2 104.62,360.4 109.22,357.9 113.81,349.8 118.4,369.2 123,368.9 127.59,365 132.18,349.8 136.78,357.9 141.37,342.4 145.97,339 150.56,330.5 155.15,331.7 159.75,349.4 164.34,336 168.93,338.5 173.53,316 178.12,334.3 182.71,335.6 187.31,338.5 191.9,331.2 196.49,322.8 201.09,339.7 205.68,346.9 210.28,322.1 214.87,329.2 219.46,331.7 224.06,346.9" fill="none" stroke="#1450ea" stroke-width="1.45" stroke-linejoin="round" stroke-linecap="round"/>
<path d="M57.09 383.2a1.6 1.6 0 1 0 3.2 0a1.6 1.6 0 1 0 -3.2 0M61.68 381.9a1.6 1.6 0 1 0 3.2 0a1.6 1.6 0 1 0 -3.2 0M66.27 378.6a1.6 1.6 0 1 0 3.2 0a1.6 1.6 0 1 0 -3.2 0M70.87 373.9a1.6 1.6 0 1 0 3.2 0a1.6 1.6 0 1 0 -3.2 0M75.46 359.9a1.6 1.6 0 1 0 3.2 0a1.6 1.6 0 1 0 -3.2 0M80.06 372.6a1.6 1.6 0 1 0 3.2 0a1.6 1.6 0 1 0 -3.2 0M84.65 368.4a1.6 1.6 0 1 0 3.2 0a1.6 1.6 0 1 0 -3.2 0M89.24 383.5a1.6 1.6 0 1 0 3.2 0a1.6 1.6 0 1 0 -3.2 0M93.84 359.9a1.6 1.6 0 1 0 3.2 0a1.6 1.6 0 1 0 -3.2 0M98.43 354.2a1.6 1.6 0 1 0 3.2 0a1.6 1.6 0 1 0 -3.2 0M103.02 360.4a1.6 1.6 0 1 0 3.2 0a1.6 1.6 0 1 0 -3.2 0M107.62 357.9a1.6 1.6 0 1 0 3.2 0a1.6 1.6 0 1 0 -3.2 0M112.21 349.8a1.6 1.6 0 1 0 3.2 0a1.6 1.6 0 1 0 -3.2 0M116.8 369.2a1.6 1.6 0 1 0 3.2 0a1.6 1.6 0 1 0 -3.2 0M121.4 368.9a1.6 1.6 0 1 0 3.2 0a1.6 1.6 0 1 0 -3.2 0M125.99 365a1.6 1.6 0 1 0 3.2 0a1.6 1.6 0 1 0 -3.2 0M130.58 349.8a1.6 1.6 0 1 0 3.2 0a1.6 1.6 0 1 0 -3.2 0M135.18 357.9a1.6 1.6 0 1 0 3.2 0a1.6 1.6 0 1 0 -3.2 0M139.77 342.4a1.6 1.6 0 1 0 3.2 0a1.6 1.6 0 1 0 -3.2 0M144.37 339a1.6 1.6 0 1 0 3.2 0a1.6 1.6 0 1 0 -3.2 0M148.96 330.5a1.6 1.6 0 1 0 3.2 0a1.6 1.6 0 1 0 -3.2 0M153.55 331.7a1.6 1.6 0 1 0 3.2 0a1.6 1.6 0 1 0 -3.2 0M158.15 349.4a1.6 1.6 0 1 0 3.2 0a1.6 1.6 0 1 0 -3.2 0M162.74 336a1.6 1.6 0 1 0 3.2 0a1.6 1.6 0 1 0 -3.2 0M167.33 338.5a1.6 1.6 0 1 0 3.2 0a1.6 1.6 0 1 0 -3.2 0M171.93 316a1.6 1.6 0 1 0 3.2 0a1.6 1.6 0 1 0 -3.2 0M176.52 334.3a1.6 1.6 0 1 0 3.2 0a1.6 1.6 0 1 0 -3.2 0M181.11 335.6a1.6 1.6 0 1 0 3.2 0a1.6 1.6 0 1 0 -3.2 0M185.71 338.5a1.6 1.6 0 1 0 3.2 0a1.6 1.6 0 1 0 -3.2 0M190.3 331.2a1.6 1.6 0 1 0 3.2 0a1.6 1.6 0 1 0 -3.2 0M194.89 322.8a1.6 1.6 0 1 0 3.2 0a1.6 1.6 0 1 0 -3.2 0M199.49 339.7a1.6 1.6 0 1 0 3.2 0a1.6 1.6 0 1 0 -3.2 0M204.08 346.9a1.6 1.6 0 1 0 3.2 0a1.6 1.6 0 1 0 -3.2 0M208.68 322.1a1.6 1.6 0 1 0 3.2 0a1.6 1.6 0 1 0 -3.2 0M213.27 329.2a1.6 1.6 0 1 0 3.2 0a1.6 1.6 0 1 0 -3.2 0M217.86 331.7a1.6 1.6 0 1 0 3.2 0a1.6 1.6 0 1 0 -3.2 0M222.46 346.9a1.6 1.6 0 1 0 3.2 0a1.6 1.6 0 1 0 -3.2 0" fill="#1450ea"/>
<polyline points="244.49,378.6 249.08,375.1 253.67,366 258.27,339.3 262.86,349.1 267.46,363 272.05,358.2 276.64,379 281.24,352 285.83,349.8 290.42,348.9 295.02,356.5 299.61,341 304.2,359.6 308.8,354 313.39,354 317.98,332.6 322.58,349.1 327.17,338.1 331.77,338.5 336.36,329.5 340.95,330 345.55,344.7 350.14,332.6 354.73,333.9 359.33,311 363.92,311.5 368.51,328.3 373.11,323 377.7,311.5 382.29,316.5 386.89,321.6 391.48,322.8 396.08,312.3 400.67,316.5 405.26,317.9 409.86,330.5" fill="none" stroke="#e41212" stroke-width="1.35" stroke-linejoin="round" stroke-linecap="round"/>
<path d="M243.04 378.6a1.45 1.45 0 1 0 2.9 0a1.45 1.45 0 1 0 -2.9 0M247.63 375.1a1.45 1.45 0 1 0 2.9 0a1.45 1.45 0 1 0 -2.9 0M252.22 366a1.45 1.45 0 1 0 2.9 0a1.45 1.45 0 1 0 -2.9 0M256.82 339.3a1.45 1.45 0 1 0 2.9 0a1.45 1.45 0 1 0 -2.9 0M261.41 349.1a1.45 1.45 0 1 0 2.9 0a1.45 1.45 0 1 0 -2.9 0M266.01 363a1.45 1.45 0 1 0 2.9 0a1.45 1.45 0 1 0 -2.9 0M270.6 358.2a1.45 1.45 0 1 0 2.9 0a1.45 1.45 0 1 0 -2.9 0M275.19 379a1.45 1.45 0 1 0 2.9 0a1.45 1.45 0 1 0 -2.9 0M279.79 352a1.45 1.45 0 1 0 2.9 0a1.45 1.45 0 1 0 -2.9 0M284.38 349.8a1.45 1.45 0 1 0 2.9 0a1.45 1.45 0 1 0 -2.9 0M288.97 348.9a1.45 1.45 0 1 0 2.9 0a1.45 1.45 0 1 0 -2.9 0M293.57 356.5a1.45 1.45 0 1 0 2.9 0a1.45 1.45 0 1 0 -2.9 0M298.16 341a1.45 1.45 0 1 0 2.9 0a1.45 1.45 0 1 0 -2.9 0M302.75 359.6a1.45 1.45 0 1 0 2.9 0a1.45 1.45 0 1 0 -2.9 0M307.35 354a1.45 1.45 0 1 0 2.9 0a1.45 1.45 0 1 0 -2.9 0M311.94 354a1.45 1.45 0 1 0 2.9 0a1.45 1.45 0 1 0 -2.9 0M316.53 332.6a1.45 1.45 0 1 0 2.9 0a1.45 1.45 0 1 0 -2.9 0M321.13 349.1a1.45 1.45 0 1 0 2.9 0a1.45 1.45 0 1 0 -2.9 0M325.72 338.1a1.45 1.45 0 1 0 2.9 0a1.45 1.45 0 1 0 -2.9 0M330.32 338.5a1.45 1.45 0 1 0 2.9 0a1.45 1.45 0 1 0 -2.9 0M334.91 329.5a1.45 1.45 0 1 0 2.9 0a1.45 1.45 0 1 0 -2.9 0M339.5 330a1.45 1.45 0 1 0 2.9 0a1.45 1.45 0 1 0 -2.9 0M344.1 344.7a1.45 1.45 0 1 0 2.9 0a1.45 1.45 0 1 0 -2.9 0M348.69 332.6a1.45 1.45 0 1 0 2.9 0a1.45 1.45 0 1 0 -2.9 0M353.28 333.9a1.45 1.45 0 1 0 2.9 0a1.45 1.45 0 1 0 -2.9 0M357.88 311a1.45 1.45 0 1 0 2.9 0a1.45 1.45 0 1 0 -2.9 0M362.47 311.5a1.45 1.45 0 1 0 2.9 0a1.45 1.45 0 1 0 -2.9 0M367.06 328.3a1.45 1.45 0 1 0 2.9 0a1.45 1.45 0 1 0 -2.9 0M371.66 323a1.45 1.45 0 1 0 2.9 0a1.45 1.45 0 1 0 -2.9 0M376.25 311.5a1.45 1.45 0 1 0 2.9 0a1.45 1.45 0 1 0 -2.9 0M380.84 316.5a1.45 1.45 0 1 0 2.9 0a1.45 1.45 0 1 0 -2.9 0M385.44 321.6a1.45 1.45 0 1 0 2.9 0a1.45 1.45 0 1 0 -2.9 0M390.03 322.8a1.45 1.45 0 1 0 2.9 0a1.45 1.45 0 1 0 -2.9 0M394.63 312.3a1.45 1.45 0 1 0 2.9 0a1.45 1.45 0 1 0 -2.9 0M399.22 316.5a1.45 1.45 0 1 0 2.9 0a1.45 1.45 0 1 0 -2.9 0M403.81 317.9a1.45 1.45 0 1 0 2.9 0a1.45 1.45 0 1 0 -2.9 0M408.41 330.5a1.45 1.45 0 1 0 2.9 0a1.45 1.45 0 1 0 -2.9 0" fill="#e41212"/>
<polyline points="244.49,392.1 249.08,389.4 253.67,389.1 258.27,390 262.86,396.7 267.46,390.3 272.05,389.4 276.64,388.3 281.24,373.1 285.83,386.6 290.42,391.3 295.02,374.8 299.61,382.4 304.2,389.1 308.8,379 313.39,393.3 317.98,392 322.58,385.7 327.17,386.6 331.77,340.2 336.36,383.2 340.95,364.3 345.55,377.3 350.14,384.6 354.73,359.9 359.33,376.5 363.92,388.3 368.51,390.3 373.11,384.9 377.7,377.3 382.29,370.5 386.89,377.3 391.48,382.9 396.08,396.7 400.67,379.8 405.26,379 409.86,392.5" fill="none" stroke="#1450ea" stroke-width="1.35" stroke-linejoin="round" stroke-linecap="round"/>
<path d="M243.04 392.1a1.45 1.45 0 1 0 2.9 0a1.45 1.45 0 1 0 -2.9 0M247.63 389.4a1.45 1.45 0 1 0 2.9 0a1.45 1.45 0 1 0 -2.9 0M252.22 389.1a1.45 1.45 0 1 0 2.9 0a1.45 1.45 0 1 0 -2.9 0M256.82 390a1.45 1.45 0 1 0 2.9 0a1.45 1.45 0 1 0 -2.9 0M261.41 396.7a1.45 1.45 0 1 0 2.9 0a1.45 1.45 0 1 0 -2.9 0M266.01 390.3a1.45 1.45 0 1 0 2.9 0a1.45 1.45 0 1 0 -2.9 0M270.6 389.4a1.45 1.45 0 1 0 2.9 0a1.45 1.45 0 1 0 -2.9 0M275.19 388.3a1.45 1.45 0 1 0 2.9 0a1.45 1.45 0 1 0 -2.9 0M279.79 373.1a1.45 1.45 0 1 0 2.9 0a1.45 1.45 0 1 0 -2.9 0M284.38 386.6a1.45 1.45 0 1 0 2.9 0a1.45 1.45 0 1 0 -2.9 0M288.97 391.3a1.45 1.45 0 1 0 2.9 0a1.45 1.45 0 1 0 -2.9 0M293.57 374.8a1.45 1.45 0 1 0 2.9 0a1.45 1.45 0 1 0 -2.9 0M298.16 382.4a1.45 1.45 0 1 0 2.9 0a1.45 1.45 0 1 0 -2.9 0M302.75 389.1a1.45 1.45 0 1 0 2.9 0a1.45 1.45 0 1 0 -2.9 0M307.35 379a1.45 1.45 0 1 0 2.9 0a1.45 1.45 0 1 0 -2.9 0M311.94 393.3a1.45 1.45 0 1 0 2.9 0a1.45 1.45 0 1 0 -2.9 0M316.53 392a1.45 1.45 0 1 0 2.9 0a1.45 1.45 0 1 0 -2.9 0M321.13 385.7a1.45 1.45 0 1 0 2.9 0a1.45 1.45 0 1 0 -2.9 0M325.72 386.6a1.45 1.45 0 1 0 2.9 0a1.45 1.45 0 1 0 -2.9 0M330.32 340.2a1.45 1.45 0 1 0 2.9 0a1.45 1.45 0 1 0 -2.9 0M334.91 383.2a1.45 1.45 0 1 0 2.9 0a1.45 1.45 0 1 0 -2.9 0M339.5 364.3a1.45 1.45 0 1 0 2.9 0a1.45 1.45 0 1 0 -2.9 0M344.1 377.3a1.45 1.45 0 1 0 2.9 0a1.45 1.45 0 1 0 -2.9 0M348.69 384.6a1.45 1.45 0 1 0 2.9 0a1.45 1.45 0 1 0 -2.9 0M353.28 359.9a1.45 1.45 0 1 0 2.9 0a1.45 1.45 0 1 0 -2.9 0M357.88 376.5a1.45 1.45 0 1 0 2.9 0a1.45 1.45 0 1 0 -2.9 0M362.47 388.3a1.45 1.45 0 1 0 2.9 0a1.45 1.45 0 1 0 -2.9 0M367.06 390.3a1.45 1.45 0 1 0 2.9 0a1.45 1.45 0 1 0 -2.9 0M371.66 384.9a1.45 1.45 0 1 0 2.9 0a1.45 1.45 0 1 0 -2.9 0M376.25 377.3a1.45 1.45 0 1 0 2.9 0a1.45 1.45 0 1 0 -2.9 0M380.84 370.5a1.45 1.45 0 1 0 2.9 0a1.45 1.45 0 1 0 -2.9 0M385.44 377.3a1.45 1.45 0 1 0 2.9 0a1.45 1.45 0 1 0 -2.9 0M390.03 382.9a1.45 1.45 0 1 0 2.9 0a1.45 1.45 0 1 0 -2.9 0M394.63 396.7a1.45 1.45 0 1 0 2.9 0a1.45 1.45 0 1 0 -2.9 0M399.22 379.8a1.45 1.45 0 1 0 2.9 0a1.45 1.45 0 1 0 -2.9 0M403.81 379a1.45 1.45 0 1 0 2.9 0a1.45 1.45 0 1 0 -2.9 0M408.41 392.5a1.45 1.45 0 1 0 2.9 0a1.45 1.45 0 1 0 -2.9 0" fill="#1450ea"/>
<line x1="471.13" y1="348.5" x2="484.91" y2="341" stroke="#ffd826" stroke-width="1.0" stroke-dasharray="4.6 2.6 1 2.6"/>
<polyline points="434.38,365.5 438.97,365.5 443.57,348.1 448.16,347.3 452.76,355.4 457.35,355.6 461.94,382.2 466.54,365.3 471.13,348.5" fill="none" stroke="#ffd826" stroke-width="1.0" stroke-linejoin="round" stroke-linecap="round"/>
<polyline points="484.91,341 489.5,352.4 494.1,379 498.69,373.9 503.28,336.3 507.88,347.8 512.47,322.8 517.07,335.1 521.66,339 526.25,330 530.85,346.1 535.44,327.2 540.03,338.5 544.63,303.5 549.22,319.9 553.81,333.4 558.41,327.2 563,319.9 567.59,339 572.19,303.5 576.78,320.4 581.38,313.7 585.97,318.7 590.56,324.1" fill="none" stroke="#ffd826" stroke-width="1.0" stroke-linejoin="round" stroke-linecap="round"/>
<path d="M433.03 365.5a1.35 1.35 0 1 0 2.7 0a1.35 1.35 0 1 0 -2.7 0M437.62 365.5a1.35 1.35 0 1 0 2.7 0a1.35 1.35 0 1 0 -2.7 0M442.22 348.1a1.35 1.35 0 1 0 2.7 0a1.35 1.35 0 1 0 -2.7 0M446.81 347.3a1.35 1.35 0 1 0 2.7 0a1.35 1.35 0 1 0 -2.7 0M451.41 355.4a1.35 1.35 0 1 0 2.7 0a1.35 1.35 0 1 0 -2.7 0M456 355.6a1.35 1.35 0 1 0 2.7 0a1.35 1.35 0 1 0 -2.7 0M460.59 382.2a1.35 1.35 0 1 0 2.7 0a1.35 1.35 0 1 0 -2.7 0M465.19 365.3a1.35 1.35 0 1 0 2.7 0a1.35 1.35 0 1 0 -2.7 0M469.78 348.5a1.35 1.35 0 1 0 2.7 0a1.35 1.35 0 1 0 -2.7 0M483.56 341a1.35 1.35 0 1 0 2.7 0a1.35 1.35 0 1 0 -2.7 0M488.15 352.4a1.35 1.35 0 1 0 2.7 0a1.35 1.35 0 1 0 -2.7 0M492.75 379a1.35 1.35 0 1 0 2.7 0a1.35 1.35 0 1 0 -2.7 0M497.34 373.9a1.35 1.35 0 1 0 2.7 0a1.35 1.35 0 1 0 -2.7 0M501.93 336.3a1.35 1.35 0 1 0 2.7 0a1.35 1.35 0 1 0 -2.7 0M506.53 347.8a1.35 1.35 0 1 0 2.7 0a1.35 1.35 0 1 0 -2.7 0M511.12 322.8a1.35 1.35 0 1 0 2.7 0a1.35 1.35 0 1 0 -2.7 0M515.72 335.1a1.35 1.35 0 1 0 2.7 0a1.35 1.35 0 1 0 -2.7 0M520.31 339a1.35 1.35 0 1 0 2.7 0a1.35 1.35 0 1 0 -2.7 0M524.9 330a1.35 1.35 0 1 0 2.7 0a1.35 1.35 0 1 0 -2.7 0M529.5 346.1a1.35 1.35 0 1 0 2.7 0a1.35 1.35 0 1 0 -2.7 0M534.09 327.2a1.35 1.35 0 1 0 2.7 0a1.35 1.35 0 1 0 -2.7 0M538.68 338.5a1.35 1.35 0 1 0 2.7 0a1.35 1.35 0 1 0 -2.7 0M543.28 303.5a1.35 1.35 0 1 0 2.7 0a1.35 1.35 0 1 0 -2.7 0M547.87 319.9a1.35 1.35 0 1 0 2.7 0a1.35 1.35 0 1 0 -2.7 0M552.46 333.4a1.35 1.35 0 1 0 2.7 0a1.35 1.35 0 1 0 -2.7 0M557.06 327.2a1.35 1.35 0 1 0 2.7 0a1.35 1.35 0 1 0 -2.7 0M561.65 319.9a1.35 1.35 0 1 0 2.7 0a1.35 1.35 0 1 0 -2.7 0M566.24 339a1.35 1.35 0 1 0 2.7 0a1.35 1.35 0 1 0 -2.7 0M570.84 303.5a1.35 1.35 0 1 0 2.7 0a1.35 1.35 0 1 0 -2.7 0M575.43 320.4a1.35 1.35 0 1 0 2.7 0a1.35 1.35 0 1 0 -2.7 0M580.03 313.7a1.35 1.35 0 1 0 2.7 0a1.35 1.35 0 1 0 -2.7 0M584.62 318.7a1.35 1.35 0 1 0 2.7 0a1.35 1.35 0 1 0 -2.7 0M589.21 324.1a1.35 1.35 0 1 0 2.7 0a1.35 1.35 0 1 0 -2.7 0" fill="#ffd826"/>
<line x1="475.72" y1="398.1" x2="484.91" y2="398.4" stroke="#2fe02f" stroke-width="1.0" stroke-dasharray="4.6 2.6 1 2.6"/>
<line x1="494.1" y1="394.2" x2="503.28" y2="396.4" stroke="#2fe02f" stroke-width="1.0" stroke-dasharray="4.6 2.6 1 2.6"/>
<polyline points="429.79,393.8 434.38,393.7 438.97,397.5 443.57,397 448.16,396.4 452.76,394.7 457.35,401.4 461.94,394.8 466.54,364.9 471.13,398.2 475.72,398.1" fill="none" stroke="#2fe02f" stroke-width="1.0" stroke-linejoin="round" stroke-linecap="round"/>
<polyline points="484.91,398.4 489.5,389.6 494.1,394.2" fill="none" stroke="#2fe02f" stroke-width="1.0" stroke-linejoin="round" stroke-linecap="round"/>
<polyline points="503.28,396.4 507.88,396.4 512.47,397.5 517.07,402.6 521.66,382.9 526.25,403.8 530.85,390 535.44,400.4 540.03,396.4 544.63,384.6 549.22,396.4 553.81,400.1 558.41,393.7 563,386.6 567.59,380.2 572.19,394.2 576.78,397.5 581.38,399.2 585.97,399.2 590.56,395.9 595.16,392.5" fill="none" stroke="#2fe02f" stroke-width="1.0" stroke-linejoin="round" stroke-linecap="round"/>
<path d="M428.44 393.8a1.35 1.35 0 1 0 2.7 0a1.35 1.35 0 1 0 -2.7 0M433.03 393.7a1.35 1.35 0 1 0 2.7 0a1.35 1.35 0 1 0 -2.7 0M437.62 397.5a1.35 1.35 0 1 0 2.7 0a1.35 1.35 0 1 0 -2.7 0M442.22 397a1.35 1.35 0 1 0 2.7 0a1.35 1.35 0 1 0 -2.7 0M446.81 396.4a1.35 1.35 0 1 0 2.7 0a1.35 1.35 0 1 0 -2.7 0M451.41 394.7a1.35 1.35 0 1 0 2.7 0a1.35 1.35 0 1 0 -2.7 0M456 401.4a1.35 1.35 0 1 0 2.7 0a1.35 1.35 0 1 0 -2.7 0M460.59 394.8a1.35 1.35 0 1 0 2.7 0a1.35 1.35 0 1 0 -2.7 0M465.19 364.9a1.35 1.35 0 1 0 2.7 0a1.35 1.35 0 1 0 -2.7 0M469.78 398.2a1.35 1.35 0 1 0 2.7 0a1.35 1.35 0 1 0 -2.7 0M474.37 398.1a1.35 1.35 0 1 0 2.7 0a1.35 1.35 0 1 0 -2.7 0M483.56 398.4a1.35 1.35 0 1 0 2.7 0a1.35 1.35 0 1 0 -2.7 0M488.15 389.6a1.35 1.35 0 1 0 2.7 0a1.35 1.35 0 1 0 -2.7 0M492.75 394.2a1.35 1.35 0 1 0 2.7 0a1.35 1.35 0 1 0 -2.7 0M501.93 396.4a1.35 1.35 0 1 0 2.7 0a1.35 1.35 0 1 0 -2.7 0M506.53 396.4a1.35 1.35 0 1 0 2.7 0a1.35 1.35 0 1 0 -2.7 0M511.12 397.5a1.35 1.35 0 1 0 2.7 0a1.35 1.35 0 1 0 -2.7 0M515.72 402.6a1.35 1.35 0 1 0 2.7 0a1.35 1.35 0 1 0 -2.7 0M520.31 382.9a1.35 1.35 0 1 0 2.7 0a1.35 1.35 0 1 0 -2.7 0M524.9 403.8a1.35 1.35 0 1 0 2.7 0a1.35 1.35 0 1 0 -2.7 0M529.5 390a1.35 1.35 0 1 0 2.7 0a1.35 1.35 0 1 0 -2.7 0M534.09 400.4a1.35 1.35 0 1 0 2.7 0a1.35 1.35 0 1 0 -2.7 0M538.68 396.4a1.35 1.35 0 1 0 2.7 0a1.35 1.35 0 1 0 -2.7 0M543.28 384.6a1.35 1.35 0 1 0 2.7 0a1.35 1.35 0 1 0 -2.7 0M547.87 396.4a1.35 1.35 0 1 0 2.7 0a1.35 1.35 0 1 0 -2.7 0M552.46 400.1a1.35 1.35 0 1 0 2.7 0a1.35 1.35 0 1 0 -2.7 0M557.06 393.7a1.35 1.35 0 1 0 2.7 0a1.35 1.35 0 1 0 -2.7 0M561.65 386.6a1.35 1.35 0 1 0 2.7 0a1.35 1.35 0 1 0 -2.7 0M566.24 380.2a1.35 1.35 0 1 0 2.7 0a1.35 1.35 0 1 0 -2.7 0M570.84 394.2a1.35 1.35 0 1 0 2.7 0a1.35 1.35 0 1 0 -2.7 0M575.43 397.5a1.35 1.35 0 1 0 2.7 0a1.35 1.35 0 1 0 -2.7 0M580.03 399.2a1.35 1.35 0 1 0 2.7 0a1.35 1.35 0 1 0 -2.7 0M584.62 399.2a1.35 1.35 0 1 0 2.7 0a1.35 1.35 0 1 0 -2.7 0M589.21 395.9a1.35 1.35 0 1 0 2.7 0a1.35 1.35 0 1 0 -2.7 0M593.81 392.5a1.35 1.35 0 1 0 2.7 0a1.35 1.35 0 1 0 -2.7 0" fill="#2fe02f"/>
<line x1="429.79" y1="378.6" x2="443.57" y2="318.2" stroke="#e41212" stroke-width="1.0" stroke-dasharray="4.6 2.6 1 2.6"/>
<polyline points="443.57,318.2 448.16,339.7 452.76,361.3 457.35,359.8 461.94,381.3 466.54,340.1 471.13,342.5 475.72,348.6 480.32,353.6 484.91,338.5 489.5,359.2 494.1,336.3 498.69,324.1 503.28,319.1 507.88,299.7 512.47,349.8 517.07,339 521.66,325.5 526.25,325.5 530.85,339.3 535.44,331.2 540.03,326.2 544.63,308.6 549.22,300.8 553.81,308.1 558.41,304.7 563,298 567.59,296.3 572.19,306.9 576.78,315.7 581.38,311.5 585.97,313.2 590.56,312.7 595.16,320.4" fill="none" stroke="#e41212" stroke-width="1.0" stroke-linejoin="round" stroke-linecap="round"/>
<path d="M428.44 378.6a1.35 1.35 0 1 0 2.7 0a1.35 1.35 0 1 0 -2.7 0M442.22 318.2a1.35 1.35 0 1 0 2.7 0a1.35 1.35 0 1 0 -2.7 0M446.81 339.7a1.35 1.35 0 1 0 2.7 0a1.35 1.35 0 1 0 -2.7 0M451.41 361.3a1.35 1.35 0 1 0 2.7 0a1.35 1.35 0 1 0 -2.7 0M456 359.8a1.35 1.35 0 1 0 2.7 0a1.35 1.35 0 1 0 -2.7 0M460.59 381.3a1.35 1.35 0 1 0 2.7 0a1.35 1.35 0 1 0 -2.7 0M465.19 340.1a1.35 1.35 0 1 0 2.7 0a1.35 1.35 0 1 0 -2.7 0M469.78 342.5a1.35 1.35 0 1 0 2.7 0a1.35 1.35 0 1 0 -2.7 0M474.37 348.6a1.35 1.35 0 1 0 2.7 0a1.35 1.35 0 1 0 -2.7 0M478.97 353.6a1.35 1.35 0 1 0 2.7 0a1.35 1.35 0 1 0 -2.7 0M483.56 338.5a1.35 1.35 0 1 0 2.7 0a1.35 1.35 0 1 0 -2.7 0M488.15 359.2a1.35 1.35 0 1 0 2.7 0a1.35 1.35 0 1 0 -2.7 0M492.75 336.3a1.35 1.35 0 1 0 2.7 0a1.35 1.35 0 1 0 -2.7 0M497.34 324.1a1.35 1.35 0 1 0 2.7 0a1.35 1.35 0 1 0 -2.7 0M501.93 319.1a1.35 1.35 0 1 0 2.7 0a1.35 1.35 0 1 0 -2.7 0M506.53 299.7a1.35 1.35 0 1 0 2.7 0a1.35 1.35 0 1 0 -2.7 0M511.12 349.8a1.35 1.35 0 1 0 2.7 0a1.35 1.35 0 1 0 -2.7 0M515.72 339a1.35 1.35 0 1 0 2.7 0a1.35 1.35 0 1 0 -2.7 0M520.31 325.5a1.35 1.35 0 1 0 2.7 0a1.35 1.35 0 1 0 -2.7 0M524.9 325.5a1.35 1.35 0 1 0 2.7 0a1.35 1.35 0 1 0 -2.7 0M529.5 339.3a1.35 1.35 0 1 0 2.7 0a1.35 1.35 0 1 0 -2.7 0M534.09 331.2a1.35 1.35 0 1 0 2.7 0a1.35 1.35 0 1 0 -2.7 0M538.68 326.2a1.35 1.35 0 1 0 2.7 0a1.35 1.35 0 1 0 -2.7 0M543.28 308.6a1.35 1.35 0 1 0 2.7 0a1.35 1.35 0 1 0 -2.7 0M547.87 300.8a1.35 1.35 0 1 0 2.7 0a1.35 1.35 0 1 0 -2.7 0M552.46 308.1a1.35 1.35 0 1 0 2.7 0a1.35 1.35 0 1 0 -2.7 0M557.06 304.7a1.35 1.35 0 1 0 2.7 0a1.35 1.35 0 1 0 -2.7 0M561.65 298a1.35 1.35 0 1 0 2.7 0a1.35 1.35 0 1 0 -2.7 0M566.24 296.3a1.35 1.35 0 1 0 2.7 0a1.35 1.35 0 1 0 -2.7 0M570.84 306.9a1.35 1.35 0 1 0 2.7 0a1.35 1.35 0 1 0 -2.7 0M575.43 315.7a1.35 1.35 0 1 0 2.7 0a1.35 1.35 0 1 0 -2.7 0M580.03 311.5a1.35 1.35 0 1 0 2.7 0a1.35 1.35 0 1 0 -2.7 0M584.62 313.2a1.35 1.35 0 1 0 2.7 0a1.35 1.35 0 1 0 -2.7 0M589.21 312.7a1.35 1.35 0 1 0 2.7 0a1.35 1.35 0 1 0 -2.7 0M593.81 320.4a1.35 1.35 0 1 0 2.7 0a1.35 1.35 0 1 0 -2.7 0" fill="#e41212"/>
<line x1="471.13" y1="369.3" x2="480.32" y2="368.5" stroke="#1450ea" stroke-width="1.0" stroke-dasharray="4.6 2.6 1 2.6"/>
<line x1="558.41" y1="382.9" x2="567.59" y2="371.4" stroke="#1450ea" stroke-width="1.0" stroke-dasharray="4.6 2.6 1 2.6"/>
<polyline points="429.79,385.2 434.38,379.5 438.97,368.5 443.57,375.1 448.16,397.5 452.76,366 457.35,390.2 461.94,385.9 466.54,383.6 471.13,369.3" fill="none" stroke="#1450ea" stroke-width="1.0" stroke-linejoin="round" stroke-linecap="round"/>
<polyline points="480.32,368.5 484.91,378.4 489.5,379.3 494.1,365.5 498.69,381.9 503.28,378.1 507.88,368 512.47,328.4 517.07,296.8" fill="none" stroke="#1450ea" stroke-width="1.0" stroke-linejoin="round" stroke-linecap="round"/>
<polyline points="526.25,354.5 530.85,350.8 535.44,358.4 540.03,352.8 544.63,371.7 549.22,384.6 553.81,384.6 558.41,382.9" fill="none" stroke="#1450ea" stroke-width="1.0" stroke-linejoin="round" stroke-linecap="round"/>
<polyline points="567.59,371.4 572.19,366.8 576.78,373.9 581.38,383.5 585.97,374.4 590.56,384" fill="none" stroke="#1450ea" stroke-width="1.0" stroke-linejoin="round" stroke-linecap="round"/>
<path d="M428.44 385.2a1.35 1.35 0 1 0 2.7 0a1.35 1.35 0 1 0 -2.7 0M433.03 379.5a1.35 1.35 0 1 0 2.7 0a1.35 1.35 0 1 0 -2.7 0M437.62 368.5a1.35 1.35 0 1 0 2.7 0a1.35 1.35 0 1 0 -2.7 0M442.22 375.1a1.35 1.35 0 1 0 2.7 0a1.35 1.35 0 1 0 -2.7 0M446.81 397.5a1.35 1.35 0 1 0 2.7 0a1.35 1.35 0 1 0 -2.7 0M451.41 366a1.35 1.35 0 1 0 2.7 0a1.35 1.35 0 1 0 -2.7 0M456 390.2a1.35 1.35 0 1 0 2.7 0a1.35 1.35 0 1 0 -2.7 0M460.59 385.9a1.35 1.35 0 1 0 2.7 0a1.35 1.35 0 1 0 -2.7 0M465.19 383.6a1.35 1.35 0 1 0 2.7 0a1.35 1.35 0 1 0 -2.7 0M469.78 369.3a1.35 1.35 0 1 0 2.7 0a1.35 1.35 0 1 0 -2.7 0M478.97 368.5a1.35 1.35 0 1 0 2.7 0a1.35 1.35 0 1 0 -2.7 0M483.56 378.4a1.35 1.35 0 1 0 2.7 0a1.35 1.35 0 1 0 -2.7 0M488.15 379.3a1.35 1.35 0 1 0 2.7 0a1.35 1.35 0 1 0 -2.7 0M492.75 365.5a1.35 1.35 0 1 0 2.7 0a1.35 1.35 0 1 0 -2.7 0M497.34 381.9a1.35 1.35 0 1 0 2.7 0a1.35 1.35 0 1 0 -2.7 0M501.93 378.1a1.35 1.35 0 1 0 2.7 0a1.35 1.35 0 1 0 -2.7 0M506.53 368a1.35 1.35 0 1 0 2.7 0a1.35 1.35 0 1 0 -2.7 0M511.12 328.4a1.35 1.35 0 1 0 2.7 0a1.35 1.35 0 1 0 -2.7 0M515.72 296.8a1.35 1.35 0 1 0 2.7 0a1.35 1.35 0 1 0 -2.7 0M524.9 354.5a1.35 1.35 0 1 0 2.7 0a1.35 1.35 0 1 0 -2.7 0M529.5 350.8a1.35 1.35 0 1 0 2.7 0a1.35 1.35 0 1 0 -2.7 0M534.09 358.4a1.35 1.35 0 1 0 2.7 0a1.35 1.35 0 1 0 -2.7 0M538.68 352.8a1.35 1.35 0 1 0 2.7 0a1.35 1.35 0 1 0 -2.7 0M543.28 371.7a1.35 1.35 0 1 0 2.7 0a1.35 1.35 0 1 0 -2.7 0M547.87 384.6a1.35 1.35 0 1 0 2.7 0a1.35 1.35 0 1 0 -2.7 0M552.46 384.6a1.35 1.35 0 1 0 2.7 0a1.35 1.35 0 1 0 -2.7 0M557.06 382.9a1.35 1.35 0 1 0 2.7 0a1.35 1.35 0 1 0 -2.7 0M566.24 371.4a1.35 1.35 0 1 0 2.7 0a1.35 1.35 0 1 0 -2.7 0M570.84 366.8a1.35 1.35 0 1 0 2.7 0a1.35 1.35 0 1 0 -2.7 0M575.43 373.9a1.35 1.35 0 1 0 2.7 0a1.35 1.35 0 1 0 -2.7 0M580.03 383.5a1.35 1.35 0 1 0 2.7 0a1.35 1.35 0 1 0 -2.7 0M584.62 374.4a1.35 1.35 0 1 0 2.7 0a1.35 1.35 0 1 0 -2.7 0M589.21 384a1.35 1.35 0 1 0 2.7 0a1.35 1.35 0 1 0 -2.7 0" fill="#1450ea"/>
<polyline points="58.69,510.8 63.28,514.7 67.87,516.4 72.47,520.6 77.06,492.7 81.66,502.4 86.25,503.7 90.84,516.4 95.44,498.3 100.03,481.8 104.62,486 109.22,480.1 113.81,489.9 118.4,506.7 123,511.3 127.59,490.2 132.18,493.9 136.78,497.8 141.37,471.6 145.97,471.6 150.56,467.4 155.15,475.3 159.75,488.5 164.34,472 168.93,486.5 173.53,466.6 178.12,487.7 182.71,478.4 187.31,480.9 191.9,471.3 196.49,466.9 201.09,484.3 205.68,485.1 210.28,449.4 214.87,465.2 219.46,466.9 224.06,474.7" fill="none" stroke="#1450ea" stroke-width="1.45" stroke-linejoin="round" stroke-linecap="round"/>
<path d="M57.09 510.8a1.6 1.6 0 1 0 3.2 0a1.6 1.6 0 1 0 -3.2 0M61.68 514.7a1.6 1.6 0 1 0 3.2 0a1.6 1.6 0 1 0 -3.2 0M66.27 516.4a1.6 1.6 0 1 0 3.2 0a1.6 1.6 0 1 0 -3.2 0M70.87 520.6a1.6 1.6 0 1 0 3.2 0a1.6 1.6 0 1 0 -3.2 0M75.46 492.7a1.6 1.6 0 1 0 3.2 0a1.6 1.6 0 1 0 -3.2 0M80.06 502.4a1.6 1.6 0 1 0 3.2 0a1.6 1.6 0 1 0 -3.2 0M84.65 503.7a1.6 1.6 0 1 0 3.2 0a1.6 1.6 0 1 0 -3.2 0M89.24 516.4a1.6 1.6 0 1 0 3.2 0a1.6 1.6 0 1 0 -3.2 0M93.84 498.3a1.6 1.6 0 1 0 3.2 0a1.6 1.6 0 1 0 -3.2 0M98.43 481.8a1.6 1.6 0 1 0 3.2 0a1.6 1.6 0 1 0 -3.2 0M103.02 486a1.6 1.6 0 1 0 3.2 0a1.6 1.6 0 1 0 -3.2 0M107.62 480.1a1.6 1.6 0 1 0 3.2 0a1.6 1.6 0 1 0 -3.2 0M112.21 489.9a1.6 1.6 0 1 0 3.2 0a1.6 1.6 0 1 0 -3.2 0M116.8 506.7a1.6 1.6 0 1 0 3.2 0a1.6 1.6 0 1 0 -3.2 0M121.4 511.3a1.6 1.6 0 1 0 3.2 0a1.6 1.6 0 1 0 -3.2 0M125.99 490.2a1.6 1.6 0 1 0 3.2 0a1.6 1.6 0 1 0 -3.2 0M130.58 493.9a1.6 1.6 0 1 0 3.2 0a1.6 1.6 0 1 0 -3.2 0M135.18 497.8a1.6 1.6 0 1 0 3.2 0a1.6 1.6 0 1 0 -3.2 0M139.77 471.6a1.6 1.6 0 1 0 3.2 0a1.6 1.6 0 1 0 -3.2 0M144.37 471.6a1.6 1.6 0 1 0 3.2 0a1.6 1.6 0 1 0 -3.2 0M148.96 467.4a1.6 1.6 0 1 0 3.2 0a1.6 1.6 0 1 0 -3.2 0M153.55 475.3a1.6 1.6 0 1 0 3.2 0a1.6 1.6 0 1 0 -3.2 0M158.15 488.5a1.6 1.6 0 1 0 3.2 0a1.6 1.6 0 1 0 -3.2 0M162.74 472a1.6 1.6 0 1 0 3.2 0a1.6 1.6 0 1 0 -3.2 0M167.33 486.5a1.6 1.6 0 1 0 3.2 0a1.6 1.6 0 1 0 -3.2 0M171.93 466.6a1.6 1.6 0 1 0 3.2 0a1.6 1.6 0 1 0 -3.2 0M176.52 487.7a1.6 1.6 0 1 0 3.2 0a1.6 1.6 0 1 0 -3.2 0M181.11 478.4a1.6 1.6 0 1 0 3.2 0a1.6 1.6 0 1 0 -3.2 0M185.71 480.9a1.6 1.6 0 1 0 3.2 0a1.6 1.6 0 1 0 -3.2 0M190.3 471.3a1.6 1.6 0 1 0 3.2 0a1.6 1.6 0 1 0 -3.2 0M194.89 466.9a1.6 1.6 0 1 0 3.2 0a1.6 1.6 0 1 0 -3.2 0M199.49 484.3a1.6 1.6 0 1 0 3.2 0a1.6 1.6 0 1 0 -3.2 0M204.08 485.1a1.6 1.6 0 1 0 3.2 0a1.6 1.6 0 1 0 -3.2 0M208.68 449.4a1.6 1.6 0 1 0 3.2 0a1.6 1.6 0 1 0 -3.2 0M213.27 465.2a1.6 1.6 0 1 0 3.2 0a1.6 1.6 0 1 0 -3.2 0M217.86 466.9a1.6 1.6 0 1 0 3.2 0a1.6 1.6 0 1 0 -3.2 0M222.46 474.7a1.6 1.6 0 1 0 3.2 0a1.6 1.6 0 1 0 -3.2 0" fill="#1450ea"/>
<polyline points="244.49,498.3 249.08,495.3 253.67,492.7 258.27,483.1 262.86,479.7 267.46,485.1 272.05,487.7 276.64,497.8 281.24,475 285.83,473.7 290.42,467.9 295.02,476.7 299.61,477.5 304.2,491.5 308.8,470.8 313.39,469.1 317.98,478 322.58,485.1 327.17,464.5 331.77,469.6 336.36,466.2 340.95,472 345.55,480.9 350.14,467.4 354.73,476.7 359.33,460.2 363.92,467.9 368.51,471.6 373.11,464.5 377.7,446.7 382.29,458.5 386.89,461.5 391.48,451.9 396.08,437.9 400.67,448.3 405.26,447.7 409.86,452.2" fill="none" stroke="#e41212" stroke-width="1.35" stroke-linejoin="round" stroke-linecap="round"/>
<path d="M243.04 498.3a1.45 1.45 0 1 0 2.9 0a1.45 1.45 0 1 0 -2.9 0M247.63 495.3a1.45 1.45 0 1 0 2.9 0a1.45 1.45 0 1 0 -2.9 0M252.22 492.7a1.45 1.45 0 1 0 2.9 0a1.45 1.45 0 1 0 -2.9 0M256.82 483.1a1.45 1.45 0 1 0 2.9 0a1.45 1.45 0 1 0 -2.9 0M261.41 479.7a1.45 1.45 0 1 0 2.9 0a1.45 1.45 0 1 0 -2.9 0M266.01 485.1a1.45 1.45 0 1 0 2.9 0a1.45 1.45 0 1 0 -2.9 0M270.6 487.7a1.45 1.45 0 1 0 2.9 0a1.45 1.45 0 1 0 -2.9 0M275.19 497.8a1.45 1.45 0 1 0 2.9 0a1.45 1.45 0 1 0 -2.9 0M279.79 475a1.45 1.45 0 1 0 2.9 0a1.45 1.45 0 1 0 -2.9 0M284.38 473.7a1.45 1.45 0 1 0 2.9 0a1.45 1.45 0 1 0 -2.9 0M288.97 467.9a1.45 1.45 0 1 0 2.9 0a1.45 1.45 0 1 0 -2.9 0M293.57 476.7a1.45 1.45 0 1 0 2.9 0a1.45 1.45 0 1 0 -2.9 0M298.16 477.5a1.45 1.45 0 1 0 2.9 0a1.45 1.45 0 1 0 -2.9 0M302.75 491.5a1.45 1.45 0 1 0 2.9 0a1.45 1.45 0 1 0 -2.9 0M307.35 470.8a1.45 1.45 0 1 0 2.9 0a1.45 1.45 0 1 0 -2.9 0M311.94 469.1a1.45 1.45 0 1 0 2.9 0a1.45 1.45 0 1 0 -2.9 0M316.53 478a1.45 1.45 0 1 0 2.9 0a1.45 1.45 0 1 0 -2.9 0M321.13 485.1a1.45 1.45 0 1 0 2.9 0a1.45 1.45 0 1 0 -2.9 0M325.72 464.5a1.45 1.45 0 1 0 2.9 0a1.45 1.45 0 1 0 -2.9 0M330.32 469.6a1.45 1.45 0 1 0 2.9 0a1.45 1.45 0 1 0 -2.9 0M334.91 466.2a1.45 1.45 0 1 0 2.9 0a1.45 1.45 0 1 0 -2.9 0M339.5 472a1.45 1.45 0 1 0 2.9 0a1.45 1.45 0 1 0 -2.9 0M344.1 480.9a1.45 1.45 0 1 0 2.9 0a1.45 1.45 0 1 0 -2.9 0M348.69 467.4a1.45 1.45 0 1 0 2.9 0a1.45 1.45 0 1 0 -2.9 0M353.28 476.7a1.45 1.45 0 1 0 2.9 0a1.45 1.45 0 1 0 -2.9 0M357.88 460.2a1.45 1.45 0 1 0 2.9 0a1.45 1.45 0 1 0 -2.9 0M362.47 467.9a1.45 1.45 0 1 0 2.9 0a1.45 1.45 0 1 0 -2.9 0M367.06 471.6a1.45 1.45 0 1 0 2.9 0a1.45 1.45 0 1 0 -2.9 0M371.66 464.5a1.45 1.45 0 1 0 2.9 0a1.45 1.45 0 1 0 -2.9 0M376.25 446.7a1.45 1.45 0 1 0 2.9 0a1.45 1.45 0 1 0 -2.9 0M380.84 458.5a1.45 1.45 0 1 0 2.9 0a1.45 1.45 0 1 0 -2.9 0M385.44 461.5a1.45 1.45 0 1 0 2.9 0a1.45 1.45 0 1 0 -2.9 0M390.03 451.9a1.45 1.45 0 1 0 2.9 0a1.45 1.45 0 1 0 -2.9 0M394.63 437.9a1.45 1.45 0 1 0 2.9 0a1.45 1.45 0 1 0 -2.9 0M399.22 448.3a1.45 1.45 0 1 0 2.9 0a1.45 1.45 0 1 0 -2.9 0M403.81 447.7a1.45 1.45 0 1 0 2.9 0a1.45 1.45 0 1 0 -2.9 0M408.41 452.2a1.45 1.45 0 1 0 2.9 0a1.45 1.45 0 1 0 -2.9 0" fill="#e41212"/>
<polyline points="244.49,536.3 249.08,537.5 253.67,535.4 258.27,536.1 262.86,538.3 267.46,535.4 272.05,534.4 276.64,535.8 281.24,532.7 285.83,537.5 290.42,532.7 295.02,534.9 299.61,534.4 304.2,537.5 308.8,535.4 313.39,535.8 317.98,535.8 322.58,536.6 327.17,537.8 331.77,529.9 336.36,533.7 340.95,529.4 345.55,528.2 350.14,534.9 354.73,529.4 359.33,536.1 363.92,534.4 368.51,534.4 373.11,533.7 377.7,529.9 382.29,531 386.89,532.1 391.48,532.7 396.08,535.4 400.67,532.1 405.26,531 409.86,534.6" fill="none" stroke="#1450ea" stroke-width="1.35" stroke-linejoin="round" stroke-linecap="round"/>
<path d="M243.04 536.3a1.45 1.45 0 1 0 2.9 0a1.45 1.45 0 1 0 -2.9 0M247.63 537.5a1.45 1.45 0 1 0 2.9 0a1.45 1.45 0 1 0 -2.9 0M252.22 535.4a1.45 1.45 0 1 0 2.9 0a1.45 1.45 0 1 0 -2.9 0M256.82 536.1a1.45 1.45 0 1 0 2.9 0a1.45 1.45 0 1 0 -2.9 0M261.41 538.3a1.45 1.45 0 1 0 2.9 0a1.45 1.45 0 1 0 -2.9 0M266.01 535.4a1.45 1.45 0 1 0 2.9 0a1.45 1.45 0 1 0 -2.9 0M270.6 534.4a1.45 1.45 0 1 0 2.9 0a1.45 1.45 0 1 0 -2.9 0M275.19 535.8a1.45 1.45 0 1 0 2.9 0a1.45 1.45 0 1 0 -2.9 0M279.79 532.7a1.45 1.45 0 1 0 2.9 0a1.45 1.45 0 1 0 -2.9 0M284.38 537.5a1.45 1.45 0 1 0 2.9 0a1.45 1.45 0 1 0 -2.9 0M288.97 532.7a1.45 1.45 0 1 0 2.9 0a1.45 1.45 0 1 0 -2.9 0M293.57 534.9a1.45 1.45 0 1 0 2.9 0a1.45 1.45 0 1 0 -2.9 0M298.16 534.4a1.45 1.45 0 1 0 2.9 0a1.45 1.45 0 1 0 -2.9 0M302.75 537.5a1.45 1.45 0 1 0 2.9 0a1.45 1.45 0 1 0 -2.9 0M307.35 535.4a1.45 1.45 0 1 0 2.9 0a1.45 1.45 0 1 0 -2.9 0M311.94 535.8a1.45 1.45 0 1 0 2.9 0a1.45 1.45 0 1 0 -2.9 0M316.53 535.8a1.45 1.45 0 1 0 2.9 0a1.45 1.45 0 1 0 -2.9 0M321.13 536.6a1.45 1.45 0 1 0 2.9 0a1.45 1.45 0 1 0 -2.9 0M325.72 537.8a1.45 1.45 0 1 0 2.9 0a1.45 1.45 0 1 0 -2.9 0M330.32 529.9a1.45 1.45 0 1 0 2.9 0a1.45 1.45 0 1 0 -2.9 0M334.91 533.7a1.45 1.45 0 1 0 2.9 0a1.45 1.45 0 1 0 -2.9 0M339.5 529.4a1.45 1.45 0 1 0 2.9 0a1.45 1.45 0 1 0 -2.9 0M344.1 528.2a1.45 1.45 0 1 0 2.9 0a1.45 1.45 0 1 0 -2.9 0M348.69 534.9a1.45 1.45 0 1 0 2.9 0a1.45 1.45 0 1 0 -2.9 0M353.28 529.4a1.45 1.45 0 1 0 2.9 0a1.45 1.45 0 1 0 -2.9 0M357.88 536.1a1.45 1.45 0 1 0 2.9 0a1.45 1.45 0 1 0 -2.9 0M362.47 534.4a1.45 1.45 0 1 0 2.9 0a1.45 1.45 0 1 0 -2.9 0M367.06 534.4a1.45 1.45 0 1 0 2.9 0a1.45 1.45 0 1 0 -2.9 0M371.66 533.7a1.45 1.45 0 1 0 2.9 0a1.45 1.45 0 1 0 -2.9 0M376.25 529.9a1.45 1.45 0 1 0 2.9 0a1.45 1.45 0 1 0 -2.9 0M380.84 531a1.45 1.45 0 1 0 2.9 0a1.45 1.45 0 1 0 -2.9 0M385.44 532.1a1.45 1.45 0 1 0 2.9 0a1.45 1.45 0 1 0 -2.9 0M390.03 532.7a1.45 1.45 0 1 0 2.9 0a1.45 1.45 0 1 0 -2.9 0M394.63 535.4a1.45 1.45 0 1 0 2.9 0a1.45 1.45 0 1 0 -2.9 0M399.22 532.1a1.45 1.45 0 1 0 2.9 0a1.45 1.45 0 1 0 -2.9 0M403.81 531a1.45 1.45 0 1 0 2.9 0a1.45 1.45 0 1 0 -2.9 0M408.41 534.6a1.45 1.45 0 1 0 2.9 0a1.45 1.45 0 1 0 -2.9 0" fill="#1450ea"/>
<line x1="471.13" y1="508.4" x2="484.91" y2="488.6" stroke="#ffd826" stroke-width="1.0" stroke-dasharray="4.6 2.6 1 2.6"/>
<line x1="489.5" y1="494" x2="498.69" y2="473.8" stroke="#ffd826" stroke-width="1.0" stroke-dasharray="4.6 2.6 1 2.6"/>
<polyline points="434.38,514.2 438.97,487.7 443.57,484.8 448.16,465.2 452.76,486.5 457.35,485.5 461.94,513.8 466.54,507.4 471.13,508.4" fill="none" stroke="#ffd826" stroke-width="1.0" stroke-linejoin="round" stroke-linecap="round"/>
<polyline points="484.91,488.6 489.5,494" fill="none" stroke="#ffd826" stroke-width="1.0" stroke-linejoin="round" stroke-linecap="round"/>
<polyline points="498.69,473.8 503.28,503.4 507.88,471.8 512.47,456.1 517.07,468.6 521.66,488.2 526.25,477.5 530.85,480.4 535.44,462.9 540.03,479.7 544.63,454.8 549.22,446 553.81,485.1 558.41,478.4 563,465.2 567.59,480.4 572.19,446.3 576.78,448.8 581.38,442.6 585.97,454.8 590.56,450.5" fill="none" stroke="#ffd826" stroke-width="1.0" stroke-linejoin="round" stroke-linecap="round"/>
<path d="M433.03 514.2a1.35 1.35 0 1 0 2.7 0a1.35 1.35 0 1 0 -2.7 0M437.62 487.7a1.35 1.35 0 1 0 2.7 0a1.35 1.35 0 1 0 -2.7 0M442.22 484.8a1.35 1.35 0 1 0 2.7 0a1.35 1.35 0 1 0 -2.7 0M446.81 465.2a1.35 1.35 0 1 0 2.7 0a1.35 1.35 0 1 0 -2.7 0M451.41 486.5a1.35 1.35 0 1 0 2.7 0a1.35 1.35 0 1 0 -2.7 0M456 485.5a1.35 1.35 0 1 0 2.7 0a1.35 1.35 0 1 0 -2.7 0M460.59 513.8a1.35 1.35 0 1 0 2.7 0a1.35 1.35 0 1 0 -2.7 0M465.19 507.4a1.35 1.35 0 1 0 2.7 0a1.35 1.35 0 1 0 -2.7 0M469.78 508.4a1.35 1.35 0 1 0 2.7 0a1.35 1.35 0 1 0 -2.7 0M483.56 488.6a1.35 1.35 0 1 0 2.7 0a1.35 1.35 0 1 0 -2.7 0M488.15 494a1.35 1.35 0 1 0 2.7 0a1.35 1.35 0 1 0 -2.7 0M497.34 473.8a1.35 1.35 0 1 0 2.7 0a1.35 1.35 0 1 0 -2.7 0M501.93 503.4a1.35 1.35 0 1 0 2.7 0a1.35 1.35 0 1 0 -2.7 0M506.53 471.8a1.35 1.35 0 1 0 2.7 0a1.35 1.35 0 1 0 -2.7 0M511.12 456.1a1.35 1.35 0 1 0 2.7 0a1.35 1.35 0 1 0 -2.7 0M515.72 468.6a1.35 1.35 0 1 0 2.7 0a1.35 1.35 0 1 0 -2.7 0M520.31 488.2a1.35 1.35 0 1 0 2.7 0a1.35 1.35 0 1 0 -2.7 0M524.9 477.5a1.35 1.35 0 1 0 2.7 0a1.35 1.35 0 1 0 -2.7 0M529.5 480.4a1.35 1.35 0 1 0 2.7 0a1.35 1.35 0 1 0 -2.7 0M534.09 462.9a1.35 1.35 0 1 0 2.7 0a1.35 1.35 0 1 0 -2.7 0M538.68 479.7a1.35 1.35 0 1 0 2.7 0a1.35 1.35 0 1 0 -2.7 0M543.28 454.8a1.35 1.35 0 1 0 2.7 0a1.35 1.35 0 1 0 -2.7 0M547.87 446a1.35 1.35 0 1 0 2.7 0a1.35 1.35 0 1 0 -2.7 0M552.46 485.1a1.35 1.35 0 1 0 2.7 0a1.35 1.35 0 1 0 -2.7 0M557.06 478.4a1.35 1.35 0 1 0 2.7 0a1.35 1.35 0 1 0 -2.7 0M561.65 465.2a1.35 1.35 0 1 0 2.7 0a1.35 1.35 0 1 0 -2.7 0M566.24 480.4a1.35 1.35 0 1 0 2.7 0a1.35 1.35 0 1 0 -2.7 0M570.84 446.3a1.35 1.35 0 1 0 2.7 0a1.35 1.35 0 1 0 -2.7 0M575.43 448.8a1.35 1.35 0 1 0 2.7 0a1.35 1.35 0 1 0 -2.7 0M580.03 442.6a1.35 1.35 0 1 0 2.7 0a1.35 1.35 0 1 0 -2.7 0M584.62 454.8a1.35 1.35 0 1 0 2.7 0a1.35 1.35 0 1 0 -2.7 0M589.21 450.5a1.35 1.35 0 1 0 2.7 0a1.35 1.35 0 1 0 -2.7 0" fill="#ffd826"/>
<line x1="475.72" y1="537.5" x2="484.91" y2="537.8" stroke="#2fe02f" stroke-width="1.0" stroke-dasharray="4.6 2.6 1 2.6"/>
<line x1="494.1" y1="538" x2="503.28" y2="537.1" stroke="#2fe02f" stroke-width="1.0" stroke-dasharray="4.6 2.6 1 2.6"/>
<polyline points="429.79,536.6 434.38,537.1 438.97,537.1 443.57,537.5 448.16,538.3 452.76,536.1 457.35,537.5 461.94,537.1 466.54,536.1 471.13,538.3 475.72,537.5" fill="none" stroke="#2fe02f" stroke-width="1.0" stroke-linejoin="round" stroke-linecap="round"/>
<polyline points="484.91,537.8 489.5,538.3 494.1,538" fill="none" stroke="#2fe02f" stroke-width="1.0" stroke-linejoin="round" stroke-linecap="round"/>
<polyline points="503.28,537.1 507.88,537.5 512.47,539.1 517.07,537.5 521.66,532.7 526.25,535.8 530.85,533.7 535.44,537.8 540.03,536.6 544.63,534.9 549.22,537.1 553.81,536.6 558.41,532.7 563,534.1 567.59,528.2 572.19,537.1 576.78,533.7 581.38,535.8 585.97,537.8 590.56,537.5 595.16,534.9" fill="none" stroke="#2fe02f" stroke-width="1.0" stroke-linejoin="round" stroke-linecap="round"/>
<path d="M428.44 536.6a1.35 1.35 0 1 0 2.7 0a1.35 1.35 0 1 0 -2.7 0M433.03 537.1a1.35 1.35 0 1 0 2.7 0a1.35 1.35 0 1 0 -2.7 0M437.62 537.1a1.35 1.35 0 1 0 2.7 0a1.35 1.35 0 1 0 -2.7 0M442.22 537.5a1.35 1.35 0 1 0 2.7 0a1.35 1.35 0 1 0 -2.7 0M446.81 538.3a1.35 1.35 0 1 0 2.7 0a1.35 1.35 0 1 0 -2.7 0M451.41 536.1a1.35 1.35 0 1 0 2.7 0a1.35 1.35 0 1 0 -2.7 0M456 537.5a1.35 1.35 0 1 0 2.7 0a1.35 1.35 0 1 0 -2.7 0M460.59 537.1a1.35 1.35 0 1 0 2.7 0a1.35 1.35 0 1 0 -2.7 0M465.19 536.1a1.35 1.35 0 1 0 2.7 0a1.35 1.35 0 1 0 -2.7 0M469.78 538.3a1.35 1.35 0 1 0 2.7 0a1.35 1.35 0 1 0 -2.7 0M474.37 537.5a1.35 1.35 0 1 0 2.7 0a1.35 1.35 0 1 0 -2.7 0M483.56 537.8a1.35 1.35 0 1 0 2.7 0a1.35 1.35 0 1 0 -2.7 0M488.15 538.3a1.35 1.35 0 1 0 2.7 0a1.35 1.35 0 1 0 -2.7 0M492.75 538a1.35 1.35 0 1 0 2.7 0a1.35 1.35 0 1 0 -2.7 0M501.93 537.1a1.35 1.35 0 1 0 2.7 0a1.35 1.35 0 1 0 -2.7 0M506.53 537.5a1.35 1.35 0 1 0 2.7 0a1.35 1.35 0 1 0 -2.7 0M511.12 539.1a1.35 1.35 0 1 0 2.7 0a1.35 1.35 0 1 0 -2.7 0M515.72 537.5a1.35 1.35 0 1 0 2.7 0a1.35 1.35 0 1 0 -2.7 0M520.31 532.7a1.35 1.35 0 1 0 2.7 0a1.35 1.35 0 1 0 -2.7 0M524.9 535.8a1.35 1.35 0 1 0 2.7 0a1.35 1.35 0 1 0 -2.7 0M529.5 533.7a1.35 1.35 0 1 0 2.7 0a1.35 1.35 0 1 0 -2.7 0M534.09 537.8a1.35 1.35 0 1 0 2.7 0a1.35 1.35 0 1 0 -2.7 0M538.68 536.6a1.35 1.35 0 1 0 2.7 0a1.35 1.35 0 1 0 -2.7 0M543.28 534.9a1.35 1.35 0 1 0 2.7 0a1.35 1.35 0 1 0 -2.7 0M547.87 537.1a1.35 1.35 0 1 0 2.7 0a1.35 1.35 0 1 0 -2.7 0M552.46 536.6a1.35 1.35 0 1 0 2.7 0a1.35 1.35 0 1 0 -2.7 0M557.06 532.7a1.35 1.35 0 1 0 2.7 0a1.35 1.35 0 1 0 -2.7 0M561.65 534.1a1.35 1.35 0 1 0 2.7 0a1.35 1.35 0 1 0 -2.7 0M566.24 528.2a1.35 1.35 0 1 0 2.7 0a1.35 1.35 0 1 0 -2.7 0M570.84 537.1a1.35 1.35 0 1 0 2.7 0a1.35 1.35 0 1 0 -2.7 0M575.43 533.7a1.35 1.35 0 1 0 2.7 0a1.35 1.35 0 1 0 -2.7 0M580.03 535.8a1.35 1.35 0 1 0 2.7 0a1.35 1.35 0 1 0 -2.7 0M584.62 537.8a1.35 1.35 0 1 0 2.7 0a1.35 1.35 0 1 0 -2.7 0M589.21 537.5a1.35 1.35 0 1 0 2.7 0a1.35 1.35 0 1 0 -2.7 0M593.81 534.9a1.35 1.35 0 1 0 2.7 0a1.35 1.35 0 1 0 -2.7 0" fill="#2fe02f"/>
<line x1="429.79" y1="498.3" x2="443.57" y2="442.9" stroke="#e41212" stroke-width="1.0" stroke-dasharray="4.6 2.6 1 2.6"/>
<polyline points="443.57,442.9 448.16,470.8 452.76,479.2 457.35,485.5 461.94,490.5 466.54,465.7 471.13,464.9 475.72,467.3 480.32,470.1 484.91,462.7 489.5,485.9 494.1,456.1 498.69,446 503.28,443.3 507.88,444.6 512.47,470.3 517.07,457.8 521.66,459.5 526.25,462.4 530.85,472.5 535.44,461.8 540.03,465.7 544.63,459 549.22,454.8 553.81,444.6 558.41,437.9 563,428.6 567.59,432.5 572.19,440.4 576.78,438.7 581.38,432.5 585.97,440.4 590.56,435.3 595.16,433.2" fill="none" stroke="#e41212" stroke-width="1.0" stroke-linejoin="round" stroke-linecap="round"/>
<path d="M428.44 498.3a1.35 1.35 0 1 0 2.7 0a1.35 1.35 0 1 0 -2.7 0M442.22 442.9a1.35 1.35 0 1 0 2.7 0a1.35 1.35 0 1 0 -2.7 0M446.81 470.8a1.35 1.35 0 1 0 2.7 0a1.35 1.35 0 1 0 -2.7 0M451.41 479.2a1.35 1.35 0 1 0 2.7 0a1.35 1.35 0 1 0 -2.7 0M456 485.5a1.35 1.35 0 1 0 2.7 0a1.35 1.35 0 1 0 -2.7 0M460.59 490.5a1.35 1.35 0 1 0 2.7 0a1.35 1.35 0 1 0 -2.7 0M465.19 465.7a1.35 1.35 0 1 0 2.7 0a1.35 1.35 0 1 0 -2.7 0M469.78 464.9a1.35 1.35 0 1 0 2.7 0a1.35 1.35 0 1 0 -2.7 0M474.37 467.3a1.35 1.35 0 1 0 2.7 0a1.35 1.35 0 1 0 -2.7 0M478.97 470.1a1.35 1.35 0 1 0 2.7 0a1.35 1.35 0 1 0 -2.7 0M483.56 462.7a1.35 1.35 0 1 0 2.7 0a1.35 1.35 0 1 0 -2.7 0M488.15 485.9a1.35 1.35 0 1 0 2.7 0a1.35 1.35 0 1 0 -2.7 0M492.75 456.1a1.35 1.35 0 1 0 2.7 0a1.35 1.35 0 1 0 -2.7 0M497.34 446a1.35 1.35 0 1 0 2.7 0a1.35 1.35 0 1 0 -2.7 0M501.93 443.3a1.35 1.35 0 1 0 2.7 0a1.35 1.35 0 1 0 -2.7 0M506.53 444.6a1.35 1.35 0 1 0 2.7 0a1.35 1.35 0 1 0 -2.7 0M511.12 470.3a1.35 1.35 0 1 0 2.7 0a1.35 1.35 0 1 0 -2.7 0M515.72 457.8a1.35 1.35 0 1 0 2.7 0a1.35 1.35 0 1 0 -2.7 0M520.31 459.5a1.35 1.35 0 1 0 2.7 0a1.35 1.35 0 1 0 -2.7 0M524.9 462.4a1.35 1.35 0 1 0 2.7 0a1.35 1.35 0 1 0 -2.7 0M529.5 472.5a1.35 1.35 0 1 0 2.7 0a1.35 1.35 0 1 0 -2.7 0M534.09 461.8a1.35 1.35 0 1 0 2.7 0a1.35 1.35 0 1 0 -2.7 0M538.68 465.7a1.35 1.35 0 1 0 2.7 0a1.35 1.35 0 1 0 -2.7 0M543.28 459a1.35 1.35 0 1 0 2.7 0a1.35 1.35 0 1 0 -2.7 0M547.87 454.8a1.35 1.35 0 1 0 2.7 0a1.35 1.35 0 1 0 -2.7 0M552.46 444.6a1.35 1.35 0 1 0 2.7 0a1.35 1.35 0 1 0 -2.7 0M557.06 437.9a1.35 1.35 0 1 0 2.7 0a1.35 1.35 0 1 0 -2.7 0M561.65 428.6a1.35 1.35 0 1 0 2.7 0a1.35 1.35 0 1 0 -2.7 0M566.24 432.5a1.35 1.35 0 1 0 2.7 0a1.35 1.35 0 1 0 -2.7 0M570.84 440.4a1.35 1.35 0 1 0 2.7 0a1.35 1.35 0 1 0 -2.7 0M575.43 438.7a1.35 1.35 0 1 0 2.7 0a1.35 1.35 0 1 0 -2.7 0M580.03 432.5a1.35 1.35 0 1 0 2.7 0a1.35 1.35 0 1 0 -2.7 0M584.62 440.4a1.35 1.35 0 1 0 2.7 0a1.35 1.35 0 1 0 -2.7 0M589.21 435.3a1.35 1.35 0 1 0 2.7 0a1.35 1.35 0 1 0 -2.7 0M593.81 433.2a1.35 1.35 0 1 0 2.7 0a1.35 1.35 0 1 0 -2.7 0" fill="#e41212"/>
<line x1="517.07" y1="528.2" x2="526.25" y2="528.2" stroke="#1450ea" stroke-width="1.0" stroke-dasharray="4.6 2.6 1 2.6"/>
<line x1="558.41" y1="535.8" x2="567.59" y2="535.4" stroke="#1450ea" stroke-width="1.0" stroke-dasharray="4.6 2.6 1 2.6"/>
<polyline points="429.79,536.6 434.38,535.8 438.97,531.5 443.57,534.1 448.16,537.5 452.76,534.1 457.35,536.6 461.94,535.4 466.54,531.5 471.13,535.4 475.72,536.1 480.32,536.3 484.91,534.9 489.5,538.3 494.1,532.7 498.69,532.4 503.28,534.6 507.88,534.6 512.47,532.7 517.07,528.2" fill="none" stroke="#1450ea" stroke-width="1.0" stroke-linejoin="round" stroke-linecap="round"/>
<polyline points="526.25,528.2 530.85,514.2 535.44,530.4 540.03,531.5 544.63,535.8 549.22,536.1 553.81,534.9 558.41,535.8" fill="none" stroke="#1450ea" stroke-width="1.0" stroke-linejoin="round" stroke-linecap="round"/>
<polyline points="567.59,535.4 572.19,531 576.78,532.4 581.38,535.8 585.97,532.4 590.56,532.4" fill="none" stroke="#1450ea" stroke-width="1.0" stroke-linejoin="round" stroke-linecap="round"/>
<path d="M428.44 536.6a1.35 1.35 0 1 0 2.7 0a1.35 1.35 0 1 0 -2.7 0M433.03 535.8a1.35 1.35 0 1 0 2.7 0a1.35 1.35 0 1 0 -2.7 0M437.62 531.5a1.35 1.35 0 1 0 2.7 0a1.35 1.35 0 1 0 -2.7 0M442.22 534.1a1.35 1.35 0 1 0 2.7 0a1.35 1.35 0 1 0 -2.7 0M446.81 537.5a1.35 1.35 0 1 0 2.7 0a1.35 1.35 0 1 0 -2.7 0M451.41 534.1a1.35 1.35 0 1 0 2.7 0a1.35 1.35 0 1 0 -2.7 0M456 536.6a1.35 1.35 0 1 0 2.7 0a1.35 1.35 0 1 0 -2.7 0M460.59 535.4a1.35 1.35 0 1 0 2.7 0a1.35 1.35 0 1 0 -2.7 0M465.19 531.5a1.35 1.35 0 1 0 2.7 0a1.35 1.35 0 1 0 -2.7 0M469.78 535.4a1.35 1.35 0 1 0 2.7 0a1.35 1.35 0 1 0 -2.7 0M474.37 536.1a1.35 1.35 0 1 0 2.7 0a1.35 1.35 0 1 0 -2.7 0M478.97 536.3a1.35 1.35 0 1 0 2.7 0a1.35 1.35 0 1 0 -2.7 0M483.56 534.9a1.35 1.35 0 1 0 2.7 0a1.35 1.35 0 1 0 -2.7 0M488.15 538.3a1.35 1.35 0 1 0 2.7 0a1.35 1.35 0 1 0 -2.7 0M492.75 532.7a1.35 1.35 0 1 0 2.7 0a1.35 1.35 0 1 0 -2.7 0M497.34 532.4a1.35 1.35 0 1 0 2.7 0a1.35 1.35 0 1 0 -2.7 0M501.93 534.6a1.35 1.35 0 1 0 2.7 0a1.35 1.35 0 1 0 -2.7 0M506.53 534.6a1.35 1.35 0 1 0 2.7 0a1.35 1.35 0 1 0 -2.7 0M511.12 532.7a1.35 1.35 0 1 0 2.7 0a1.35 1.35 0 1 0 -2.7 0M515.72 528.2a1.35 1.35 0 1 0 2.7 0a1.35 1.35 0 1 0 -2.7 0M524.9 528.2a1.35 1.35 0 1 0 2.7 0a1.35 1.35 0 1 0 -2.7 0M529.5 514.2a1.35 1.35 0 1 0 2.7 0a1.35 1.35 0 1 0 -2.7 0M534.09 530.4a1.35 1.35 0 1 0 2.7 0a1.35 1.35 0 1 0 -2.7 0M538.68 531.5a1.35 1.35 0 1 0 2.7 0a1.35 1.35 0 1 0 -2.7 0M543.28 535.8a1.35 1.35 0 1 0 2.7 0a1.35 1.35 0 1 0 -2.7 0M547.87 536.1a1.35 1.35 0 1 0 2.7 0a1.35 1.35 0 1 0 -2.7 0M552.46 534.9a1.35 1.35 0 1 0 2.7 0a1.35 1.35 0 1 0 -2.7 0M557.06 535.8a1.35 1.35 0 1 0 2.7 0a1.35 1.35 0 1 0 -2.7 0M566.24 535.4a1.35 1.35 0 1 0 2.7 0a1.35 1.35 0 1 0 -2.7 0M570.84 531a1.35 1.35 0 1 0 2.7 0a1.35 1.35 0 1 0 -2.7 0M575.43 532.4a1.35 1.35 0 1 0 2.7 0a1.35 1.35 0 1 0 -2.7 0M580.03 535.8a1.35 1.35 0 1 0 2.7 0a1.35 1.35 0 1 0 -2.7 0M584.62 532.4a1.35 1.35 0 1 0 2.7 0a1.35 1.35 0 1 0 -2.7 0M589.21 532.4a1.35 1.35 0 1 0 2.7 0a1.35 1.35 0 1 0 -2.7 0" fill="#1450ea"/>
<polyline points="58.69,613.2 63.28,622.2 67.87,615.4 72.47,624.2 77.06,603.1 81.66,606 86.25,614.9 90.84,620 95.44,611.5 100.03,595.5 104.62,592.5 109.22,588.4 113.81,596.9 118.4,613.2 123,623.4 127.59,605.3 132.18,600.9 136.78,604.3 141.37,576.9 145.97,576.1 150.56,579.5 155.15,580 159.75,598 164.34,583.4 168.93,600.6 173.53,590.8 178.12,605.3 182.71,598 187.31,600.9 191.9,594.7 196.49,591.3 201.09,601.4 205.68,600.6 210.28,581.2 214.87,589.6 219.46,591.8 224.06,594.2" fill="none" stroke="#1450ea" stroke-width="1.45" stroke-linejoin="round" stroke-linecap="round"/>
<path d="M57.09 613.2a1.6 1.6 0 1 0 3.2 0a1.6 1.6 0 1 0 -3.2 0M61.68 622.2a1.6 1.6 0 1 0 3.2 0a1.6 1.6 0 1 0 -3.2 0M66.27 615.4a1.6 1.6 0 1 0 3.2 0a1.6 1.6 0 1 0 -3.2 0M70.87 624.2a1.6 1.6 0 1 0 3.2 0a1.6 1.6 0 1 0 -3.2 0M75.46 603.1a1.6 1.6 0 1 0 3.2 0a1.6 1.6 0 1 0 -3.2 0M80.06 606a1.6 1.6 0 1 0 3.2 0a1.6 1.6 0 1 0 -3.2 0M84.65 614.9a1.6 1.6 0 1 0 3.2 0a1.6 1.6 0 1 0 -3.2 0M89.24 620a1.6 1.6 0 1 0 3.2 0a1.6 1.6 0 1 0 -3.2 0M93.84 611.5a1.6 1.6 0 1 0 3.2 0a1.6 1.6 0 1 0 -3.2 0M98.43 595.5a1.6 1.6 0 1 0 3.2 0a1.6 1.6 0 1 0 -3.2 0M103.02 592.5a1.6 1.6 0 1 0 3.2 0a1.6 1.6 0 1 0 -3.2 0M107.62 588.4a1.6 1.6 0 1 0 3.2 0a1.6 1.6 0 1 0 -3.2 0M112.21 596.9a1.6 1.6 0 1 0 3.2 0a1.6 1.6 0 1 0 -3.2 0M116.8 613.2a1.6 1.6 0 1 0 3.2 0a1.6 1.6 0 1 0 -3.2 0M121.4 623.4a1.6 1.6 0 1 0 3.2 0a1.6 1.6 0 1 0 -3.2 0M125.99 605.3a1.6 1.6 0 1 0 3.2 0a1.6 1.6 0 1 0 -3.2 0M130.58 600.9a1.6 1.6 0 1 0 3.2 0a1.6 1.6 0 1 0 -3.2 0M135.18 604.3a1.6 1.6 0 1 0 3.2 0a1.6 1.6 0 1 0 -3.2 0M139.77 576.9a1.6 1.6 0 1 0 3.2 0a1.6 1.6 0 1 0 -3.2 0M144.37 576.1a1.6 1.6 0 1 0 3.2 0a1.6 1.6 0 1 0 -3.2 0M148.96 579.5a1.6 1.6 0 1 0 3.2 0a1.6 1.6 0 1 0 -3.2 0M153.55 580a1.6 1.6 0 1 0 3.2 0a1.6 1.6 0 1 0 -3.2 0M158.15 598a1.6 1.6 0 1 0 3.2 0a1.6 1.6 0 1 0 -3.2 0M162.74 583.4a1.6 1.6 0 1 0 3.2 0a1.6 1.6 0 1 0 -3.2 0M167.33 600.6a1.6 1.6 0 1 0 3.2 0a1.6 1.6 0 1 0 -3.2 0M171.93 590.8a1.6 1.6 0 1 0 3.2 0a1.6 1.6 0 1 0 -3.2 0M176.52 605.3a1.6 1.6 0 1 0 3.2 0a1.6 1.6 0 1 0 -3.2 0M181.11 598a1.6 1.6 0 1 0 3.2 0a1.6 1.6 0 1 0 -3.2 0M185.71 600.9a1.6 1.6 0 1 0 3.2 0a1.6 1.6 0 1 0 -3.2 0M190.3 594.7a1.6 1.6 0 1 0 3.2 0a1.6 1.6 0 1 0 -3.2 0M194.89 591.3a1.6 1.6 0 1 0 3.2 0a1.6 1.6 0 1 0 -3.2 0M199.49 601.4a1.6 1.6 0 1 0 3.2 0a1.6 1.6 0 1 0 -3.2 0M204.08 600.6a1.6 1.6 0 1 0 3.2 0a1.6 1.6 0 1 0 -3.2 0M208.68 581.2a1.6 1.6 0 1 0 3.2 0a1.6 1.6 0 1 0 -3.2 0M213.27 589.6a1.6 1.6 0 1 0 3.2 0a1.6 1.6 0 1 0 -3.2 0M217.86 591.8a1.6 1.6 0 1 0 3.2 0a1.6 1.6 0 1 0 -3.2 0M222.46 594.2a1.6 1.6 0 1 0 3.2 0a1.6 1.6 0 1 0 -3.2 0" fill="#1450ea"/>
<polyline points="244.49,594.7 249.08,599.2 253.67,598 258.27,593.8 262.86,589.6 267.46,591.8 272.05,602.6 276.64,600.6 281.24,593.8 285.83,588.4 290.42,577.8 295.02,586.2 299.61,586.2 304.2,598 308.8,598.9 313.39,593.5 317.98,588.8 322.58,594.7 327.17,571 331.77,573.9 336.36,577.8 340.95,576.9 345.55,591.3 350.14,579 354.73,593 359.33,586.2 363.92,593.5 368.51,594.7 373.11,590.1 377.7,579.5 382.29,586.2 386.89,586.2 391.48,577.8 396.08,573.9 400.67,579.1 405.26,580 409.86,579.1" fill="none" stroke="#e41212" stroke-width="1.35" stroke-linejoin="round" stroke-linecap="round"/>
<path d="M243.04 594.7a1.45 1.45 0 1 0 2.9 0a1.45 1.45 0 1 0 -2.9 0M247.63 599.2a1.45 1.45 0 1 0 2.9 0a1.45 1.45 0 1 0 -2.9 0M252.22 598a1.45 1.45 0 1 0 2.9 0a1.45 1.45 0 1 0 -2.9 0M256.82 593.8a1.45 1.45 0 1 0 2.9 0a1.45 1.45 0 1 0 -2.9 0M261.41 589.6a1.45 1.45 0 1 0 2.9 0a1.45 1.45 0 1 0 -2.9 0M266.01 591.8a1.45 1.45 0 1 0 2.9 0a1.45 1.45 0 1 0 -2.9 0M270.6 602.6a1.45 1.45 0 1 0 2.9 0a1.45 1.45 0 1 0 -2.9 0M275.19 600.6a1.45 1.45 0 1 0 2.9 0a1.45 1.45 0 1 0 -2.9 0M279.79 593.8a1.45 1.45 0 1 0 2.9 0a1.45 1.45 0 1 0 -2.9 0M284.38 588.4a1.45 1.45 0 1 0 2.9 0a1.45 1.45 0 1 0 -2.9 0M288.97 577.8a1.45 1.45 0 1 0 2.9 0a1.45 1.45 0 1 0 -2.9 0M293.57 586.2a1.45 1.45 0 1 0 2.9 0a1.45 1.45 0 1 0 -2.9 0M298.16 586.2a1.45 1.45 0 1 0 2.9 0a1.45 1.45 0 1 0 -2.9 0M302.75 598a1.45 1.45 0 1 0 2.9 0a1.45 1.45 0 1 0 -2.9 0M307.35 598.9a1.45 1.45 0 1 0 2.9 0a1.45 1.45 0 1 0 -2.9 0M311.94 593.5a1.45 1.45 0 1 0 2.9 0a1.45 1.45 0 1 0 -2.9 0M316.53 588.8a1.45 1.45 0 1 0 2.9 0a1.45 1.45 0 1 0 -2.9 0M321.13 594.7a1.45 1.45 0 1 0 2.9 0a1.45 1.45 0 1 0 -2.9 0M325.72 571a1.45 1.45 0 1 0 2.9 0a1.45 1.45 0 1 0 -2.9 0M330.32 573.9a1.45 1.45 0 1 0 2.9 0a1.45 1.45 0 1 0 -2.9 0M334.91 577.8a1.45 1.45 0 1 0 2.9 0a1.45 1.45 0 1 0 -2.9 0M339.5 576.9a1.45 1.45 0 1 0 2.9 0a1.45 1.45 0 1 0 -2.9 0M344.1 591.3a1.45 1.45 0 1 0 2.9 0a1.45 1.45 0 1 0 -2.9 0M348.69 579a1.45 1.45 0 1 0 2.9 0a1.45 1.45 0 1 0 -2.9 0M353.28 593a1.45 1.45 0 1 0 2.9 0a1.45 1.45 0 1 0 -2.9 0M357.88 586.2a1.45 1.45 0 1 0 2.9 0a1.45 1.45 0 1 0 -2.9 0M362.47 593.5a1.45 1.45 0 1 0 2.9 0a1.45 1.45 0 1 0 -2.9 0M367.06 594.7a1.45 1.45 0 1 0 2.9 0a1.45 1.45 0 1 0 -2.9 0M371.66 590.1a1.45 1.45 0 1 0 2.9 0a1.45 1.45 0 1 0 -2.9 0M376.25 579.5a1.45 1.45 0 1 0 2.9 0a1.45 1.45 0 1 0 -2.9 0M380.84 586.2a1.45 1.45 0 1 0 2.9 0a1.45 1.45 0 1 0 -2.9 0M385.44 586.2a1.45 1.45 0 1 0 2.9 0a1.45 1.45 0 1 0 -2.9 0M390.03 577.8a1.45 1.45 0 1 0 2.9 0a1.45 1.45 0 1 0 -2.9 0M394.63 573.9a1.45 1.45 0 1 0 2.9 0a1.45 1.45 0 1 0 -2.9 0M399.22 579.1a1.45 1.45 0 1 0 2.9 0a1.45 1.45 0 1 0 -2.9 0M403.81 580a1.45 1.45 0 1 0 2.9 0a1.45 1.45 0 1 0 -2.9 0M408.41 579.1a1.45 1.45 0 1 0 2.9 0a1.45 1.45 0 1 0 -2.9 0" fill="#e41212"/>
<polyline points="244.49,647.8 249.08,645.8 253.67,631.3 258.27,637.4 262.86,645.8 267.46,633.5 272.05,639.4 276.64,641.4 281.24,641.4 285.83,645.3 290.42,631.8 295.02,636.3 299.61,639.4 304.2,647.8 308.8,642.4 313.39,638 317.98,631.3 322.58,635.2 327.17,641.4 331.77,629.3 336.36,633.5 340.95,627.2 345.55,629.3 350.14,638.9 354.73,633.5 359.33,641.4 363.92,634 368.51,633.5 373.11,635.7 377.7,629.6 382.29,633.5 386.89,633.1 391.48,633.1 396.08,637.4 400.67,629.8 405.26,631.3 409.86,634" fill="none" stroke="#1450ea" stroke-width="1.35" stroke-linejoin="round" stroke-linecap="round"/>
<path d="M243.04 647.8a1.45 1.45 0 1 0 2.9 0a1.45 1.45 0 1 0 -2.9 0M247.63 645.8a1.45 1.45 0 1 0 2.9 0a1.45 1.45 0 1 0 -2.9 0M252.22 631.3a1.45 1.45 0 1 0 2.9 0a1.45 1.45 0 1 0 -2.9 0M256.82 637.4a1.45 1.45 0 1 0 2.9 0a1.45 1.45 0 1 0 -2.9 0M261.41 645.8a1.45 1.45 0 1 0 2.9 0a1.45 1.45 0 1 0 -2.9 0M266.01 633.5a1.45 1.45 0 1 0 2.9 0a1.45 1.45 0 1 0 -2.9 0M270.6 639.4a1.45 1.45 0 1 0 2.9 0a1.45 1.45 0 1 0 -2.9 0M275.19 641.4a1.45 1.45 0 1 0 2.9 0a1.45 1.45 0 1 0 -2.9 0M279.79 641.4a1.45 1.45 0 1 0 2.9 0a1.45 1.45 0 1 0 -2.9 0M284.38 645.3a1.45 1.45 0 1 0 2.9 0a1.45 1.45 0 1 0 -2.9 0M288.97 631.8a1.45 1.45 0 1 0 2.9 0a1.45 1.45 0 1 0 -2.9 0M293.57 636.3a1.45 1.45 0 1 0 2.9 0a1.45 1.45 0 1 0 -2.9 0M298.16 639.4a1.45 1.45 0 1 0 2.9 0a1.45 1.45 0 1 0 -2.9 0M302.75 647.8a1.45 1.45 0 1 0 2.9 0a1.45 1.45 0 1 0 -2.9 0M307.35 642.4a1.45 1.45 0 1 0 2.9 0a1.45 1.45 0 1 0 -2.9 0M311.94 638a1.45 1.45 0 1 0 2.9 0a1.45 1.45 0 1 0 -2.9 0M316.53 631.3a1.45 1.45 0 1 0 2.9 0a1.45 1.45 0 1 0 -2.9 0M321.13 635.2a1.45 1.45 0 1 0 2.9 0a1.45 1.45 0 1 0 -2.9 0M325.72 641.4a1.45 1.45 0 1 0 2.9 0a1.45 1.45 0 1 0 -2.9 0M330.32 629.3a1.45 1.45 0 1 0 2.9 0a1.45 1.45 0 1 0 -2.9 0M334.91 633.5a1.45 1.45 0 1 0 2.9 0a1.45 1.45 0 1 0 -2.9 0M339.5 627.2a1.45 1.45 0 1 0 2.9 0a1.45 1.45 0 1 0 -2.9 0M344.1 629.3a1.45 1.45 0 1 0 2.9 0a1.45 1.45 0 1 0 -2.9 0M348.69 638.9a1.45 1.45 0 1 0 2.9 0a1.45 1.45 0 1 0 -2.9 0M353.28 633.5a1.45 1.45 0 1 0 2.9 0a1.45 1.45 0 1 0 -2.9 0M357.88 641.4a1.45 1.45 0 1 0 2.9 0a1.45 1.45 0 1 0 -2.9 0M362.47 634a1.45 1.45 0 1 0 2.9 0a1.45 1.45 0 1 0 -2.9 0M367.06 633.5a1.45 1.45 0 1 0 2.9 0a1.45 1.45 0 1 0 -2.9 0M371.66 635.7a1.45 1.45 0 1 0 2.9 0a1.45 1.45 0 1 0 -2.9 0M376.25 629.6a1.45 1.45 0 1 0 2.9 0a1.45 1.45 0 1 0 -2.9 0M380.84 633.5a1.45 1.45 0 1 0 2.9 0a1.45 1.45 0 1 0 -2.9 0M385.44 633.1a1.45 1.45 0 1 0 2.9 0a1.45 1.45 0 1 0 -2.9 0M390.03 633.1a1.45 1.45 0 1 0 2.9 0a1.45 1.45 0 1 0 -2.9 0M394.63 637.4a1.45 1.45 0 1 0 2.9 0a1.45 1.45 0 1 0 -2.9 0M399.22 629.8a1.45 1.45 0 1 0 2.9 0a1.45 1.45 0 1 0 -2.9 0M403.81 631.3a1.45 1.45 0 1 0 2.9 0a1.45 1.45 0 1 0 -2.9 0M408.41 634a1.45 1.45 0 1 0 2.9 0a1.45 1.45 0 1 0 -2.9 0" fill="#1450ea"/>
<line x1="471.13" y1="604.2" x2="484.91" y2="590.7" stroke="#ffd826" stroke-width="1.0" stroke-dasharray="4.6 2.6 1 2.6"/>
<polyline points="434.38,624.7 438.97,604.8 443.57,601.9 448.16,592.1 452.76,595.5 457.35,605.3 461.94,634 466.54,628.8 471.13,604.2" fill="none" stroke="#ffd826" stroke-width="1.0" stroke-linejoin="round" stroke-linecap="round"/>
<polyline points="484.91,590.7 489.5,590.3 494.1,656.3 498.69,615.8 503.28,608.2 507.88,589.6 512.47,564.8 517.07,571 521.66,585 526.25,579.5 530.85,586.7 535.44,586 540.03,586 544.63,577.8 549.22,580.3 553.81,589.6 558.41,594.2 563,585.4 567.59,603.1 572.19,578.6 576.78,573.9 581.38,577.3 585.97,580 590.56,595.5 595.16,600.6" fill="none" stroke="#ffd826" stroke-width="1.0" stroke-linejoin="round" stroke-linecap="round"/>
<path d="M433.03 624.7a1.35 1.35 0 1 0 2.7 0a1.35 1.35 0 1 0 -2.7 0M437.62 604.8a1.35 1.35 0 1 0 2.7 0a1.35 1.35 0 1 0 -2.7 0M442.22 601.9a1.35 1.35 0 1 0 2.7 0a1.35 1.35 0 1 0 -2.7 0M446.81 592.1a1.35 1.35 0 1 0 2.7 0a1.35 1.35 0 1 0 -2.7 0M451.41 595.5a1.35 1.35 0 1 0 2.7 0a1.35 1.35 0 1 0 -2.7 0M456 605.3a1.35 1.35 0 1 0 2.7 0a1.35 1.35 0 1 0 -2.7 0M460.59 634a1.35 1.35 0 1 0 2.7 0a1.35 1.35 0 1 0 -2.7 0M465.19 628.8a1.35 1.35 0 1 0 2.7 0a1.35 1.35 0 1 0 -2.7 0M469.78 604.2a1.35 1.35 0 1 0 2.7 0a1.35 1.35 0 1 0 -2.7 0M483.56 590.7a1.35 1.35 0 1 0 2.7 0a1.35 1.35 0 1 0 -2.7 0M488.15 590.3a1.35 1.35 0 1 0 2.7 0a1.35 1.35 0 1 0 -2.7 0M492.75 656.3a1.35 1.35 0 1 0 2.7 0a1.35 1.35 0 1 0 -2.7 0M497.34 615.8a1.35 1.35 0 1 0 2.7 0a1.35 1.35 0 1 0 -2.7 0M501.93 608.2a1.35 1.35 0 1 0 2.7 0a1.35 1.35 0 1 0 -2.7 0M506.53 589.6a1.35 1.35 0 1 0 2.7 0a1.35 1.35 0 1 0 -2.7 0M511.12 564.8a1.35 1.35 0 1 0 2.7 0a1.35 1.35 0 1 0 -2.7 0M515.72 571a1.35 1.35 0 1 0 2.7 0a1.35 1.35 0 1 0 -2.7 0M520.31 585a1.35 1.35 0 1 0 2.7 0a1.35 1.35 0 1 0 -2.7 0M524.9 579.5a1.35 1.35 0 1 0 2.7 0a1.35 1.35 0 1 0 -2.7 0M529.5 586.7a1.35 1.35 0 1 0 2.7 0a1.35 1.35 0 1 0 -2.7 0M534.09 586a1.35 1.35 0 1 0 2.7 0a1.35 1.35 0 1 0 -2.7 0M538.68 586a1.35 1.35 0 1 0 2.7 0a1.35 1.35 0 1 0 -2.7 0M543.28 577.8a1.35 1.35 0 1 0 2.7 0a1.35 1.35 0 1 0 -2.7 0M547.87 580.3a1.35 1.35 0 1 0 2.7 0a1.35 1.35 0 1 0 -2.7 0M552.46 589.6a1.35 1.35 0 1 0 2.7 0a1.35 1.35 0 1 0 -2.7 0M557.06 594.2a1.35 1.35 0 1 0 2.7 0a1.35 1.35 0 1 0 -2.7 0M561.65 585.4a1.35 1.35 0 1 0 2.7 0a1.35 1.35 0 1 0 -2.7 0M566.24 603.1a1.35 1.35 0 1 0 2.7 0a1.35 1.35 0 1 0 -2.7 0M570.84 578.6a1.35 1.35 0 1 0 2.7 0a1.35 1.35 0 1 0 -2.7 0M575.43 573.9a1.35 1.35 0 1 0 2.7 0a1.35 1.35 0 1 0 -2.7 0M580.03 577.3a1.35 1.35 0 1 0 2.7 0a1.35 1.35 0 1 0 -2.7 0M584.62 580a1.35 1.35 0 1 0 2.7 0a1.35 1.35 0 1 0 -2.7 0M589.21 595.5a1.35 1.35 0 1 0 2.7 0a1.35 1.35 0 1 0 -2.7 0M593.81 600.6a1.35 1.35 0 1 0 2.7 0a1.35 1.35 0 1 0 -2.7 0" fill="#ffd826"/>
<line x1="475.72" y1="636" x2="484.91" y2="646.1" stroke="#2fe02f" stroke-width="1.0" stroke-dasharray="4.6 2.6 1 2.6"/>
<line x1="494.1" y1="649.5" x2="503.28" y2="632.3" stroke="#2fe02f" stroke-width="1.0" stroke-dasharray="4.6 2.6 1 2.6"/>
<polyline points="429.79,648.7 434.38,645.3 438.97,629.6 443.57,639.7 448.16,646.1 452.76,631.8 457.35,636 461.94,639.4 466.54,644.5 471.13,650.9 475.72,636" fill="none" stroke="#2fe02f" stroke-width="1.0" stroke-linejoin="round" stroke-linecap="round"/>
<polyline points="484.91,646.1 489.5,647.8 494.1,649.5" fill="none" stroke="#2fe02f" stroke-width="1.0" stroke-linejoin="round" stroke-linecap="round"/>
<polyline points="503.28,632.3 507.88,630.1 512.47,641.4 517.07,635.7 521.66,635.2 526.25,638 530.85,633.5 535.44,644.8 540.03,638.5 544.63,640.2 549.22,641.1 553.81,630.1 558.41,630.6 563,633 567.59,635.7 572.19,640.2 576.78,632.3 581.38,637.4 585.97,634 590.56,638.5 595.16,634.3" fill="none" stroke="#2fe02f" stroke-width="1.0" stroke-linejoin="round" stroke-linecap="round"/>
<path d="M428.44 648.7a1.35 1.35 0 1 0 2.7 0a1.35 1.35 0 1 0 -2.7 0M433.03 645.3a1.35 1.35 0 1 0 2.7 0a1.35 1.35 0 1 0 -2.7 0M437.62 629.6a1.35 1.35 0 1 0 2.7 0a1.35 1.35 0 1 0 -2.7 0M442.22 639.7a1.35 1.35 0 1 0 2.7 0a1.35 1.35 0 1 0 -2.7 0M446.81 646.1a1.35 1.35 0 1 0 2.7 0a1.35 1.35 0 1 0 -2.7 0M451.41 631.8a1.35 1.35 0 1 0 2.7 0a1.35 1.35 0 1 0 -2.7 0M456 636a1.35 1.35 0 1 0 2.7 0a1.35 1.35 0 1 0 -2.7 0M460.59 639.4a1.35 1.35 0 1 0 2.7 0a1.35 1.35 0 1 0 -2.7 0M465.19 644.5a1.35 1.35 0 1 0 2.7 0a1.35 1.35 0 1 0 -2.7 0M469.78 650.9a1.35 1.35 0 1 0 2.7 0a1.35 1.35 0 1 0 -2.7 0M474.37 636a1.35 1.35 0 1 0 2.7 0a1.35 1.35 0 1 0 -2.7 0M483.56 646.1a1.35 1.35 0 1 0 2.7 0a1.35 1.35 0 1 0 -2.7 0M488.15 647.8a1.35 1.35 0 1 0 2.7 0a1.35 1.35 0 1 0 -2.7 0M492.75 649.5a1.35 1.35 0 1 0 2.7 0a1.35 1.35 0 1 0 -2.7 0M501.93 632.3a1.35 1.35 0 1 0 2.7 0a1.35 1.35 0 1 0 -2.7 0M506.53 630.1a1.35 1.35 0 1 0 2.7 0a1.35 1.35 0 1 0 -2.7 0M511.12 641.4a1.35 1.35 0 1 0 2.7 0a1.35 1.35 0 1 0 -2.7 0M515.72 635.7a1.35 1.35 0 1 0 2.7 0a1.35 1.35 0 1 0 -2.7 0M520.31 635.2a1.35 1.35 0 1 0 2.7 0a1.35 1.35 0 1 0 -2.7 0M524.9 638a1.35 1.35 0 1 0 2.7 0a1.35 1.35 0 1 0 -2.7 0M529.5 633.5a1.35 1.35 0 1 0 2.7 0a1.35 1.35 0 1 0 -2.7 0M534.09 644.8a1.35 1.35 0 1 0 2.7 0a1.35 1.35 0 1 0 -2.7 0M538.68 638.5a1.35 1.35 0 1 0 2.7 0a1.35 1.35 0 1 0 -2.7 0M543.28 640.2a1.35 1.35 0 1 0 2.7 0a1.35 1.35 0 1 0 -2.7 0M547.87 641.1a1.35 1.35 0 1 0 2.7 0a1.35 1.35 0 1 0 -2.7 0M552.46 630.1a1.35 1.35 0 1 0 2.7 0a1.35 1.35 0 1 0 -2.7 0M557.06 630.6a1.35 1.35 0 1 0 2.7 0a1.35 1.35 0 1 0 -2.7 0M561.65 633a1.35 1.35 0 1 0 2.7 0a1.35 1.35 0 1 0 -2.7 0M566.24 635.7a1.35 1.35 0 1 0 2.7 0a1.35 1.35 0 1 0 -2.7 0M570.84 640.2a1.35 1.35 0 1 0 2.7 0a1.35 1.35 0 1 0 -2.7 0M575.43 632.3a1.35 1.35 0 1 0 2.7 0a1.35 1.35 0 1 0 -2.7 0M580.03 637.4a1.35 1.35 0 1 0 2.7 0a1.35 1.35 0 1 0 -2.7 0M584.62 634a1.35 1.35 0 1 0 2.7 0a1.35 1.35 0 1 0 -2.7 0M589.21 638.5a1.35 1.35 0 1 0 2.7 0a1.35 1.35 0 1 0 -2.7 0M593.81 634.3a1.35 1.35 0 1 0 2.7 0a1.35 1.35 0 1 0 -2.7 0" fill="#2fe02f"/>
<line x1="429.79" y1="594.7" x2="448.16" y2="580.3" stroke="#e41212" stroke-width="1.0" stroke-dasharray="4.6 2.6 1 2.6"/>
<polyline points="448.16,580.3 452.76,583.7 457.35,596.9 461.94,591.8 466.54,577 471.13,575.3 475.72,577.4 480.32,578.5 484.91,577.6 489.5,593.3 494.1,574.1 498.69,562.9 503.28,562.6 507.88,588.8 512.47,577.8 517.07,566 521.66,574.9 526.25,571.9 530.85,589.6 535.44,574.4 540.03,586.7 544.63,584 549.22,585.4 553.81,581.2 558.41,573.9 563,569.9 567.59,568.5 572.19,573.9 576.78,571.9 581.38,570.5 585.97,573.6 590.56,570.5 595.16,569.3" fill="none" stroke="#e41212" stroke-width="1.0" stroke-linejoin="round" stroke-linecap="round"/>
<path d="M428.44 594.7a1.35 1.35 0 1 0 2.7 0a1.35 1.35 0 1 0 -2.7 0M446.81 580.3a1.35 1.35 0 1 0 2.7 0a1.35 1.35 0 1 0 -2.7 0M451.41 583.7a1.35 1.35 0 1 0 2.7 0a1.35 1.35 0 1 0 -2.7 0M456 596.9a1.35 1.35 0 1 0 2.7 0a1.35 1.35 0 1 0 -2.7 0M460.59 591.8a1.35 1.35 0 1 0 2.7 0a1.35 1.35 0 1 0 -2.7 0M465.19 577a1.35 1.35 0 1 0 2.7 0a1.35 1.35 0 1 0 -2.7 0M469.78 575.3a1.35 1.35 0 1 0 2.7 0a1.35 1.35 0 1 0 -2.7 0M474.37 577.4a1.35 1.35 0 1 0 2.7 0a1.35 1.35 0 1 0 -2.7 0M478.97 578.5a1.35 1.35 0 1 0 2.7 0a1.35 1.35 0 1 0 -2.7 0M483.56 577.6a1.35 1.35 0 1 0 2.7 0a1.35 1.35 0 1 0 -2.7 0M488.15 593.3a1.35 1.35 0 1 0 2.7 0a1.35 1.35 0 1 0 -2.7 0M492.75 574.1a1.35 1.35 0 1 0 2.7 0a1.35 1.35 0 1 0 -2.7 0M497.34 562.9a1.35 1.35 0 1 0 2.7 0a1.35 1.35 0 1 0 -2.7 0M501.93 562.6a1.35 1.35 0 1 0 2.7 0a1.35 1.35 0 1 0 -2.7 0M506.53 588.8a1.35 1.35 0 1 0 2.7 0a1.35 1.35 0 1 0 -2.7 0M511.12 577.8a1.35 1.35 0 1 0 2.7 0a1.35 1.35 0 1 0 -2.7 0M515.72 566a1.35 1.35 0 1 0 2.7 0a1.35 1.35 0 1 0 -2.7 0M520.31 574.9a1.35 1.35 0 1 0 2.7 0a1.35 1.35 0 1 0 -2.7 0M524.9 571.9a1.35 1.35 0 1 0 2.7 0a1.35 1.35 0 1 0 -2.7 0M529.5 589.6a1.35 1.35 0 1 0 2.7 0a1.35 1.35 0 1 0 -2.7 0M534.09 574.4a1.35 1.35 0 1 0 2.7 0a1.35 1.35 0 1 0 -2.7 0M538.68 586.7a1.35 1.35 0 1 0 2.7 0a1.35 1.35 0 1 0 -2.7 0M543.28 584a1.35 1.35 0 1 0 2.7 0a1.35 1.35 0 1 0 -2.7 0M547.87 585.4a1.35 1.35 0 1 0 2.7 0a1.35 1.35 0 1 0 -2.7 0M552.46 581.2a1.35 1.35 0 1 0 2.7 0a1.35 1.35 0 1 0 -2.7 0M557.06 573.9a1.35 1.35 0 1 0 2.7 0a1.35 1.35 0 1 0 -2.7 0M561.65 569.9a1.35 1.35 0 1 0 2.7 0a1.35 1.35 0 1 0 -2.7 0M566.24 568.5a1.35 1.35 0 1 0 2.7 0a1.35 1.35 0 1 0 -2.7 0M570.84 573.9a1.35 1.35 0 1 0 2.7 0a1.35 1.35 0 1 0 -2.7 0M575.43 571.9a1.35 1.35 0 1 0 2.7 0a1.35 1.35 0 1 0 -2.7 0M580.03 570.5a1.35 1.35 0 1 0 2.7 0a1.35 1.35 0 1 0 -2.7 0M584.62 573.6a1.35 1.35 0 1 0 2.7 0a1.35 1.35 0 1 0 -2.7 0M589.21 570.5a1.35 1.35 0 1 0 2.7 0a1.35 1.35 0 1 0 -2.7 0M593.81 569.3a1.35 1.35 0 1 0 2.7 0a1.35 1.35 0 1 0 -2.7 0" fill="#e41212"/>
<line x1="471.13" y1="637.2" x2="480.32" y2="644.8" stroke="#1450ea" stroke-width="1.0" stroke-dasharray="4.6 2.6 1 2.6"/>
<line x1="517.07" y1="627.9" x2="526.25" y2="625.5" stroke="#1450ea" stroke-width="1.0" stroke-dasharray="4.6 2.6 1 2.6"/>
<line x1="558.41" y1="638" x2="567.59" y2="639" stroke="#1450ea" stroke-width="1.0" stroke-dasharray="4.6 2.6 1 2.6"/>
<polyline points="429.79,650.4 434.38,644.5 438.97,635.2 443.57,634 448.16,645.8 452.76,647.5 457.35,644.1 461.94,641.4 466.54,638.5 471.13,637.2" fill="none" stroke="#1450ea" stroke-width="1.0" stroke-linejoin="round" stroke-linecap="round"/>
<polyline points="480.32,644.8 484.91,638.5 489.5,651.2 494.1,635.7 498.69,633.5 503.28,633.5 507.88,641.9 512.47,644.1 517.07,627.9" fill="none" stroke="#1450ea" stroke-width="1.0" stroke-linejoin="round" stroke-linecap="round"/>
<polyline points="526.25,625.5 530.85,620.5 535.44,631.3 540.03,636.9 544.63,641.4 549.22,637.4 553.81,636.9 558.41,638" fill="none" stroke="#1450ea" stroke-width="1.0" stroke-linejoin="round" stroke-linecap="round"/>
<polyline points="567.59,639 572.19,630.9 576.78,635.7 581.38,641.9 585.97,631.8 590.56,635.2" fill="none" stroke="#1450ea" stroke-width="1.0" stroke-linejoin="round" stroke-linecap="round"/>
<path d="M428.44 650.4a1.35 1.35 0 1 0 2.7 0a1.35 1.35 0 1 0 -2.7 0M433.03 644.5a1.35 1.35 0 1 0 2.7 0a1.35 1.35 0 1 0 -2.7 0M437.62 635.2a1.35 1.35 0 1 0 2.7 0a1.35 1.35 0 1 0 -2.7 0M442.22 634a1.35 1.35 0 1 0 2.7 0a1.35 1.35 0 1 0 -2.7 0M446.81 645.8a1.35 1.35 0 1 0 2.7 0a1.35 1.35 0 1 0 -2.7 0M451.41 647.5a1.35 1.35 0 1 0 2.7 0a1.35 1.35 0 1 0 -2.7 0M456 644.1a1.35 1.35 0 1 0 2.7 0a1.35 1.35 0 1 0 -2.7 0M460.59 641.4a1.35 1.35 0 1 0 2.7 0a1.35 1.35 0 1 0 -2.7 0M465.19 638.5a1.35 1.35 0 1 0 2.7 0a1.35 1.35 0 1 0 -2.7 0M469.78 637.2a1.35 1.35 0 1 0 2.7 0a1.35 1.35 0 1 0 -2.7 0M478.97 644.8a1.35 1.35 0 1 0 2.7 0a1.35 1.35 0 1 0 -2.7 0M483.56 638.5a1.35 1.35 0 1 0 2.7 0a1.35 1.35 0 1 0 -2.7 0M488.15 651.2a1.35 1.35 0 1 0 2.7 0a1.35 1.35 0 1 0 -2.7 0M492.75 635.7a1.35 1.35 0 1 0 2.7 0a1.35 1.35 0 1 0 -2.7 0M497.34 633.5a1.35 1.35 0 1 0 2.7 0a1.35 1.35 0 1 0 -2.7 0M501.93 633.5a1.35 1.35 0 1 0 2.7 0a1.35 1.35 0 1 0 -2.7 0M506.53 641.9a1.35 1.35 0 1 0 2.7 0a1.35 1.35 0 1 0 -2.7 0M511.12 644.1a1.35 1.35 0 1 0 2.7 0a1.35 1.35 0 1 0 -2.7 0M515.72 627.9a1.35 1.35 0 1 0 2.7 0a1.35 1.35 0 1 0 -2.7 0M524.9 625.5a1.35 1.35 0 1 0 2.7 0a1.35 1.35 0 1 0 -2.7 0M529.5 620.5a1.35 1.35 0 1 0 2.7 0a1.35 1.35 0 1 0 -2.7 0M534.09 631.3a1.35 1.35 0 1 0 2.7 0a1.35 1.35 0 1 0 -2.7 0M538.68 636.9a1.35 1.35 0 1 0 2.7 0a1.35 1.35 0 1 0 -2.7 0M543.28 641.4a1.35 1.35 0 1 0 2.7 0a1.35 1.35 0 1 0 -2.7 0M547.87 637.4a1.35 1.35 0 1 0 2.7 0a1.35 1.35 0 1 0 -2.7 0M552.46 636.9a1.35 1.35 0 1 0 2.7 0a1.35 1.35 0 1 0 -2.7 0M557.06 638a1.35 1.35 0 1 0 2.7 0a1.35 1.35 0 1 0 -2.7 0M566.24 639a1.35 1.35 0 1 0 2.7 0a1.35 1.35 0 1 0 -2.7 0M570.84 630.9a1.35 1.35 0 1 0 2.7 0a1.35 1.35 0 1 0 -2.7 0M575.43 635.7a1.35 1.35 0 1 0 2.7 0a1.35 1.35 0 1 0 -2.7 0M580.03 641.9a1.35 1.35 0 1 0 2.7 0a1.35 1.35 0 1 0 -2.7 0M584.62 631.8a1.35 1.35 0 1 0 2.7 0a1.35 1.35 0 1 0 -2.7 0M589.21 635.2a1.35 1.35 0 1 0 2.7 0a1.35 1.35 0 1 0 -2.7 0" fill="#1450ea"/>
<text x="96.65" y="13.3" font-size="12.8" letter-spacing="1.023" fill="#111" color="#111" class="n">Arctic Oceɑn</text>
<text x="295.33" y="13.3" font-size="12.8" letter-spacing="1.546" fill="#111" color="#111" class="n">EB &amp; AB</text>
<text x="466.83" y="13.3" font-size="12.8" letter-spacing="1.218" fill="#111" color="#111" class="n">Four regions</text>
<text x="215.43" y="35.4" font-size="13.0" text-anchor="start" fill="#262626" color="#262626">ɑ</text>
<text x="400.4" y="35.5" font-size="13.0" text-anchor="start" fill="#262626" color="#262626">b</text>
<text x="586.23" y="35.4" font-size="13.0" text-anchor="start" fill="#262626" color="#262626">c</text>
<text x="215.03" y="170.5" font-size="13.0" text-anchor="start" fill="#262626" color="#262626">d</text>
<text x="400.63" y="170.3" font-size="13.0" text-anchor="start" fill="#262626" color="#262626">e</text>
<text x="586.45" y="169.7" font-size="13.0" text-anchor="start" fill="#262626" color="#262626">f</text>
<text x="215.03" y="308.6" font-size="13.0" text-anchor="start" fill="#262626" color="#262626">g</text>
<text x="400.04" y="307.5" font-size="13.0" text-anchor="start" fill="#262626" color="#262626">h</text>
<text x="585.5" y="306.7" font-size="13.0" text-anchor="start" fill="#262626" color="#262626">i</text>
<text x="215.87" y="441" font-size="13.0" text-anchor="start" fill="#262626" color="#262626">j</text>
<text x="400.2" y="439.6" font-size="13.0" text-anchor="start" fill="#262626" color="#262626">k</text>
<text x="586.4" y="436.7" font-size="13.0" text-anchor="start" fill="#262626" color="#262626">l</text>
<text x="210.5" y="569.5" font-size="13.0" text-anchor="start" fill="#262626" color="#262626">m</text>
<text x="400.5" y="569.9" font-size="13.0" text-anchor="start" fill="#262626" color="#262626">n</text>
<text x="586.73" y="568.5" font-size="13.0" text-anchor="start" fill="#262626" color="#262626">o</text>
<text x="21.1" y="37.1" font-size="11.0" letter-spacing="1.022" fill="#111" color="#111" class="s">−0.5</text>
<text x="21.1" y="68.4" font-size="11.0" letter-spacing="1.003" fill="#111" color="#111" class="s">−1.0</text>
<text x="21.1" y="99.6" font-size="11.0" letter-spacing="1.022" fill="#111" color="#111" class="s">−1.5</text>
<text x="21.1" y="130.8" font-size="11.0" letter-spacing="1.003" fill="#111" color="#111" class="s">−2.0</text>
<text x="22.81" y="171" font-size="11.0" letter-spacing="0.543" fill="#111" color="#111" class="s">34.0</text>
<text x="22.81" y="191.5" font-size="11.0" letter-spacing="0.562" fill="#111" color="#111" class="s">33.5</text>
<text x="22.81" y="212" font-size="11.0" letter-spacing="0.543" fill="#111" color="#111" class="s">33.0</text>
<text x="22.81" y="232.5" font-size="11.0" letter-spacing="0.562" fill="#111" color="#111" class="s">32.5</text>
<text x="22.81" y="253" font-size="11.0" letter-spacing="0.543" fill="#111" color="#111" class="s">32.0</text>
<text x="22.81" y="274" font-size="11.0" letter-spacing="0.562" fill="#111" color="#111" class="s">31.5</text>
<text x="39.73" y="296.1" font-size="11.0" letter-spacing="0.000" fill="#111" color="#111" class="s">6</text>
<text x="39.73" y="312.6" font-size="11.0" letter-spacing="0.000" fill="#111" color="#111" class="s">5</text>
<text x="39.62" y="332.4" font-size="11.0" letter-spacing="0.000" fill="#111" color="#111" class="s">4</text>
<text x="39.73" y="352.2" font-size="11.0" letter-spacing="0.000" fill="#111" color="#111" class="s">3</text>
<text x="39.84" y="372" font-size="11.0" letter-spacing="0.000" fill="#111" color="#111" class="s">2</text>
<text x="39.79" y="391.8" font-size="11.0" letter-spacing="-0.000" fill="#111" color="#111" class="s">1</text>
<text x="39.68" y="407.8" font-size="11.0" letter-spacing="0.000" fill="#111" color="#111" class="s">0</text>
<text x="29.71" y="437.8" font-size="11.0" letter-spacing="0.417" fill="#111" color="#111" class="s">3.0</text>
<text x="29.6" y="455.8" font-size="11.0" letter-spacing="0.500" fill="#111" color="#111" class="s">2.5</text>
<text x="29.6" y="473.8" font-size="11.0" letter-spacing="0.472" fill="#111" color="#111" class="s">2.0</text>
<text x="29.33" y="491.8" font-size="11.0" letter-spacing="0.637" fill="#111" color="#111" class="s">1.5</text>
<text x="29.33" y="509.8" font-size="11.0" letter-spacing="0.610" fill="#111" color="#111" class="s">1.0</text>
<text x="29.71" y="527.8" font-size="11.0" letter-spacing="0.445" fill="#111" color="#111" class="s">0.5</text>
<text x="29.71" y="542" font-size="11.0" letter-spacing="0.417" fill="#111" color="#111" class="s">0.0</text>
<text x="25.5" y="570.3" font-size="11.0" letter-spacing="1.010" fill="#111" color="#111" class="s">250</text>
<text x="25.5" y="592.3" font-size="11.0" letter-spacing="1.010" fill="#111" color="#111" class="s">200</text>
<text x="25.23" y="614.3" font-size="11.0" letter-spacing="1.147" fill="#111" color="#111" class="s">150</text>
<text x="25.23" y="636.3" font-size="11.0" letter-spacing="1.147" fill="#111" color="#111" class="s">100</text>
<text x="32.91" y="658.3" font-size="11.0" letter-spacing="0.715" fill="#111" color="#111" class="s">50</text>
<text x="39.68" y="676.2" font-size="11.0" letter-spacing="0.000" fill="#111" color="#111" class="s">0</text>
<text x="41.45" y="690.7" font-size="10.3" letter-spacing="1.050" fill="#111" color="#111" class="s">1980</text>
<text x="86.59" y="690.7" font-size="10.3" letter-spacing="1.050" fill="#111" color="#111" class="s">1990</text>
<text x="132.65" y="690.7" font-size="10.3" letter-spacing="1.050" fill="#111" color="#111" class="s">2000</text>
<text x="178.59" y="690.7" font-size="10.3" letter-spacing="1.050" fill="#111" color="#111" class="s">2010</text>
<text x="106.08" y="704" font-size="10.5" letter-spacing="0.720" fill="#111" color="#111" class="s">Time (yeɑrs)</text>
<text x="227.25" y="690.7" font-size="10.3" letter-spacing="1.050" fill="#111" color="#111" class="s">1980</text>
<text x="272.39" y="690.7" font-size="10.3" letter-spacing="1.050" fill="#111" color="#111" class="s">1990</text>
<text x="318.45" y="690.7" font-size="10.3" letter-spacing="1.050" fill="#111" color="#111" class="s">2000</text>
<text x="364.39" y="690.7" font-size="10.3" letter-spacing="1.050" fill="#111" color="#111" class="s">2010</text>
<text x="291.88" y="704" font-size="10.5" letter-spacing="0.720" fill="#111" color="#111" class="s">Time (yeɑrs)</text>
<text x="412.55" y="690.7" font-size="10.3" letter-spacing="1.050" fill="#111" color="#111" class="s">1980</text>
<text x="457.69" y="690.7" font-size="10.3" letter-spacing="1.050" fill="#111" color="#111" class="s">1990</text>
<text x="503.75" y="690.7" font-size="10.3" letter-spacing="1.050" fill="#111" color="#111" class="s">2000</text>
<text x="549.69" y="690.7" font-size="10.3" letter-spacing="1.050" fill="#111" color="#111" class="s">2010</text>
<text x="477.18" y="704" font-size="10.5" letter-spacing="0.720" fill="#111" color="#111" class="s">Time (yeɑrs)</text>
<text class="s" transform="translate(10.7,79.3) rotate(-90)" x="0" y="0" font-size="10.7" text-anchor="middle" fill="#111" textLength="83" lengthAdjust="spacing">Temperɑture, °C</text>
<text class="s" transform="translate(13.1,213.6) rotate(-90)" x="0" y="0" font-size="10.7" text-anchor="middle" fill="#111" textLength="37.4" lengthAdjust="spacing">Sɑlinity</text>
<text class="s" transform="translate(20,480) rotate(-90)" x="0" y="0" font-size="10.7" text-anchor="middle" fill="#111" textLength="125" lengthAdjust="spacing">Avɑilɑble PE, 10<tspan dy="-3.5" font-size="7.5">−5</tspan><tspan dy="3.5"> J m</tspan><tspan dy="-3.5" font-size="7.5">−2</tspan></text>
<text class="s" transform="translate(16.7,618.2) rotate(-90)" x="0" y="0" font-size="10.7" text-anchor="middle" fill="#111" textLength="104" lengthAdjust="spacing">Hɑlocline depth, m</text>
<g transform="translate(29.8,347.2) rotate(-90)" fill="#111"><text x="-30.5" y="0" font-size="11" font-weight="bold">Δσ</text><text x="-15.8" y="2.6" font-size="7" font-weight="bold">θ</text><text x="-11.2" y="0" font-size="10.8">,</text><text x="-4" y="0" font-size="10.8" textLength="28" lengthAdjust="spacing">kg/m</text><text x="24.6" y="-4.6" font-size="7">3</text></g>
<text x="61.75" y="128.8" font-size="9.8" letter-spacing="0.024" fill="#111" color="#111" class="s">Trend</text>
<text transform="translate(92.35,128.8) scale(1.2722,1)" font-size="9.4" fill="#111" color="#111" class="s">=</text>
<text transform="translate(100.12,128.8) scale(1.1200,1)" font-size="9.4" fill="#111" color="#111" letter-spacing="0.559" class="s">−0.03±0.04</text>
<text x="165.26" y="129.2" font-size="9.8" letter-spacing="0.238" fill="#111" color="#111" class="s">decɑde</text>
<text transform="translate(199.99,124.6) scale(0.9914,1)" font-size="5.8" fill="#111" color="#111" font-weight="bold" class="s">-1</text>
<text x="61.75" y="266.5" font-size="9.8" letter-spacing="0.024" fill="#111" color="#111" class="s">Trend</text>
<text transform="translate(92.35,266.5) scale(1.2722,1)" font-size="9.4" fill="#111" color="#111" class="s">=</text>
<text transform="translate(100.52,266.5) scale(1.1200,1)" font-size="9.4" fill="#111" color="#111" letter-spacing="0.541" class="s">−0.19±0.07</text>
<text x="164.76" y="266.9" font-size="9.8" letter-spacing="0.238" fill="#111" color="#111" class="s">decɑde</text>
<text transform="translate(199.49,262.3) scale(0.9914,1)" font-size="5.8" fill="#111" color="#111" font-weight="bold" class="s">-1</text>
<text x="61.75" y="304" font-size="9.8" letter-spacing="0.024" fill="#111" color="#111" class="s">Trend</text>
<text transform="translate(92.35,304) scale(1.2722,1)" font-size="9.4" fill="#111" color="#111" class="s">=</text>
<text transform="translate(105.43,304) scale(1.1200,1)" font-size="9.4" fill="#111" color="#111" letter-spacing="0.356" class="s">0.7±0.2</text>
<text x="149.36" y="304.4" font-size="9.8" letter-spacing="0.238" fill="#111" color="#111" class="s">decɑde</text>
<text transform="translate(184.09,299.8) scale(0.9914,1)" font-size="5.8" fill="#111" color="#111" font-weight="bold" class="s">-1</text>
<text x="61.75" y="438.6" font-size="9.8" letter-spacing="0.024" fill="#111" color="#111" class="s">Trend</text>
<text transform="translate(92.35,438.6) scale(1.2722,1)" font-size="9.4" fill="#111" color="#111" class="s">=</text>
<text transform="translate(105.53,438.6) scale(1.1200,1)" font-size="9.4" fill="#111" color="#111" letter-spacing="0.348" class="s">0.4±0.1</text>
<text x="149.26" y="439" font-size="9.8" letter-spacing="0.238" fill="#111" color="#111" class="s">decɑde</text>
<text transform="translate(183.99,434.4) scale(0.9914,1)" font-size="5.8" fill="#111" color="#111" font-weight="bold" class="s">-1</text>
<text x="61.75" y="666.6" font-size="9.8" letter-spacing="0.024" fill="#111" color="#111" class="s">Trend</text>
<text transform="translate(92.35,666.6) scale(1.2722,1)" font-size="9.4" fill="#111" color="#111" class="s">=</text>
<text transform="translate(99.26,666.6) scale(1.1200,1)" font-size="9.4" fill="#111" color="#111" letter-spacing="0.684" class="s">15.9±7.9</text>
<text x="150.06" y="667" font-size="9.8" letter-spacing="0.238" fill="#111" color="#111" class="s">decɑde</text>
<text transform="translate(184.79,662.4) scale(0.9914,1)" font-size="5.8" fill="#111" color="#111" font-weight="bold" class="s">-1</text>
<text x="246.75" y="129.3" font-size="9.8" letter-spacing="0.174" fill="#111" color="#111" class="s">Trend</text>
<text transform="translate(278.23,129.3) scale(1.3161,1)" font-size="9.4" fill="#111" color="#111" class="s">=</text>
<text transform="translate(295.73,125.1) scale(1.1200,1)" font-size="9.4" fill="#dc1a1a" color="#dc1a1a" letter-spacing="0.435" class="s">0.02±0.06</text>
<text transform="translate(290.32,134.4) scale(1.1200,1)" font-size="9.4" fill="#1e5ee0" color="#1e5ee0" letter-spacing="0.580" class="s">−0.15±0.08</text>
<text x="354.26" y="129.7" font-size="9.8" letter-spacing="0.238" fill="#111" color="#111" class="s">decɑde</text>
<text transform="translate(388.99,125.1) scale(0.9914,1)" font-size="5.8" fill="#111" color="#111" font-weight="bold" class="s">-1</text>
<text x="246.75" y="264.9" font-size="9.8" letter-spacing="0.174" fill="#111" color="#111" class="s">Trend</text>
<text transform="translate(278.23,264.9) scale(1.3161,1)" font-size="9.4" fill="#111" color="#111" class="s">=</text>
<text transform="translate(290.32,258.1) scale(1.1200,1)" font-size="9.4" fill="#1e5ee0" color="#1e5ee0" letter-spacing="0.580" class="s">−0.03±0.06</text>
<text transform="translate(290.32,267.9) scale(1.1200,1)" font-size="9.4" fill="#dc1a1a" color="#dc1a1a" letter-spacing="0.580" class="s">−0.15±0.05</text>
<text x="354.26" y="265.3" font-size="9.8" letter-spacing="0.238" fill="#111" color="#111" class="s">decɑde</text>
<text transform="translate(388.99,260.7) scale(0.9914,1)" font-size="5.8" fill="#111" color="#111" font-weight="bold" class="s">-1</text>
<text x="246.75" y="304.6" font-size="9.8" letter-spacing="0.174" fill="#111" color="#111" class="s">Trend</text>
<text transform="translate(278.23,304.6) scale(1.3161,1)" font-size="9.4" fill="#111" color="#111" class="s">=</text>
<text transform="translate(290.93,299.6) scale(1.1200,1)" font-size="9.4" fill="#dc1a1a" color="#dc1a1a" letter-spacing="0.356" class="s">0.8±0.2</text>
<text transform="translate(290.93,310.2) scale(1.1200,1)" font-size="9.4" fill="#1e5ee0" color="#1e5ee0" letter-spacing="0.356" class="s">0.1±0.2</text>
<text x="335.06" y="305" font-size="9.8" letter-spacing="0.238" fill="#111" color="#111" class="s">decɑde</text>
<text transform="translate(369.79,300.4) scale(0.9914,1)" font-size="5.8" fill="#111" color="#111" font-weight="bold" class="s">-1</text>
<text x="246.75" y="440" font-size="9.8" letter-spacing="0.174" fill="#111" color="#111" class="s">Trend</text>
<text transform="translate(278.23,440) scale(1.3161,1)" font-size="9.4" fill="#111" color="#111" class="s">=</text>
<text transform="translate(290.93,434.9) scale(1.1200,1)" font-size="9.4" fill="#dc1a1a" color="#dc1a1a" letter-spacing="0.273" class="s">0.3±0.1</text>
<text transform="translate(290.93,445.6) scale(1.1200,1)" font-size="9.4" fill="#1e5ee0" color="#1e5ee0" letter-spacing="0.451" class="s">0.0±0.0</text>
<text x="332.96" y="440.4" font-size="9.8" letter-spacing="0.238" fill="#111" color="#111" class="s">decɑde</text>
<text transform="translate(367.69,435.8) scale(0.9914,1)" font-size="5.8" fill="#111" color="#111" font-weight="bold" class="s">-1</text>
<text x="274.45" y="664.9" font-size="9.8" letter-spacing="0.174" fill="#111" color="#111" class="s">Trend</text>
<text transform="translate(305.93,664.9) scale(1.3161,1)" font-size="9.4" fill="#111" color="#111" class="s">=</text>
<text transform="translate(318.96,660.4) scale(1.1200,1)" font-size="9.4" fill="#dc1a1a" color="#dc1a1a" letter-spacing="0.238" class="s">10.3±5.1</text>
<text transform="translate(322.32,670.1) scale(1.1200,1)" font-size="9.4" fill="#1e5ee0" color="#1e5ee0" letter-spacing="0.548" class="s">6.4±3.4</text>
<text x="367.56" y="665.3" font-size="9.8" letter-spacing="0.238" fill="#111" color="#111" class="s">decɑde</text>
<text transform="translate(402.29,660.7) scale(0.9914,1)" font-size="5.8" fill="#111" color="#111" font-weight="bold" class="s">-1</text>
</svg>
</body></html>
